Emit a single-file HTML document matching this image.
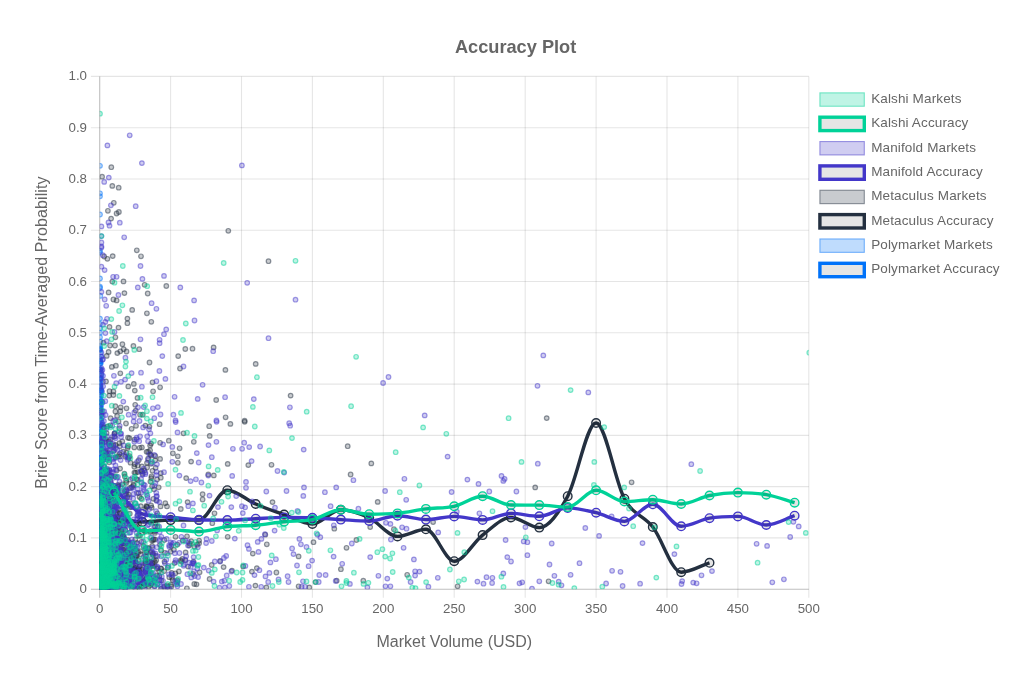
<!DOCTYPE html><html><head><meta charset="utf-8"><style>html,body{margin:0;padding:0;background:#fff}svg{display:block;will-change:transform}text{font-family:"Liberation Sans",sans-serif;fill:#666}</style></head><body>
<svg width="1029" height="678" viewBox="0 0 1029 678">
<rect width="1029" height="678" fill="#fff"/>
<g stroke="rgba(0,0,0,0.1)" stroke-width="1.1"><line x1="170.6" y1="76.4" x2="170.6" y2="597.8"/><line x1="90.9" y1="537.9" x2="808.8" y2="537.9"/><line x1="241.5" y1="76.4" x2="241.5" y2="597.8"/><line x1="90.9" y1="486.6" x2="808.8" y2="486.6"/><line x1="312.4" y1="76.4" x2="312.4" y2="597.8"/><line x1="90.9" y1="435.4" x2="808.8" y2="435.4"/><line x1="383.3" y1="76.4" x2="383.3" y2="597.8"/><line x1="90.9" y1="384.1" x2="808.8" y2="384.1"/><line x1="454.2" y1="76.4" x2="454.2" y2="597.8"/><line x1="90.9" y1="332.8" x2="808.8" y2="332.8"/><line x1="525.2" y1="76.4" x2="525.2" y2="597.8"/><line x1="90.9" y1="281.5" x2="808.8" y2="281.5"/><line x1="596.1" y1="76.4" x2="596.1" y2="597.8"/><line x1="90.9" y1="230.2" x2="808.8" y2="230.2"/><line x1="667.0" y1="76.4" x2="667.0" y2="597.8"/><line x1="90.9" y1="179.0" x2="808.8" y2="179.0"/><line x1="737.9" y1="76.4" x2="737.9" y2="597.8"/><line x1="90.9" y1="127.7" x2="808.8" y2="127.7"/><line x1="808.8" y1="76.4" x2="808.8" y2="597.8"/><line x1="90.9" y1="76.4" x2="808.8" y2="76.4"/></g><g stroke="rgba(0,0,0,0.25)" stroke-width="1.1"><line x1="99.7" y1="76.4" x2="99.7" y2="597.8"/><line x1="90.9" y1="589.2" x2="808.8" y2="589.2"/></g>
<g font-size="13.3"><text x="87.0" y="593.2" text-anchor="end">0</text><text x="99.7" y="613.0" text-anchor="middle">0</text><text x="87.0" y="541.9" text-anchor="end">0.1</text><text x="170.6" y="613.0" text-anchor="middle">50</text><text x="87.0" y="490.6" text-anchor="end">0.2</text><text x="241.5" y="613.0" text-anchor="middle">100</text><text x="87.0" y="439.4" text-anchor="end">0.3</text><text x="312.4" y="613.0" text-anchor="middle">150</text><text x="87.0" y="388.1" text-anchor="end">0.4</text><text x="383.3" y="613.0" text-anchor="middle">200</text><text x="87.0" y="336.8" text-anchor="end">0.5</text><text x="454.2" y="613.0" text-anchor="middle">250</text><text x="87.0" y="285.5" text-anchor="end">0.6</text><text x="525.2" y="613.0" text-anchor="middle">300</text><text x="87.0" y="234.2" text-anchor="end">0.7</text><text x="596.1" y="613.0" text-anchor="middle">350</text><text x="87.0" y="183.0" text-anchor="end">0.8</text><text x="667.0" y="613.0" text-anchor="middle">400</text><text x="87.0" y="131.7" text-anchor="end">0.9</text><text x="737.9" y="613.0" text-anchor="middle">450</text><text x="87.0" y="80.4" text-anchor="end">1.0</text><text x="808.8" y="613.0" text-anchor="middle">500</text></g>
<text x="515.6" y="53" text-anchor="middle" font-size="18.2" font-weight="bold">Accuracy Plot</text>
<text x="454.3" y="646.8" text-anchor="middle" font-size="16">Market Volume (USD)</text>
<text transform="translate(47.3,332.6) rotate(-90)" text-anchor="middle" font-size="16" letter-spacing="0.1">Brier Score from Time-Averaged Probability</text>
<defs><clipPath id="ca"><rect x="99.7" y="76.4" width="709.1" height="512.8"/></clipPath></defs>
<g clip-path="url(#ca)">
<g fill="rgba(0,114,249,0.25)" stroke="rgba(0,114,249,0.5)" stroke-width="1.2"><circle cx="100.1" cy="574.9" r="2.3"/><circle cx="100.8" cy="582.6" r="2.3"/><circle cx="100.5" cy="549.5" r="2.3"/><circle cx="99.8" cy="527.5" r="2.3"/><circle cx="99.7" cy="539.6" r="2.3"/><circle cx="99.8" cy="580.9" r="2.3"/><circle cx="100.3" cy="436.3" r="2.3"/><circle cx="99.8" cy="567.2" r="2.3"/><circle cx="100.6" cy="545.1" r="2.3"/><circle cx="103.4" cy="585.0" r="2.3"/><circle cx="101.7" cy="559.4" r="2.3"/><circle cx="99.9" cy="578.3" r="2.3"/><circle cx="100.1" cy="441.6" r="2.3"/><circle cx="99.9" cy="513.2" r="2.3"/><circle cx="100.7" cy="548.6" r="2.3"/><circle cx="100.5" cy="583.5" r="2.3"/><circle cx="99.8" cy="569.1" r="2.3"/><circle cx="100.8" cy="540.6" r="2.3"/><circle cx="100.1" cy="512.4" r="2.3"/><circle cx="100.3" cy="558.1" r="2.3"/><circle cx="101.3" cy="484.5" r="2.3"/><circle cx="100.0" cy="514.7" r="2.3"/><circle cx="100.4" cy="407.8" r="2.3"/><circle cx="101.0" cy="559.6" r="2.3"/><circle cx="103.6" cy="578.2" r="2.3"/><circle cx="100.2" cy="465.8" r="2.3"/><circle cx="99.9" cy="530.7" r="2.3"/><circle cx="99.7" cy="493.0" r="2.3"/><circle cx="101.1" cy="515.0" r="2.3"/><circle cx="101.8" cy="556.4" r="2.3"/><circle cx="100.9" cy="510.5" r="2.3"/><circle cx="100.6" cy="536.1" r="2.3"/><circle cx="100.3" cy="494.1" r="2.3"/><circle cx="99.8" cy="483.8" r="2.3"/><circle cx="101.4" cy="560.0" r="2.3"/><circle cx="100.2" cy="492.9" r="2.3"/><circle cx="99.7" cy="535.2" r="2.3"/><circle cx="99.9" cy="578.3" r="2.3"/><circle cx="99.8" cy="461.7" r="2.3"/><circle cx="99.8" cy="564.4" r="2.3"/><circle cx="100.2" cy="410.4" r="2.3"/><circle cx="99.8" cy="537.2" r="2.3"/><circle cx="100.5" cy="401.9" r="2.3"/><circle cx="101.4" cy="415.3" r="2.3"/><circle cx="100.0" cy="542.4" r="2.3"/><circle cx="100.1" cy="401.3" r="2.3"/><circle cx="102.9" cy="574.9" r="2.3"/><circle cx="99.9" cy="566.2" r="2.3"/><circle cx="100.0" cy="531.4" r="2.3"/><circle cx="100.6" cy="562.6" r="2.3"/><circle cx="99.7" cy="541.9" r="2.3"/><circle cx="100.2" cy="516.4" r="2.3"/><circle cx="102.8" cy="487.0" r="2.3"/><circle cx="100.4" cy="505.4" r="2.3"/><circle cx="100.8" cy="584.4" r="2.3"/><circle cx="102.0" cy="457.2" r="2.3"/><circle cx="101.8" cy="449.8" r="2.3"/><circle cx="100.2" cy="544.8" r="2.3"/><circle cx="99.8" cy="501.5" r="2.3"/><circle cx="99.8" cy="583.1" r="2.3"/><circle cx="99.9" cy="573.8" r="2.3"/><circle cx="100.1" cy="584.5" r="2.3"/><circle cx="99.7" cy="574.9" r="2.3"/><circle cx="99.8" cy="549.8" r="2.3"/><circle cx="99.7" cy="408.4" r="2.3"/><circle cx="100.7" cy="575.2" r="2.3"/><circle cx="100.0" cy="552.0" r="2.3"/><circle cx="100.2" cy="577.8" r="2.3"/><circle cx="100.3" cy="531.5" r="2.3"/><circle cx="99.8" cy="579.8" r="2.3"/><circle cx="100.1" cy="562.4" r="2.3"/><circle cx="101.5" cy="573.9" r="2.3"/><circle cx="100.5" cy="575.4" r="2.3"/><circle cx="100.5" cy="586.8" r="2.3"/><circle cx="101.7" cy="485.3" r="2.3"/><circle cx="100.0" cy="549.4" r="2.3"/><circle cx="99.9" cy="460.3" r="2.3"/><circle cx="100.5" cy="457.6" r="2.3"/><circle cx="100.1" cy="567.2" r="2.3"/><circle cx="101.6" cy="446.2" r="2.3"/><circle cx="101.4" cy="471.8" r="2.3"/><circle cx="100.0" cy="525.6" r="2.3"/><circle cx="100.1" cy="586.6" r="2.3"/><circle cx="99.7" cy="560.6" r="2.3"/><circle cx="100.0" cy="486.4" r="2.3"/><circle cx="102.8" cy="537.5" r="2.3"/><circle cx="102.8" cy="549.7" r="2.3"/><circle cx="99.9" cy="566.8" r="2.3"/><circle cx="99.9" cy="569.3" r="2.3"/><circle cx="100.7" cy="388.2" r="2.3"/><circle cx="101.5" cy="532.3" r="2.3"/><circle cx="100.8" cy="449.1" r="2.3"/><circle cx="99.8" cy="495.0" r="2.3"/><circle cx="102.1" cy="456.3" r="2.3"/><circle cx="101.1" cy="532.5" r="2.3"/><circle cx="99.9" cy="453.5" r="2.3"/><circle cx="100.1" cy="448.5" r="2.3"/><circle cx="103.3" cy="545.3" r="2.3"/><circle cx="101.0" cy="573.0" r="2.3"/><circle cx="99.8" cy="574.9" r="2.3"/><circle cx="102.1" cy="446.0" r="2.3"/><circle cx="99.9" cy="436.5" r="2.3"/><circle cx="103.6" cy="495.9" r="2.3"/><circle cx="100.1" cy="519.8" r="2.3"/><circle cx="99.8" cy="587.9" r="2.3"/><circle cx="103.2" cy="497.8" r="2.3"/><circle cx="100.4" cy="352.7" r="2.3"/><circle cx="100.3" cy="410.2" r="2.3"/><circle cx="101.4" cy="568.5" r="2.3"/><circle cx="100.0" cy="559.0" r="2.3"/><circle cx="100.0" cy="512.2" r="2.3"/><circle cx="100.0" cy="541.9" r="2.3"/><circle cx="99.8" cy="379.3" r="2.3"/><circle cx="100.1" cy="535.8" r="2.3"/><circle cx="100.6" cy="384.6" r="2.3"/><circle cx="100.2" cy="371.5" r="2.3"/><circle cx="100.4" cy="523.0" r="2.3"/><circle cx="100.4" cy="587.6" r="2.3"/><circle cx="100.3" cy="571.6" r="2.3"/><circle cx="99.7" cy="449.3" r="2.3"/><circle cx="99.9" cy="533.3" r="2.3"/><circle cx="101.0" cy="518.3" r="2.3"/><circle cx="100.1" cy="525.5" r="2.3"/><circle cx="100.5" cy="455.5" r="2.3"/><circle cx="99.8" cy="517.6" r="2.3"/><circle cx="100.0" cy="560.9" r="2.3"/><circle cx="101.2" cy="527.4" r="2.3"/><circle cx="100.5" cy="464.8" r="2.3"/><circle cx="102.1" cy="538.1" r="2.3"/><circle cx="100.6" cy="527.8" r="2.3"/><circle cx="100.4" cy="486.3" r="2.3"/><circle cx="100.3" cy="522.8" r="2.3"/><circle cx="100.4" cy="341.7" r="2.3"/><circle cx="100.9" cy="406.8" r="2.3"/><circle cx="102.6" cy="563.0" r="2.3"/><circle cx="101.5" cy="576.3" r="2.3"/><circle cx="99.8" cy="538.3" r="2.3"/><circle cx="99.8" cy="565.2" r="2.3"/><circle cx="99.8" cy="492.7" r="2.3"/><circle cx="101.2" cy="391.0" r="2.3"/><circle cx="99.9" cy="479.4" r="2.3"/><circle cx="100.8" cy="575.7" r="2.3"/><circle cx="100.2" cy="531.0" r="2.3"/><circle cx="104.3" cy="433.5" r="2.3"/><circle cx="99.9" cy="540.0" r="2.3"/><circle cx="100.4" cy="553.1" r="2.3"/><circle cx="99.9" cy="555.8" r="2.3"/><circle cx="101.0" cy="587.5" r="2.3"/><circle cx="100.5" cy="538.6" r="2.3"/><circle cx="99.7" cy="554.1" r="2.3"/><circle cx="100.7" cy="526.6" r="2.3"/><circle cx="99.8" cy="562.3" r="2.3"/><circle cx="99.7" cy="457.6" r="2.3"/><circle cx="100.0" cy="577.1" r="2.3"/><circle cx="100.2" cy="377.9" r="2.3"/><circle cx="101.4" cy="563.1" r="2.3"/><circle cx="99.9" cy="369.9" r="2.3"/><circle cx="100.5" cy="484.1" r="2.3"/><circle cx="99.8" cy="584.0" r="2.3"/><circle cx="100.9" cy="540.9" r="2.3"/><circle cx="99.8" cy="346.3" r="2.3"/><circle cx="100.7" cy="448.2" r="2.3"/><circle cx="99.8" cy="420.1" r="2.3"/><circle cx="99.8" cy="416.1" r="2.3"/><circle cx="100.3" cy="553.1" r="2.3"/><circle cx="100.5" cy="361.4" r="2.3"/><circle cx="100.0" cy="577.1" r="2.3"/><circle cx="100.4" cy="565.5" r="2.3"/><circle cx="99.8" cy="573.9" r="2.3"/><circle cx="99.8" cy="569.6" r="2.3"/><circle cx="100.1" cy="557.5" r="2.3"/><circle cx="101.1" cy="559.3" r="2.3"/><circle cx="100.4" cy="572.1" r="2.3"/><circle cx="100.1" cy="587.6" r="2.3"/><circle cx="100.0" cy="587.9" r="2.3"/><circle cx="101.0" cy="519.4" r="2.3"/><circle cx="99.9" cy="533.1" r="2.3"/><circle cx="102.4" cy="579.4" r="2.3"/><circle cx="101.4" cy="539.9" r="2.3"/><circle cx="100.4" cy="432.3" r="2.3"/><circle cx="100.2" cy="527.6" r="2.3"/><circle cx="100.1" cy="433.5" r="2.3"/><circle cx="100.9" cy="501.1" r="2.3"/><circle cx="100.2" cy="552.0" r="2.3"/><circle cx="99.8" cy="577.1" r="2.3"/><circle cx="99.8" cy="471.5" r="2.3"/><circle cx="100.0" cy="573.7" r="2.3"/><circle cx="99.8" cy="428.7" r="2.3"/><circle cx="101.7" cy="492.4" r="2.3"/><circle cx="100.0" cy="565.0" r="2.3"/><circle cx="100.0" cy="535.6" r="2.3"/><circle cx="99.9" cy="537.7" r="2.3"/><circle cx="103.3" cy="520.2" r="2.3"/><circle cx="100.1" cy="550.8" r="2.3"/><circle cx="99.7" cy="547.3" r="2.3"/><circle cx="100.3" cy="528.3" r="2.3"/><circle cx="99.9" cy="527.9" r="2.3"/><circle cx="99.7" cy="562.5" r="2.3"/><circle cx="99.8" cy="544.7" r="2.3"/><circle cx="99.7" cy="587.2" r="2.3"/><circle cx="100.1" cy="566.1" r="2.3"/><circle cx="100.6" cy="523.5" r="2.3"/><circle cx="101.1" cy="495.8" r="2.3"/><circle cx="101.0" cy="405.0" r="2.3"/><circle cx="100.2" cy="554.8" r="2.3"/><circle cx="103.9" cy="575.1" r="2.3"/><circle cx="101.0" cy="499.4" r="2.3"/><circle cx="99.7" cy="432.0" r="2.3"/><circle cx="101.9" cy="503.2" r="2.3"/><circle cx="101.0" cy="443.4" r="2.3"/><circle cx="99.9" cy="524.5" r="2.3"/><circle cx="100.4" cy="432.2" r="2.3"/><circle cx="101.3" cy="436.6" r="2.3"/><circle cx="100.6" cy="394.5" r="2.3"/><circle cx="100.8" cy="486.2" r="2.3"/><circle cx="100.0" cy="586.4" r="2.3"/><circle cx="99.8" cy="550.2" r="2.3"/><circle cx="99.8" cy="431.7" r="2.3"/><circle cx="100.5" cy="503.0" r="2.3"/><circle cx="100.7" cy="489.7" r="2.3"/><circle cx="100.4" cy="588.9" r="2.3"/><circle cx="101.3" cy="469.0" r="2.3"/><circle cx="100.4" cy="522.4" r="2.3"/><circle cx="100.8" cy="583.2" r="2.3"/><circle cx="101.0" cy="563.9" r="2.3"/><circle cx="99.8" cy="562.3" r="2.3"/><circle cx="101.0" cy="569.2" r="2.3"/><circle cx="100.4" cy="547.2" r="2.3"/><circle cx="100.4" cy="488.9" r="2.3"/><circle cx="101.2" cy="505.5" r="2.3"/><circle cx="100.7" cy="582.2" r="2.3"/><circle cx="99.9" cy="563.7" r="2.3"/><circle cx="101.1" cy="557.6" r="2.3"/><circle cx="100.5" cy="588.1" r="2.3"/><circle cx="99.8" cy="561.9" r="2.3"/><circle cx="100.8" cy="486.5" r="2.3"/><circle cx="100.8" cy="559.2" r="2.3"/><circle cx="100.4" cy="534.7" r="2.3"/><circle cx="100.3" cy="578.2" r="2.3"/><circle cx="101.9" cy="569.8" r="2.3"/><circle cx="99.7" cy="535.6" r="2.3"/><circle cx="100.3" cy="561.9" r="2.3"/><circle cx="99.9" cy="513.3" r="2.3"/><circle cx="99.9" cy="524.5" r="2.3"/><circle cx="102.8" cy="576.8" r="2.3"/><circle cx="101.4" cy="527.2" r="2.3"/><circle cx="101.9" cy="483.3" r="2.3"/><circle cx="100.0" cy="390.4" r="2.3"/><circle cx="100.4" cy="587.0" r="2.3"/><circle cx="99.7" cy="530.2" r="2.3"/><circle cx="100.3" cy="557.9" r="2.3"/><circle cx="99.9" cy="552.5" r="2.3"/><circle cx="100.1" cy="429.3" r="2.3"/><circle cx="99.7" cy="468.1" r="2.3"/><circle cx="101.5" cy="578.1" r="2.3"/><circle cx="102.3" cy="480.4" r="2.3"/><circle cx="102.0" cy="559.4" r="2.3"/><circle cx="100.2" cy="545.7" r="2.3"/><circle cx="106.4" cy="511.6" r="2.3"/><circle cx="100.1" cy="540.5" r="2.3"/><circle cx="100.0" cy="584.9" r="2.3"/><circle cx="99.8" cy="432.3" r="2.3"/><circle cx="100.0" cy="350.1" r="2.3"/><circle cx="100.0" cy="562.3" r="2.3"/><circle cx="100.4" cy="570.8" r="2.3"/><circle cx="101.9" cy="443.5" r="2.3"/><circle cx="100.7" cy="375.9" r="2.3"/><circle cx="102.5" cy="519.7" r="2.3"/><circle cx="101.0" cy="584.8" r="2.3"/><circle cx="101.0" cy="536.9" r="2.3"/><circle cx="101.1" cy="499.0" r="2.3"/><circle cx="100.0" cy="584.8" r="2.3"/><circle cx="102.3" cy="577.3" r="2.3"/><circle cx="100.3" cy="552.5" r="2.3"/><circle cx="100.1" cy="472.1" r="2.3"/><circle cx="103.4" cy="562.9" r="2.3"/><circle cx="100.8" cy="558.0" r="2.3"/><circle cx="100.5" cy="545.5" r="2.3"/><circle cx="99.9" cy="573.8" r="2.3"/><circle cx="99.9" cy="383.1" r="2.3"/><circle cx="100.4" cy="567.5" r="2.3"/><circle cx="100.3" cy="576.1" r="2.3"/><circle cx="99.9" cy="580.9" r="2.3"/><circle cx="100.1" cy="580.9" r="2.3"/><circle cx="100.0" cy="563.1" r="2.3"/><circle cx="100.5" cy="398.9" r="2.3"/><circle cx="101.1" cy="542.8" r="2.3"/><circle cx="100.2" cy="524.5" r="2.3"/><circle cx="100.2" cy="553.2" r="2.3"/><circle cx="99.8" cy="560.9" r="2.3"/><circle cx="103.1" cy="577.5" r="2.3"/><circle cx="100.4" cy="502.6" r="2.3"/><circle cx="101.7" cy="568.0" r="2.3"/><circle cx="100.0" cy="564.3" r="2.3"/><circle cx="100.2" cy="537.7" r="2.3"/><circle cx="102.8" cy="424.6" r="2.3"/><circle cx="101.8" cy="587.3" r="2.3"/><circle cx="99.7" cy="481.4" r="2.3"/><circle cx="102.0" cy="533.3" r="2.3"/><circle cx="100.6" cy="589.2" r="2.3"/><circle cx="100.2" cy="361.2" r="2.3"/><circle cx="101.4" cy="420.6" r="2.3"/><circle cx="103.3" cy="564.3" r="2.3"/><circle cx="99.8" cy="574.6" r="2.3"/><circle cx="100.4" cy="489.3" r="2.3"/><circle cx="102.5" cy="477.7" r="2.3"/><circle cx="100.7" cy="463.0" r="2.3"/><circle cx="100.3" cy="519.3" r="2.3"/><circle cx="99.7" cy="456.3" r="2.3"/><circle cx="100.0" cy="369.1" r="2.3"/><circle cx="100.7" cy="557.6" r="2.3"/><circle cx="99.8" cy="563.9" r="2.3"/><circle cx="100.7" cy="484.7" r="2.3"/><circle cx="99.8" cy="582.8" r="2.3"/><circle cx="100.4" cy="513.0" r="2.3"/><circle cx="100.2" cy="567.1" r="2.3"/><circle cx="100.6" cy="588.3" r="2.3"/><circle cx="100.1" cy="535.4" r="2.3"/><circle cx="102.9" cy="499.0" r="2.3"/><circle cx="101.9" cy="533.0" r="2.3"/><circle cx="100.0" cy="564.5" r="2.3"/><circle cx="102.9" cy="482.9" r="2.3"/><circle cx="100.1" cy="587.3" r="2.3"/><circle cx="100.4" cy="491.4" r="2.3"/><circle cx="100.2" cy="563.3" r="2.3"/><circle cx="100.8" cy="363.2" r="2.3"/><circle cx="100.0" cy="586.2" r="2.3"/><circle cx="100.1" cy="541.6" r="2.3"/><circle cx="100.8" cy="570.0" r="2.3"/><circle cx="101.3" cy="472.1" r="2.3"/><circle cx="100.4" cy="569.2" r="2.3"/><circle cx="103.2" cy="556.6" r="2.3"/><circle cx="101.4" cy="566.3" r="2.3"/><circle cx="100.0" cy="464.6" r="2.3"/><circle cx="100.4" cy="571.1" r="2.3"/><circle cx="100.0" cy="542.2" r="2.3"/><circle cx="99.9" cy="545.6" r="2.3"/><circle cx="99.9" cy="584.6" r="2.3"/><circle cx="99.8" cy="545.6" r="2.3"/><circle cx="102.0" cy="401.7" r="2.3"/><circle cx="102.4" cy="554.4" r="2.3"/><circle cx="99.9" cy="349.7" r="2.3"/><circle cx="101.1" cy="586.4" r="2.3"/><circle cx="100.8" cy="547.7" r="2.3"/><circle cx="100.2" cy="554.1" r="2.3"/><circle cx="99.9" cy="588.9" r="2.3"/><circle cx="100.0" cy="551.4" r="2.3"/><circle cx="102.8" cy="577.7" r="2.3"/><circle cx="103.0" cy="568.9" r="2.3"/><circle cx="100.1" cy="438.9" r="2.3"/><circle cx="101.4" cy="539.8" r="2.3"/><circle cx="99.8" cy="533.3" r="2.3"/><circle cx="100.2" cy="369.6" r="2.3"/><circle cx="99.9" cy="549.7" r="2.3"/><circle cx="102.0" cy="586.5" r="2.3"/><circle cx="100.2" cy="443.6" r="2.3"/><circle cx="101.2" cy="585.6" r="2.3"/><circle cx="99.7" cy="583.6" r="2.3"/><circle cx="102.2" cy="563.3" r="2.3"/><circle cx="101.1" cy="389.7" r="2.3"/><circle cx="100.1" cy="561.5" r="2.3"/><circle cx="102.9" cy="505.5" r="2.3"/><circle cx="100.0" cy="479.3" r="2.3"/><circle cx="100.1" cy="561.1" r="2.3"/><circle cx="99.7" cy="466.4" r="2.3"/><circle cx="102.2" cy="501.6" r="2.3"/><circle cx="102.6" cy="587.1" r="2.3"/><circle cx="100.0" cy="533.0" r="2.3"/><circle cx="100.2" cy="564.0" r="2.3"/><circle cx="100.3" cy="529.9" r="2.3"/><circle cx="102.3" cy="571.6" r="2.3"/><circle cx="101.3" cy="472.3" r="2.3"/><circle cx="101.4" cy="460.0" r="2.3"/><circle cx="100.6" cy="554.6" r="2.3"/><circle cx="100.1" cy="550.0" r="2.3"/><circle cx="101.2" cy="582.0" r="2.3"/><circle cx="99.9" cy="467.3" r="2.3"/><circle cx="100.0" cy="583.4" r="2.3"/><circle cx="99.7" cy="519.1" r="2.3"/><circle cx="100.0" cy="581.5" r="2.3"/><circle cx="99.8" cy="529.0" r="2.3"/><circle cx="100.9" cy="537.6" r="2.3"/><circle cx="100.0" cy="542.2" r="2.3"/><circle cx="100.7" cy="491.5" r="2.3"/><circle cx="101.1" cy="425.6" r="2.3"/><circle cx="100.8" cy="577.9" r="2.3"/><circle cx="101.5" cy="558.9" r="2.3"/><circle cx="100.5" cy="548.5" r="2.3"/><circle cx="101.0" cy="569.8" r="2.3"/><circle cx="100.0" cy="564.7" r="2.3"/><circle cx="99.9" cy="401.3" r="2.3"/><circle cx="100.6" cy="554.8" r="2.3"/><circle cx="100.4" cy="566.3" r="2.3"/><circle cx="101.4" cy="496.8" r="2.3"/><circle cx="104.4" cy="579.8" r="2.3"/><circle cx="100.3" cy="440.1" r="2.3"/><circle cx="101.5" cy="374.9" r="2.3"/><circle cx="99.7" cy="558.9" r="2.3"/><circle cx="99.8" cy="570.9" r="2.3"/><circle cx="103.3" cy="512.9" r="2.3"/><circle cx="102.4" cy="548.6" r="2.3"/><circle cx="101.7" cy="537.2" r="2.3"/><circle cx="100.0" cy="458.1" r="2.3"/><circle cx="102.6" cy="579.5" r="2.3"/><circle cx="100.6" cy="504.9" r="2.3"/><circle cx="99.9" cy="549.1" r="2.3"/><circle cx="99.9" cy="569.3" r="2.3"/><circle cx="100.0" cy="509.4" r="2.3"/><circle cx="100.8" cy="569.4" r="2.3"/><circle cx="99.7" cy="554.6" r="2.3"/><circle cx="100.8" cy="571.4" r="2.3"/><circle cx="100.1" cy="569.4" r="2.3"/><circle cx="101.3" cy="520.0" r="2.3"/><circle cx="99.8" cy="579.9" r="2.3"/><circle cx="100.2" cy="519.6" r="2.3"/><circle cx="100.7" cy="580.9" r="2.3"/><circle cx="99.9" cy="485.6" r="2.3"/><circle cx="100.2" cy="560.2" r="2.3"/><circle cx="100.1" cy="516.3" r="2.3"/><circle cx="100.1" cy="542.2" r="2.3"/><circle cx="100.2" cy="570.1" r="2.3"/><circle cx="101.0" cy="569.3" r="2.3"/><circle cx="99.7" cy="387.0" r="2.3"/><circle cx="100.3" cy="439.5" r="2.3"/><circle cx="100.2" cy="402.3" r="2.3"/><circle cx="100.3" cy="573.7" r="2.3"/><circle cx="99.7" cy="519.3" r="2.3"/><circle cx="100.7" cy="379.5" r="2.3"/><circle cx="99.8" cy="504.3" r="2.3"/><circle cx="100.2" cy="528.0" r="2.3"/><circle cx="99.9" cy="560.2" r="2.3"/><circle cx="100.4" cy="362.8" r="2.3"/><circle cx="99.8" cy="530.4" r="2.3"/><circle cx="99.9" cy="577.4" r="2.3"/><circle cx="100.4" cy="584.4" r="2.3"/><circle cx="102.3" cy="546.4" r="2.3"/><circle cx="102.0" cy="504.8" r="2.3"/><circle cx="101.4" cy="574.0" r="2.3"/><circle cx="101.2" cy="567.3" r="2.3"/><circle cx="100.2" cy="425.9" r="2.3"/><circle cx="101.5" cy="571.6" r="2.3"/><circle cx="99.9" cy="544.7" r="2.3"/><circle cx="100.4" cy="547.0" r="2.3"/><circle cx="99.8" cy="564.5" r="2.3"/><circle cx="101.0" cy="390.8" r="2.3"/><circle cx="99.7" cy="517.2" r="2.3"/><circle cx="101.1" cy="585.8" r="2.3"/><circle cx="101.5" cy="578.3" r="2.3"/><circle cx="100.6" cy="519.6" r="2.3"/><circle cx="100.7" cy="557.3" r="2.3"/><circle cx="100.2" cy="513.0" r="2.3"/><circle cx="100.3" cy="495.4" r="2.3"/><circle cx="100.3" cy="538.9" r="2.3"/><circle cx="99.7" cy="505.1" r="2.3"/><circle cx="100.4" cy="565.8" r="2.3"/><circle cx="101.1" cy="457.2" r="2.3"/><circle cx="100.3" cy="571.9" r="2.3"/><circle cx="100.3" cy="579.3" r="2.3"/><circle cx="99.8" cy="540.1" r="2.3"/><circle cx="99.8" cy="538.3" r="2.3"/><circle cx="100.4" cy="585.6" r="2.3"/><circle cx="100.7" cy="581.7" r="2.3"/><circle cx="101.0" cy="458.1" r="2.3"/><circle cx="100.4" cy="584.3" r="2.3"/><circle cx="100.4" cy="547.8" r="2.3"/><circle cx="102.7" cy="576.4" r="2.3"/><circle cx="101.0" cy="442.1" r="2.3"/><circle cx="102.2" cy="573.5" r="2.3"/><circle cx="101.3" cy="356.6" r="2.3"/><circle cx="99.8" cy="551.5" r="2.3"/><circle cx="101.1" cy="574.1" r="2.3"/><circle cx="102.0" cy="561.2" r="2.3"/><circle cx="101.4" cy="575.7" r="2.3"/><circle cx="100.4" cy="369.1" r="2.3"/><circle cx="99.9" cy="562.6" r="2.3"/><circle cx="100.4" cy="555.7" r="2.3"/><circle cx="99.7" cy="571.7" r="2.3"/><circle cx="99.9" cy="349.0" r="2.3"/><circle cx="100.8" cy="392.4" r="2.3"/><circle cx="99.9" cy="455.3" r="2.3"/><circle cx="99.8" cy="523.2" r="2.3"/><circle cx="100.7" cy="550.3" r="2.3"/><circle cx="101.8" cy="518.6" r="2.3"/><circle cx="100.6" cy="402.5" r="2.3"/><circle cx="100.7" cy="545.5" r="2.3"/><circle cx="101.3" cy="562.4" r="2.3"/><circle cx="104.4" cy="514.1" r="2.3"/><circle cx="100.1" cy="463.1" r="2.3"/><circle cx="100.3" cy="572.2" r="2.3"/><circle cx="101.1" cy="584.9" r="2.3"/><circle cx="101.4" cy="563.7" r="2.3"/><circle cx="100.6" cy="494.2" r="2.3"/><circle cx="100.1" cy="589.0" r="2.3"/><circle cx="99.7" cy="575.1" r="2.3"/><circle cx="100.7" cy="539.9" r="2.3"/><circle cx="100.4" cy="392.3" r="2.3"/><circle cx="99.8" cy="566.7" r="2.3"/><circle cx="100.8" cy="587.2" r="2.3"/><circle cx="99.7" cy="551.0" r="2.3"/><circle cx="99.8" cy="550.7" r="2.3"/><circle cx="100.0" cy="512.8" r="2.3"/><circle cx="100.6" cy="569.3" r="2.3"/><circle cx="100.7" cy="533.0" r="2.3"/><circle cx="99.8" cy="348.8" r="2.3"/><circle cx="100.0" cy="575.1" r="2.3"/><circle cx="99.8" cy="500.6" r="2.3"/><circle cx="101.8" cy="456.3" r="2.3"/><circle cx="100.2" cy="562.4" r="2.3"/><circle cx="99.7" cy="498.9" r="2.3"/><circle cx="100.5" cy="551.6" r="2.3"/><circle cx="100.7" cy="538.1" r="2.3"/><circle cx="102.5" cy="473.9" r="2.3"/><circle cx="100.0" cy="385.4" r="2.3"/><circle cx="99.7" cy="523.1" r="2.3"/><circle cx="100.2" cy="565.5" r="2.3"/><circle cx="99.8" cy="457.7" r="2.3"/><circle cx="99.7" cy="519.4" r="2.3"/><circle cx="102.5" cy="575.8" r="2.3"/><circle cx="99.9" cy="507.5" r="2.3"/><circle cx="100.4" cy="499.8" r="2.3"/><circle cx="101.4" cy="572.5" r="2.3"/><circle cx="100.1" cy="558.1" r="2.3"/><circle cx="99.7" cy="397.3" r="2.3"/><circle cx="101.2" cy="479.6" r="2.3"/><circle cx="99.7" cy="427.0" r="2.3"/><circle cx="101.1" cy="534.6" r="2.3"/><circle cx="101.1" cy="536.7" r="2.3"/><circle cx="100.0" cy="579.5" r="2.3"/><circle cx="100.0" cy="585.7" r="2.3"/><circle cx="100.1" cy="468.5" r="2.3"/><circle cx="100.9" cy="426.5" r="2.3"/><circle cx="100.9" cy="562.2" r="2.3"/><circle cx="100.5" cy="539.3" r="2.3"/><circle cx="101.3" cy="524.6" r="2.3"/><circle cx="100.0" cy="499.7" r="2.3"/><circle cx="103.1" cy="567.9" r="2.3"/><circle cx="101.8" cy="587.9" r="2.3"/><circle cx="100.0" cy="565.7" r="2.3"/><circle cx="101.1" cy="554.7" r="2.3"/><circle cx="101.8" cy="554.5" r="2.3"/><circle cx="100.0" cy="381.6" r="2.3"/><circle cx="100.7" cy="486.3" r="2.3"/><circle cx="100.3" cy="429.6" r="2.3"/><circle cx="100.9" cy="419.3" r="2.3"/><circle cx="100.3" cy="476.8" r="2.3"/><circle cx="100.5" cy="557.1" r="2.3"/><circle cx="99.9" cy="504.2" r="2.3"/><circle cx="99.8" cy="378.5" r="2.3"/><circle cx="99.9" cy="586.8" r="2.3"/><circle cx="99.8" cy="358.7" r="2.3"/><circle cx="100.1" cy="575.9" r="2.3"/><circle cx="99.7" cy="585.5" r="2.3"/><circle cx="100.9" cy="501.6" r="2.3"/><circle cx="100.9" cy="472.8" r="2.3"/><circle cx="99.8" cy="511.4" r="2.3"/><circle cx="100.2" cy="440.9" r="2.3"/><circle cx="101.4" cy="395.8" r="2.3"/><circle cx="99.8" cy="412.8" r="2.3"/><circle cx="99.8" cy="569.1" r="2.3"/><circle cx="99.8" cy="586.1" r="2.3"/><circle cx="101.6" cy="443.5" r="2.3"/><circle cx="100.7" cy="437.2" r="2.3"/><circle cx="100.7" cy="559.7" r="2.3"/><circle cx="99.8" cy="580.2" r="2.3"/><circle cx="101.1" cy="569.2" r="2.3"/><circle cx="100.1" cy="541.1" r="2.3"/><circle cx="99.7" cy="563.3" r="2.3"/><circle cx="100.0" cy="479.5" r="2.3"/><circle cx="100.2" cy="555.5" r="2.3"/><circle cx="103.0" cy="528.1" r="2.3"/><circle cx="101.6" cy="505.2" r="2.3"/><circle cx="99.7" cy="542.8" r="2.3"/><circle cx="100.3" cy="459.9" r="2.3"/><circle cx="100.1" cy="482.9" r="2.3"/><circle cx="100.5" cy="567.9" r="2.3"/><circle cx="101.7" cy="580.9" r="2.3"/><circle cx="101.4" cy="572.9" r="2.3"/><circle cx="99.7" cy="569.5" r="2.3"/><circle cx="99.7" cy="530.4" r="2.3"/><circle cx="100.4" cy="450.3" r="2.3"/><circle cx="99.9" cy="529.7" r="2.3"/><circle cx="100.1" cy="433.8" r="2.3"/><circle cx="100.0" cy="568.1" r="2.3"/><circle cx="100.9" cy="529.1" r="2.3"/><circle cx="99.8" cy="501.0" r="2.3"/><circle cx="99.8" cy="454.0" r="2.3"/><circle cx="100.9" cy="454.4" r="2.3"/><circle cx="100.7" cy="550.9" r="2.3"/><circle cx="100.2" cy="545.4" r="2.3"/><circle cx="101.9" cy="581.3" r="2.3"/><circle cx="101.9" cy="587.0" r="2.3"/><circle cx="99.9" cy="562.6" r="2.3"/><circle cx="102.0" cy="528.6" r="2.3"/><circle cx="100.2" cy="401.4" r="2.3"/><circle cx="100.0" cy="535.3" r="2.3"/><circle cx="100.5" cy="466.8" r="2.3"/><circle cx="101.1" cy="498.6" r="2.3"/><circle cx="100.1" cy="554.7" r="2.3"/><circle cx="99.9" cy="427.7" r="2.3"/><circle cx="100.8" cy="471.1" r="2.3"/><circle cx="100.0" cy="165.8" r="2.3"/><circle cx="100.0" cy="193.3" r="2.3"/><circle cx="100.0" cy="196.3" r="2.3"/><circle cx="100.0" cy="214.5" r="2.3"/><circle cx="100.0" cy="250.8" r="2.3"/><circle cx="100.0" cy="252.6" r="2.3"/><circle cx="100.0" cy="278.4" r="2.3"/><circle cx="100.0" cy="286.7" r="2.3"/><circle cx="100.0" cy="288.0" r="2.3"/><circle cx="100.3" cy="295.9" r="2.3"/><circle cx="100.0" cy="318.6" r="2.3"/><circle cx="100.0" cy="323.9" r="2.3"/><circle cx="100.0" cy="328.3" r="2.3"/><circle cx="100.0" cy="332.7" r="2.3"/><circle cx="100.0" cy="337.2" r="2.3"/><circle cx="100.0" cy="347.8" r="2.3"/><circle cx="100.0" cy="361.1" r="2.3"/><circle cx="100.0" cy="363.7" r="2.3"/><circle cx="100.0" cy="386.7" r="2.3"/><circle cx="100.0" cy="399.1" r="2.3"/><circle cx="100.3" cy="402.7" r="2.3"/><circle cx="100.3" cy="406.2" r="2.3"/></g>
<path d="M113.9 520.0C123.3 520.6 132.8 521.9 142.2 521.9C151.7 521.9 161.2 520.1 170.6 520.1C180.1 520.1 189.5 520.1 199.0 520.1C208.4 520.1 217.9 490.2 227.3 490.2C236.8 490.2 246.2 499.9 255.7 504.0C265.2 508.1 274.6 511.3 284.1 514.6C293.5 517.9 303.0 524.0 312.4 524.0C321.9 524.0 331.3 509.8 340.8 509.8C350.2 509.8 359.7 513.4 369.2 517.8C378.6 522.2 388.1 536.4 397.5 536.4C407.0 536.4 416.4 529.3 425.9 529.3C435.3 529.3 444.8 561.2 454.2 561.2C463.7 561.2 473.2 542.4 482.6 535.1C492.1 527.8 501.5 517.5 511.0 517.5C520.4 517.5 529.9 527.6 539.3 527.6C548.8 527.6 558.3 513.6 567.7 496.2C577.2 478.8 586.6 423.0 596.1 423.0C605.5 423.0 615.0 481.4 624.4 498.7C633.9 516.0 643.3 514.8 652.8 527.0C662.3 539.2 671.7 572.2 681.2 572.2C690.6 572.2 700.1 565.9 709.5 562.8" fill="none" stroke="rgb(36,48,64)" stroke-width="3.4" stroke-linejoin="round"/><g fill="rgba(0,0,0,0.1)" stroke="rgb(36,48,64)" stroke-width="1.4"><circle cx="113.9" cy="520.0" r="4.3"/><circle cx="142.2" cy="521.9" r="4.3"/><circle cx="170.6" cy="520.1" r="4.3"/><circle cx="199.0" cy="520.1" r="4.3"/><circle cx="227.3" cy="490.2" r="4.3"/><circle cx="255.7" cy="504.0" r="4.3"/><circle cx="284.1" cy="514.6" r="4.3"/><circle cx="312.4" cy="524.0" r="4.3"/><circle cx="340.8" cy="509.8" r="4.3"/><circle cx="369.2" cy="517.8" r="4.3"/><circle cx="397.5" cy="536.4" r="4.3"/><circle cx="425.9" cy="529.3" r="4.3"/><circle cx="454.2" cy="561.2" r="4.3"/><circle cx="482.6" cy="535.1" r="4.3"/><circle cx="511.0" cy="517.5" r="4.3"/><circle cx="539.3" cy="527.6" r="4.3"/><circle cx="567.7" cy="496.2" r="4.3"/><circle cx="596.1" cy="423.0" r="4.3"/><circle cx="624.4" cy="498.7" r="4.3"/><circle cx="652.8" cy="527.0" r="4.3"/><circle cx="681.2" cy="572.2" r="4.3"/><circle cx="709.5" cy="562.8" r="4.3"/></g>
<g fill="rgba(36,48,64,0.25)" stroke="rgba(36,48,64,0.5)" stroke-width="1.2"><circle cx="108.9" cy="550.7" r="2.3"/><circle cx="145.3" cy="531.5" r="2.3"/><circle cx="107.5" cy="547.9" r="2.3"/><circle cx="164.3" cy="571.1" r="2.3"/><circle cx="109.7" cy="565.3" r="2.3"/><circle cx="137.7" cy="465.5" r="2.3"/><circle cx="108.4" cy="577.9" r="2.3"/><circle cx="111.7" cy="562.8" r="2.3"/><circle cx="124.4" cy="577.5" r="2.3"/><circle cx="114.8" cy="575.2" r="2.3"/><circle cx="106.7" cy="556.9" r="2.3"/><circle cx="140.7" cy="551.1" r="2.3"/><circle cx="109.8" cy="521.5" r="2.3"/><circle cx="106.9" cy="573.8" r="2.3"/><circle cx="117.5" cy="586.9" r="2.3"/><circle cx="118.0" cy="484.8" r="2.3"/><circle cx="136.8" cy="542.9" r="2.3"/><circle cx="131.7" cy="547.7" r="2.3"/><circle cx="108.0" cy="527.5" r="2.3"/><circle cx="118.2" cy="499.2" r="2.3"/><circle cx="170.5" cy="551.7" r="2.3"/><circle cx="127.6" cy="497.0" r="2.3"/><circle cx="119.0" cy="571.9" r="2.3"/><circle cx="139.6" cy="447.8" r="2.3"/><circle cx="145.3" cy="508.9" r="2.3"/><circle cx="157.3" cy="513.3" r="2.3"/><circle cx="132.4" cy="548.9" r="2.3"/><circle cx="114.2" cy="523.2" r="2.3"/><circle cx="106.6" cy="552.9" r="2.3"/><circle cx="146.4" cy="506.0" r="2.3"/><circle cx="131.5" cy="570.0" r="2.3"/><circle cx="119.1" cy="548.7" r="2.3"/><circle cx="130.9" cy="554.1" r="2.3"/><circle cx="109.4" cy="518.4" r="2.3"/><circle cx="145.9" cy="556.4" r="2.3"/><circle cx="104.8" cy="536.9" r="2.3"/><circle cx="108.6" cy="487.7" r="2.3"/><circle cx="182.8" cy="540.4" r="2.3"/><circle cx="106.7" cy="532.2" r="2.3"/><circle cx="125.5" cy="505.0" r="2.3"/><circle cx="123.8" cy="521.2" r="2.3"/><circle cx="153.1" cy="540.0" r="2.3"/><circle cx="110.3" cy="512.3" r="2.3"/><circle cx="117.7" cy="493.3" r="2.3"/><circle cx="116.0" cy="585.3" r="2.3"/><circle cx="112.7" cy="555.2" r="2.3"/><circle cx="104.1" cy="553.0" r="2.3"/><circle cx="119.0" cy="509.3" r="2.3"/><circle cx="115.9" cy="568.7" r="2.3"/><circle cx="110.8" cy="499.0" r="2.3"/><circle cx="110.6" cy="481.4" r="2.3"/><circle cx="117.6" cy="573.3" r="2.3"/><circle cx="107.6" cy="489.3" r="2.3"/><circle cx="150.1" cy="522.1" r="2.3"/><circle cx="121.4" cy="534.2" r="2.3"/><circle cx="115.9" cy="521.3" r="2.3"/><circle cx="151.5" cy="476.3" r="2.3"/><circle cx="121.4" cy="566.0" r="2.3"/><circle cx="126.0" cy="580.3" r="2.3"/><circle cx="153.9" cy="560.0" r="2.3"/><circle cx="156.9" cy="568.5" r="2.3"/><circle cx="116.9" cy="569.7" r="2.3"/><circle cx="119.2" cy="575.5" r="2.3"/><circle cx="103.8" cy="503.9" r="2.3"/><circle cx="112.9" cy="570.5" r="2.3"/><circle cx="113.8" cy="545.7" r="2.3"/><circle cx="119.4" cy="521.6" r="2.3"/><circle cx="133.8" cy="559.2" r="2.3"/><circle cx="105.3" cy="471.9" r="2.3"/><circle cx="107.9" cy="470.6" r="2.3"/><circle cx="131.8" cy="588.2" r="2.3"/><circle cx="133.6" cy="570.0" r="2.3"/><circle cx="106.7" cy="578.9" r="2.3"/><circle cx="111.2" cy="489.4" r="2.3"/><circle cx="115.6" cy="578.2" r="2.3"/><circle cx="108.8" cy="441.4" r="2.3"/><circle cx="129.9" cy="487.9" r="2.3"/><circle cx="134.6" cy="439.6" r="2.3"/><circle cx="147.1" cy="467.5" r="2.3"/><circle cx="109.9" cy="510.5" r="2.3"/><circle cx="124.9" cy="498.9" r="2.3"/><circle cx="119.9" cy="446.3" r="2.3"/><circle cx="126.4" cy="568.7" r="2.3"/><circle cx="111.2" cy="579.2" r="2.3"/><circle cx="122.7" cy="585.2" r="2.3"/><circle cx="121.3" cy="578.8" r="2.3"/><circle cx="122.6" cy="543.2" r="2.3"/><circle cx="125.4" cy="456.7" r="2.3"/><circle cx="103.9" cy="466.7" r="2.3"/><circle cx="121.4" cy="534.1" r="2.3"/><circle cx="134.3" cy="466.8" r="2.3"/><circle cx="116.9" cy="553.0" r="2.3"/><circle cx="194.3" cy="584.0" r="2.3"/><circle cx="132.1" cy="521.8" r="2.3"/><circle cx="104.5" cy="526.5" r="2.3"/><circle cx="123.7" cy="545.0" r="2.3"/><circle cx="167.5" cy="586.9" r="2.3"/><circle cx="139.2" cy="523.8" r="2.3"/><circle cx="115.3" cy="457.3" r="2.3"/><circle cx="116.5" cy="546.3" r="2.3"/><circle cx="124.6" cy="491.1" r="2.3"/><circle cx="110.3" cy="551.1" r="2.3"/><circle cx="119.1" cy="535.4" r="2.3"/><circle cx="152.8" cy="566.1" r="2.3"/><circle cx="152.9" cy="554.7" r="2.3"/><circle cx="123.3" cy="568.1" r="2.3"/><circle cx="133.5" cy="484.5" r="2.3"/><circle cx="115.0" cy="563.8" r="2.3"/><circle cx="113.7" cy="530.3" r="2.3"/><circle cx="131.9" cy="487.0" r="2.3"/><circle cx="104.8" cy="503.7" r="2.3"/><circle cx="105.1" cy="565.4" r="2.3"/><circle cx="103.9" cy="575.2" r="2.3"/><circle cx="133.7" cy="485.5" r="2.3"/><circle cx="130.6" cy="523.5" r="2.3"/><circle cx="137.1" cy="528.7" r="2.3"/><circle cx="135.7" cy="573.3" r="2.3"/><circle cx="134.5" cy="548.4" r="2.3"/><circle cx="144.0" cy="582.1" r="2.3"/><circle cx="109.3" cy="586.7" r="2.3"/><circle cx="145.4" cy="425.6" r="2.3"/><circle cx="133.6" cy="558.5" r="2.3"/><circle cx="152.1" cy="486.3" r="2.3"/><circle cx="126.8" cy="569.3" r="2.3"/><circle cx="113.8" cy="552.7" r="2.3"/><circle cx="114.4" cy="551.6" r="2.3"/><circle cx="105.3" cy="533.3" r="2.3"/><circle cx="104.8" cy="580.8" r="2.3"/><circle cx="150.2" cy="532.1" r="2.3"/><circle cx="173.9" cy="549.8" r="2.3"/><circle cx="104.1" cy="556.6" r="2.3"/><circle cx="118.6" cy="582.0" r="2.3"/><circle cx="132.7" cy="573.3" r="2.3"/><circle cx="108.3" cy="588.2" r="2.3"/><circle cx="103.8" cy="512.5" r="2.3"/><circle cx="106.3" cy="453.4" r="2.3"/><circle cx="107.6" cy="588.0" r="2.3"/><circle cx="139.3" cy="570.7" r="2.3"/><circle cx="140.7" cy="575.4" r="2.3"/><circle cx="105.1" cy="490.0" r="2.3"/><circle cx="138.7" cy="460.2" r="2.3"/><circle cx="140.3" cy="583.3" r="2.3"/><circle cx="131.4" cy="506.9" r="2.3"/><circle cx="139.1" cy="588.4" r="2.3"/><circle cx="104.1" cy="519.1" r="2.3"/><circle cx="151.3" cy="583.7" r="2.3"/><circle cx="114.1" cy="502.1" r="2.3"/><circle cx="108.8" cy="457.7" r="2.3"/><circle cx="122.4" cy="585.1" r="2.3"/><circle cx="116.5" cy="532.2" r="2.3"/><circle cx="119.9" cy="513.9" r="2.3"/><circle cx="108.1" cy="482.8" r="2.3"/><circle cx="116.3" cy="520.2" r="2.3"/><circle cx="131.5" cy="553.1" r="2.3"/><circle cx="117.3" cy="486.3" r="2.3"/><circle cx="127.1" cy="566.1" r="2.3"/><circle cx="137.7" cy="472.1" r="2.3"/><circle cx="115.0" cy="527.1" r="2.3"/><circle cx="129.4" cy="564.6" r="2.3"/><circle cx="119.4" cy="443.2" r="2.3"/><circle cx="116.9" cy="512.2" r="2.3"/><circle cx="129.5" cy="438.2" r="2.3"/><circle cx="149.8" cy="567.0" r="2.3"/><circle cx="103.7" cy="568.9" r="2.3"/><circle cx="119.1" cy="530.3" r="2.3"/><circle cx="151.1" cy="443.6" r="2.3"/><circle cx="104.9" cy="469.8" r="2.3"/><circle cx="150.5" cy="454.6" r="2.3"/><circle cx="127.5" cy="567.9" r="2.3"/><circle cx="157.0" cy="479.5" r="2.3"/><circle cx="136.0" cy="425.8" r="2.3"/><circle cx="115.6" cy="583.3" r="2.3"/><circle cx="126.3" cy="482.8" r="2.3"/><circle cx="110.0" cy="496.7" r="2.3"/><circle cx="178.9" cy="571.4" r="2.3"/><circle cx="129.8" cy="513.7" r="2.3"/><circle cx="121.2" cy="573.8" r="2.3"/><circle cx="111.9" cy="496.5" r="2.3"/><circle cx="147.6" cy="548.2" r="2.3"/><circle cx="106.3" cy="479.7" r="2.3"/><circle cx="145.1" cy="571.5" r="2.3"/><circle cx="128.0" cy="437.7" r="2.3"/><circle cx="164.3" cy="540.0" r="2.3"/><circle cx="121.8" cy="529.9" r="2.3"/><circle cx="109.6" cy="575.0" r="2.3"/><circle cx="109.3" cy="508.7" r="2.3"/><circle cx="116.3" cy="533.8" r="2.3"/><circle cx="118.1" cy="540.7" r="2.3"/><circle cx="108.2" cy="586.2" r="2.3"/><circle cx="106.8" cy="522.4" r="2.3"/><circle cx="147.0" cy="577.9" r="2.3"/><circle cx="129.2" cy="561.0" r="2.3"/><circle cx="124.2" cy="587.8" r="2.3"/><circle cx="160.0" cy="544.8" r="2.3"/><circle cx="127.1" cy="569.0" r="2.3"/><circle cx="146.0" cy="552.2" r="2.3"/><circle cx="111.9" cy="586.6" r="2.3"/><circle cx="110.0" cy="575.9" r="2.3"/><circle cx="106.1" cy="585.7" r="2.3"/><circle cx="126.5" cy="452.8" r="2.3"/><circle cx="171.1" cy="584.8" r="2.3"/><circle cx="129.2" cy="555.4" r="2.3"/><circle cx="112.0" cy="533.8" r="2.3"/><circle cx="134.7" cy="555.9" r="2.3"/><circle cx="120.4" cy="577.6" r="2.3"/><circle cx="110.7" cy="586.6" r="2.3"/><circle cx="112.0" cy="560.3" r="2.3"/><circle cx="154.5" cy="586.0" r="2.3"/><circle cx="146.9" cy="506.8" r="2.3"/><circle cx="105.3" cy="578.8" r="2.3"/><circle cx="135.3" cy="565.5" r="2.3"/><circle cx="128.8" cy="494.6" r="2.3"/><circle cx="106.8" cy="563.1" r="2.3"/><circle cx="112.0" cy="580.4" r="2.3"/><circle cx="122.1" cy="576.9" r="2.3"/><circle cx="111.3" cy="578.9" r="2.3"/><circle cx="135.4" cy="588.4" r="2.3"/><circle cx="139.1" cy="574.7" r="2.3"/><circle cx="160.1" cy="442.8" r="2.3"/><circle cx="107.9" cy="549.7" r="2.3"/><circle cx="155.4" cy="523.2" r="2.3"/><circle cx="120.6" cy="561.5" r="2.3"/><circle cx="152.2" cy="545.9" r="2.3"/><circle cx="131.4" cy="578.9" r="2.3"/><circle cx="110.7" cy="585.3" r="2.3"/><circle cx="138.7" cy="535.5" r="2.3"/><circle cx="108.1" cy="452.8" r="2.3"/><circle cx="112.4" cy="553.8" r="2.3"/><circle cx="108.4" cy="568.1" r="2.3"/><circle cx="154.9" cy="562.1" r="2.3"/><circle cx="108.8" cy="544.2" r="2.3"/><circle cx="114.4" cy="433.6" r="2.3"/><circle cx="105.3" cy="438.9" r="2.3"/><circle cx="134.6" cy="573.4" r="2.3"/><circle cx="121.9" cy="566.7" r="2.3"/><circle cx="112.0" cy="574.2" r="2.3"/><circle cx="106.6" cy="566.4" r="2.3"/><circle cx="167.1" cy="585.3" r="2.3"/><circle cx="140.0" cy="566.0" r="2.3"/><circle cx="149.8" cy="561.4" r="2.3"/><circle cx="107.9" cy="589.1" r="2.3"/><circle cx="153.7" cy="539.3" r="2.3"/><circle cx="109.5" cy="551.1" r="2.3"/><circle cx="171.7" cy="572.8" r="2.3"/><circle cx="127.4" cy="579.3" r="2.3"/><circle cx="109.3" cy="491.1" r="2.3"/><circle cx="138.5" cy="574.6" r="2.3"/><circle cx="106.0" cy="583.1" r="2.3"/><circle cx="130.0" cy="543.6" r="2.3"/><circle cx="112.7" cy="573.8" r="2.3"/><circle cx="130.2" cy="507.2" r="2.3"/><circle cx="150.4" cy="530.9" r="2.3"/><circle cx="110.0" cy="584.7" r="2.3"/><circle cx="140.6" cy="554.2" r="2.3"/><circle cx="139.5" cy="585.4" r="2.3"/><circle cx="150.3" cy="562.0" r="2.3"/><circle cx="155.3" cy="456.0" r="2.3"/><circle cx="122.7" cy="588.2" r="2.3"/><circle cx="171.2" cy="546.0" r="2.3"/><circle cx="161.3" cy="568.6" r="2.3"/><circle cx="109.5" cy="470.4" r="2.3"/><circle cx="116.5" cy="577.3" r="2.3"/><circle cx="116.7" cy="529.0" r="2.3"/><circle cx="103.8" cy="540.3" r="2.3"/><circle cx="120.2" cy="540.9" r="2.3"/><circle cx="107.3" cy="505.6" r="2.3"/><circle cx="151.2" cy="455.5" r="2.3"/><circle cx="114.5" cy="506.4" r="2.3"/><circle cx="117.1" cy="496.4" r="2.3"/><circle cx="105.5" cy="451.7" r="2.3"/><circle cx="189.9" cy="543.7" r="2.3"/><circle cx="123.9" cy="538.8" r="2.3"/><circle cx="125.3" cy="587.8" r="2.3"/><circle cx="199.6" cy="572.3" r="2.3"/><circle cx="109.3" cy="582.0" r="2.3"/><circle cx="111.8" cy="475.9" r="2.3"/><circle cx="104.6" cy="582.4" r="2.3"/><circle cx="137.3" cy="574.7" r="2.3"/><circle cx="104.2" cy="528.2" r="2.3"/><circle cx="127.8" cy="539.9" r="2.3"/><circle cx="137.7" cy="582.0" r="2.3"/><circle cx="105.0" cy="580.4" r="2.3"/><circle cx="122.8" cy="542.9" r="2.3"/><circle cx="112.9" cy="580.5" r="2.3"/><circle cx="118.3" cy="579.4" r="2.3"/><circle cx="128.8" cy="457.6" r="2.3"/><circle cx="108.2" cy="532.5" r="2.3"/><circle cx="142.1" cy="577.2" r="2.3"/><circle cx="117.5" cy="552.8" r="2.3"/><circle cx="155.0" cy="539.5" r="2.3"/><circle cx="145.7" cy="561.6" r="2.3"/><circle cx="111.4" cy="562.0" r="2.3"/><circle cx="149.4" cy="426.6" r="2.3"/><circle cx="151.0" cy="463.8" r="2.3"/><circle cx="105.2" cy="540.6" r="2.3"/><circle cx="111.7" cy="552.6" r="2.3"/><circle cx="131.7" cy="559.0" r="2.3"/><circle cx="124.9" cy="584.4" r="2.3"/><circle cx="119.6" cy="542.4" r="2.3"/><circle cx="104.3" cy="579.2" r="2.3"/><circle cx="150.1" cy="445.4" r="2.3"/><circle cx="164.2" cy="586.9" r="2.3"/><circle cx="132.4" cy="568.6" r="2.3"/><circle cx="135.5" cy="567.9" r="2.3"/><circle cx="130.9" cy="570.0" r="2.3"/><circle cx="124.3" cy="551.3" r="2.3"/><circle cx="188.1" cy="566.6" r="2.3"/><circle cx="113.9" cy="519.7" r="2.3"/><circle cx="107.3" cy="529.1" r="2.3"/><circle cx="191.2" cy="541.1" r="2.3"/><circle cx="112.5" cy="547.3" r="2.3"/><circle cx="125.1" cy="578.5" r="2.3"/><circle cx="107.4" cy="579.8" r="2.3"/><circle cx="113.4" cy="554.4" r="2.3"/><circle cx="113.2" cy="570.6" r="2.3"/><circle cx="106.3" cy="536.5" r="2.3"/><circle cx="155.0" cy="526.4" r="2.3"/><circle cx="127.3" cy="519.1" r="2.3"/><circle cx="110.0" cy="506.6" r="2.3"/><circle cx="121.0" cy="536.3" r="2.3"/><circle cx="130.3" cy="547.0" r="2.3"/><circle cx="114.1" cy="570.7" r="2.3"/><circle cx="110.7" cy="541.3" r="2.3"/><circle cx="117.2" cy="530.5" r="2.3"/><circle cx="104.0" cy="560.2" r="2.3"/><circle cx="159.1" cy="571.0" r="2.3"/><circle cx="126.5" cy="544.1" r="2.3"/><circle cx="113.5" cy="490.6" r="2.3"/><circle cx="108.5" cy="584.6" r="2.3"/><circle cx="161.1" cy="550.5" r="2.3"/><circle cx="105.5" cy="556.5" r="2.3"/><circle cx="119.9" cy="500.6" r="2.3"/><circle cx="106.9" cy="572.2" r="2.3"/><circle cx="108.4" cy="561.8" r="2.3"/><circle cx="115.9" cy="514.2" r="2.3"/><circle cx="130.5" cy="462.7" r="2.3"/><circle cx="151.9" cy="540.6" r="2.3"/><circle cx="141.3" cy="498.6" r="2.3"/><circle cx="143.6" cy="546.2" r="2.3"/><circle cx="146.7" cy="507.0" r="2.3"/><circle cx="172.6" cy="580.1" r="2.3"/><circle cx="161.0" cy="588.9" r="2.3"/><circle cx="144.3" cy="530.4" r="2.3"/><circle cx="127.5" cy="553.1" r="2.3"/><circle cx="146.6" cy="451.8" r="2.3"/><circle cx="129.9" cy="557.4" r="2.3"/><circle cx="120.6" cy="548.4" r="2.3"/><circle cx="139.7" cy="566.1" r="2.3"/><circle cx="117.6" cy="535.2" r="2.3"/><circle cx="117.3" cy="563.3" r="2.3"/><circle cx="147.0" cy="462.9" r="2.3"/><circle cx="123.1" cy="550.1" r="2.3"/><circle cx="109.4" cy="565.0" r="2.3"/><circle cx="108.1" cy="532.1" r="2.3"/><circle cx="128.1" cy="583.1" r="2.3"/><circle cx="174.5" cy="563.1" r="2.3"/><circle cx="155.6" cy="467.8" r="2.3"/><circle cx="193.0" cy="574.0" r="2.3"/><circle cx="119.3" cy="428.3" r="2.3"/><circle cx="104.0" cy="586.0" r="2.3"/><circle cx="127.0" cy="543.3" r="2.3"/><circle cx="124.1" cy="540.6" r="2.3"/><circle cx="136.1" cy="556.3" r="2.3"/><circle cx="116.1" cy="529.0" r="2.3"/><circle cx="135.3" cy="539.5" r="2.3"/><circle cx="106.6" cy="557.9" r="2.3"/><circle cx="118.0" cy="534.3" r="2.3"/><circle cx="127.6" cy="447.9" r="2.3"/><circle cx="197.1" cy="544.7" r="2.3"/><circle cx="119.9" cy="523.9" r="2.3"/><circle cx="124.8" cy="476.4" r="2.3"/><circle cx="108.9" cy="563.7" r="2.3"/><circle cx="123.8" cy="581.4" r="2.3"/><circle cx="165.0" cy="552.8" r="2.3"/><circle cx="108.5" cy="566.4" r="2.3"/><circle cx="123.8" cy="542.3" r="2.3"/><circle cx="109.5" cy="575.8" r="2.3"/><circle cx="131.5" cy="527.6" r="2.3"/><circle cx="132.0" cy="586.3" r="2.3"/><circle cx="118.5" cy="485.9" r="2.3"/><circle cx="114.0" cy="511.0" r="2.3"/><circle cx="103.8" cy="565.0" r="2.3"/><circle cx="155.4" cy="530.4" r="2.3"/><circle cx="134.6" cy="574.6" r="2.3"/><circle cx="123.0" cy="535.5" r="2.3"/><circle cx="112.4" cy="519.8" r="2.3"/><circle cx="127.6" cy="553.9" r="2.3"/><circle cx="107.3" cy="577.8" r="2.3"/><circle cx="143.6" cy="581.7" r="2.3"/><circle cx="106.7" cy="576.7" r="2.3"/><circle cx="124.4" cy="473.7" r="2.3"/><circle cx="130.3" cy="479.7" r="2.3"/><circle cx="105.5" cy="588.4" r="2.3"/><circle cx="144.9" cy="563.2" r="2.3"/><circle cx="138.9" cy="560.1" r="2.3"/><circle cx="108.9" cy="568.5" r="2.3"/><circle cx="106.6" cy="433.1" r="2.3"/><circle cx="128.1" cy="560.6" r="2.3"/><circle cx="120.4" cy="556.7" r="2.3"/><circle cx="105.3" cy="441.7" r="2.3"/><circle cx="119.9" cy="524.7" r="2.3"/><circle cx="111.7" cy="586.2" r="2.3"/><circle cx="114.3" cy="436.5" r="2.3"/><circle cx="151.1" cy="565.1" r="2.3"/><circle cx="111.5" cy="556.3" r="2.3"/><circle cx="139.2" cy="572.5" r="2.3"/><circle cx="114.1" cy="450.4" r="2.3"/><circle cx="122.2" cy="484.3" r="2.3"/><circle cx="111.5" cy="576.5" r="2.3"/><circle cx="116.1" cy="575.4" r="2.3"/><circle cx="126.8" cy="581.1" r="2.3"/><circle cx="125.1" cy="556.7" r="2.3"/><circle cx="118.2" cy="584.7" r="2.3"/><circle cx="107.4" cy="472.7" r="2.3"/><circle cx="115.8" cy="570.5" r="2.3"/><circle cx="109.6" cy="567.0" r="2.3"/><circle cx="111.3" cy="586.8" r="2.3"/><circle cx="134.3" cy="561.4" r="2.3"/><circle cx="108.4" cy="507.6" r="2.3"/><circle cx="106.4" cy="568.3" r="2.3"/><circle cx="154.2" cy="580.1" r="2.3"/><circle cx="120.1" cy="468.6" r="2.3"/><circle cx="149.5" cy="577.6" r="2.3"/><circle cx="115.9" cy="503.7" r="2.3"/><circle cx="123.4" cy="572.0" r="2.3"/><circle cx="120.6" cy="579.8" r="2.3"/><circle cx="138.0" cy="569.1" r="2.3"/><circle cx="116.5" cy="570.4" r="2.3"/><circle cx="129.9" cy="573.3" r="2.3"/><circle cx="161.3" cy="580.5" r="2.3"/><circle cx="123.8" cy="537.1" r="2.3"/><circle cx="112.5" cy="490.7" r="2.3"/><circle cx="117.3" cy="517.8" r="2.3"/><circle cx="127.2" cy="564.4" r="2.3"/><circle cx="117.5" cy="583.2" r="2.3"/><circle cx="109.2" cy="462.3" r="2.3"/><circle cx="114.5" cy="516.7" r="2.3"/><circle cx="106.9" cy="534.2" r="2.3"/><circle cx="116.3" cy="542.9" r="2.3"/><circle cx="113.6" cy="584.7" r="2.3"/><circle cx="114.1" cy="572.1" r="2.3"/><circle cx="107.5" cy="505.1" r="2.3"/><circle cx="113.0" cy="554.8" r="2.3"/><circle cx="107.7" cy="567.6" r="2.3"/><circle cx="104.5" cy="513.3" r="2.3"/><circle cx="134.2" cy="560.3" r="2.3"/><circle cx="118.6" cy="517.5" r="2.3"/><circle cx="137.3" cy="570.2" r="2.3"/><circle cx="156.2" cy="560.3" r="2.3"/><circle cx="131.5" cy="575.8" r="2.3"/><circle cx="107.1" cy="426.7" r="2.3"/><circle cx="140.8" cy="506.1" r="2.3"/><circle cx="104.9" cy="586.5" r="2.3"/><circle cx="108.6" cy="574.5" r="2.3"/><circle cx="113.8" cy="557.3" r="2.3"/><circle cx="104.8" cy="564.4" r="2.3"/><circle cx="132.2" cy="576.0" r="2.3"/><circle cx="154.9" cy="532.9" r="2.3"/><circle cx="139.0" cy="569.6" r="2.3"/><circle cx="119.7" cy="512.3" r="2.3"/><circle cx="115.7" cy="589.1" r="2.3"/><circle cx="154.0" cy="489.3" r="2.3"/><circle cx="113.1" cy="586.3" r="2.3"/><circle cx="157.6" cy="526.9" r="2.3"/><circle cx="105.1" cy="570.5" r="2.3"/><circle cx="107.0" cy="484.7" r="2.3"/><circle cx="110.3" cy="425.3" r="2.3"/><circle cx="142.5" cy="583.2" r="2.3"/><circle cx="136.9" cy="555.8" r="2.3"/><circle cx="142.2" cy="471.6" r="2.3"/><circle cx="112.9" cy="582.9" r="2.3"/><circle cx="185.6" cy="552.4" r="2.3"/><circle cx="141.3" cy="471.1" r="2.3"/><circle cx="131.4" cy="549.0" r="2.3"/><circle cx="105.3" cy="509.3" r="2.3"/><circle cx="119.4" cy="541.4" r="2.3"/><circle cx="177.4" cy="580.1" r="2.3"/><circle cx="143.9" cy="586.2" r="2.3"/><circle cx="137.7" cy="480.0" r="2.3"/><circle cx="112.2" cy="536.5" r="2.3"/><circle cx="125.7" cy="570.0" r="2.3"/><circle cx="105.4" cy="559.7" r="2.3"/><circle cx="118.6" cy="574.2" r="2.3"/><circle cx="114.1" cy="579.4" r="2.3"/><circle cx="138.1" cy="515.2" r="2.3"/><circle cx="111.3" cy="570.8" r="2.3"/><circle cx="124.0" cy="549.9" r="2.3"/><circle cx="180.6" cy="560.3" r="2.3"/><circle cx="113.7" cy="445.2" r="2.3"/><circle cx="108.0" cy="534.0" r="2.3"/><circle cx="115.1" cy="476.6" r="2.3"/><circle cx="126.0" cy="493.9" r="2.3"/><circle cx="108.9" cy="516.0" r="2.3"/><circle cx="129.3" cy="548.0" r="2.3"/><circle cx="144.4" cy="470.6" r="2.3"/><circle cx="107.1" cy="566.4" r="2.3"/><circle cx="116.2" cy="573.8" r="2.3"/><circle cx="105.4" cy="567.2" r="2.3"/><circle cx="109.8" cy="508.6" r="2.3"/><circle cx="120.3" cy="581.2" r="2.3"/><circle cx="114.7" cy="547.0" r="2.3"/><circle cx="116.3" cy="576.9" r="2.3"/><circle cx="105.8" cy="588.5" r="2.3"/><circle cx="106.2" cy="505.0" r="2.3"/><circle cx="106.9" cy="544.5" r="2.3"/><circle cx="119.6" cy="575.2" r="2.3"/><circle cx="125.6" cy="588.6" r="2.3"/><circle cx="133.3" cy="569.9" r="2.3"/><circle cx="111.6" cy="579.2" r="2.3"/><circle cx="104.5" cy="489.9" r="2.3"/><circle cx="154.9" cy="565.8" r="2.3"/><circle cx="109.5" cy="521.4" r="2.3"/><circle cx="108.9" cy="486.8" r="2.3"/><circle cx="153.4" cy="498.8" r="2.3"/><circle cx="114.8" cy="575.6" r="2.3"/><circle cx="152.6" cy="563.5" r="2.3"/><circle cx="116.6" cy="535.8" r="2.3"/><circle cx="116.6" cy="470.5" r="2.3"/><circle cx="111.4" cy="586.4" r="2.3"/><circle cx="127.1" cy="523.2" r="2.3"/><circle cx="151.7" cy="507.7" r="2.3"/><circle cx="122.8" cy="543.1" r="2.3"/><circle cx="108.5" cy="565.5" r="2.3"/><circle cx="128.1" cy="583.6" r="2.3"/><circle cx="136.3" cy="577.3" r="2.3"/><circle cx="106.3" cy="586.5" r="2.3"/><circle cx="119.9" cy="575.1" r="2.3"/><circle cx="139.6" cy="589.0" r="2.3"/><circle cx="155.2" cy="460.3" r="2.3"/><circle cx="147.0" cy="552.3" r="2.3"/><circle cx="113.0" cy="517.0" r="2.3"/><circle cx="123.9" cy="552.7" r="2.3"/><circle cx="115.3" cy="550.7" r="2.3"/><circle cx="134.4" cy="472.6" r="2.3"/><circle cx="169.3" cy="577.2" r="2.3"/><circle cx="113.5" cy="550.2" r="2.3"/><circle cx="126.9" cy="560.7" r="2.3"/><circle cx="109.8" cy="583.3" r="2.3"/><circle cx="114.7" cy="548.1" r="2.3"/><circle cx="150.4" cy="585.1" r="2.3"/><circle cx="135.3" cy="526.6" r="2.3"/><circle cx="113.6" cy="532.8" r="2.3"/><circle cx="189.2" cy="545.5" r="2.3"/><circle cx="132.9" cy="565.5" r="2.3"/><circle cx="115.5" cy="445.0" r="2.3"/><circle cx="104.5" cy="575.2" r="2.3"/><circle cx="135.5" cy="549.7" r="2.3"/><circle cx="106.2" cy="517.2" r="2.3"/><circle cx="116.7" cy="531.2" r="2.3"/><circle cx="118.8" cy="538.9" r="2.3"/><circle cx="127.0" cy="555.6" r="2.3"/><circle cx="107.1" cy="575.9" r="2.3"/><circle cx="107.0" cy="457.1" r="2.3"/><circle cx="111.9" cy="582.5" r="2.3"/><circle cx="124.9" cy="569.9" r="2.3"/><circle cx="122.5" cy="535.4" r="2.3"/><circle cx="110.9" cy="532.5" r="2.3"/><circle cx="107.1" cy="541.2" r="2.3"/><circle cx="128.6" cy="583.6" r="2.3"/><circle cx="118.4" cy="584.1" r="2.3"/><circle cx="119.9" cy="456.5" r="2.3"/><circle cx="126.1" cy="505.6" r="2.3"/><circle cx="143.3" cy="581.1" r="2.3"/><circle cx="106.7" cy="471.0" r="2.3"/><circle cx="117.6" cy="576.7" r="2.3"/><circle cx="145.5" cy="579.4" r="2.3"/><circle cx="145.6" cy="585.2" r="2.3"/><circle cx="111.3" cy="558.2" r="2.3"/><circle cx="104.1" cy="529.1" r="2.3"/><circle cx="110.4" cy="565.4" r="2.3"/><circle cx="138.1" cy="552.2" r="2.3"/><circle cx="108.9" cy="498.0" r="2.3"/><circle cx="115.4" cy="493.1" r="2.3"/><circle cx="135.6" cy="472.8" r="2.3"/><circle cx="107.4" cy="558.1" r="2.3"/><circle cx="139.5" cy="586.2" r="2.3"/><circle cx="129.6" cy="582.2" r="2.3"/><circle cx="126.0" cy="480.9" r="2.3"/><circle cx="135.2" cy="569.6" r="2.3"/><circle cx="109.7" cy="549.7" r="2.3"/><circle cx="154.7" cy="531.2" r="2.3"/><circle cx="107.1" cy="587.8" r="2.3"/><circle cx="107.0" cy="481.7" r="2.3"/><circle cx="109.4" cy="535.3" r="2.3"/><circle cx="113.3" cy="511.7" r="2.3"/><circle cx="117.1" cy="578.8" r="2.3"/><circle cx="136.4" cy="479.1" r="2.3"/><circle cx="186.9" cy="588.3" r="2.3"/><circle cx="115.4" cy="578.3" r="2.3"/><circle cx="123.2" cy="451.6" r="2.3"/><circle cx="148.8" cy="586.8" r="2.3"/><circle cx="109.3" cy="475.5" r="2.3"/><circle cx="135.6" cy="556.0" r="2.3"/><circle cx="121.8" cy="577.7" r="2.3"/><circle cx="155.9" cy="555.9" r="2.3"/><circle cx="105.9" cy="562.6" r="2.3"/><circle cx="110.5" cy="439.6" r="2.3"/><circle cx="128.6" cy="586.2" r="2.3"/><circle cx="108.9" cy="559.3" r="2.3"/><circle cx="121.4" cy="531.8" r="2.3"/><circle cx="117.4" cy="560.1" r="2.3"/><circle cx="103.9" cy="531.5" r="2.3"/><circle cx="115.1" cy="587.8" r="2.3"/><circle cx="105.0" cy="578.7" r="2.3"/><circle cx="134.8" cy="568.0" r="2.3"/><circle cx="112.6" cy="543.0" r="2.3"/><circle cx="112.2" cy="533.1" r="2.3"/><circle cx="126.7" cy="491.0" r="2.3"/><circle cx="131.8" cy="522.1" r="2.3"/><circle cx="116.3" cy="567.2" r="2.3"/><circle cx="148.1" cy="451.7" r="2.3"/><circle cx="113.8" cy="493.1" r="2.3"/><circle cx="141.4" cy="541.8" r="2.3"/><circle cx="131.9" cy="560.4" r="2.3"/><circle cx="126.1" cy="554.5" r="2.3"/><circle cx="105.4" cy="561.8" r="2.3"/><circle cx="122.1" cy="558.7" r="2.3"/><circle cx="111.5" cy="571.4" r="2.3"/><circle cx="115.7" cy="579.5" r="2.3"/><circle cx="103.9" cy="452.7" r="2.3"/><circle cx="120.6" cy="549.9" r="2.3"/><circle cx="127.2" cy="565.2" r="2.3"/><circle cx="108.9" cy="584.6" r="2.3"/><circle cx="113.7" cy="564.6" r="2.3"/><circle cx="140.0" cy="535.8" r="2.3"/><circle cx="181.3" cy="561.5" r="2.3"/><circle cx="106.0" cy="576.1" r="2.3"/><circle cx="116.1" cy="489.9" r="2.3"/><circle cx="119.4" cy="454.1" r="2.3"/><circle cx="105.7" cy="545.0" r="2.3"/><circle cx="167.9" cy="567.7" r="2.3"/><circle cx="112.0" cy="587.6" r="2.3"/><circle cx="108.7" cy="568.4" r="2.3"/><circle cx="137.8" cy="572.8" r="2.3"/><circle cx="118.0" cy="574.3" r="2.3"/><circle cx="129.6" cy="456.2" r="2.3"/><circle cx="132.9" cy="574.6" r="2.3"/><circle cx="129.4" cy="583.7" r="2.3"/><circle cx="150.1" cy="450.3" r="2.3"/><circle cx="115.4" cy="579.4" r="2.3"/><circle cx="109.5" cy="537.9" r="2.3"/><circle cx="175.4" cy="573.3" r="2.3"/><circle cx="114.8" cy="497.0" r="2.3"/><circle cx="133.0" cy="554.6" r="2.3"/><circle cx="135.5" cy="561.7" r="2.3"/><circle cx="105.4" cy="553.5" r="2.3"/><circle cx="105.0" cy="523.6" r="2.3"/><circle cx="115.1" cy="543.7" r="2.3"/><circle cx="129.2" cy="569.4" r="2.3"/><circle cx="121.1" cy="588.3" r="2.3"/><circle cx="130.4" cy="503.3" r="2.3"/><circle cx="114.9" cy="582.7" r="2.3"/><circle cx="108.5" cy="578.9" r="2.3"/><circle cx="144.5" cy="582.9" r="2.3"/><circle cx="150.8" cy="552.5" r="2.3"/><circle cx="125.4" cy="530.0" r="2.3"/><circle cx="126.4" cy="517.8" r="2.3"/><circle cx="129.5" cy="562.4" r="2.3"/><circle cx="141.5" cy="569.3" r="2.3"/><circle cx="138.5" cy="493.1" r="2.3"/><circle cx="145.6" cy="564.5" r="2.3"/><circle cx="120.6" cy="567.5" r="2.3"/><circle cx="107.7" cy="588.6" r="2.3"/><circle cx="121.8" cy="518.2" r="2.3"/><circle cx="145.4" cy="559.2" r="2.3"/><circle cx="143.3" cy="582.9" r="2.3"/><circle cx="104.5" cy="579.6" r="2.3"/><circle cx="105.4" cy="542.7" r="2.3"/><circle cx="126.4" cy="575.8" r="2.3"/><circle cx="182.4" cy="558.9" r="2.3"/><circle cx="108.2" cy="576.2" r="2.3"/><circle cx="108.7" cy="587.2" r="2.3"/><circle cx="145.9" cy="570.7" r="2.3"/><circle cx="132.0" cy="561.1" r="2.3"/><circle cx="148.8" cy="548.1" r="2.3"/><circle cx="114.7" cy="433.3" r="2.3"/><circle cx="106.9" cy="501.1" r="2.3"/><circle cx="105.6" cy="520.1" r="2.3"/><circle cx="118.1" cy="456.2" r="2.3"/><circle cx="105.4" cy="533.8" r="2.3"/><circle cx="118.5" cy="421.5" r="2.3"/><circle cx="110.8" cy="569.9" r="2.3"/><circle cx="112.2" cy="551.3" r="2.3"/><circle cx="111.1" cy="574.1" r="2.3"/><circle cx="143.6" cy="520.6" r="2.3"/><circle cx="110.5" cy="533.0" r="2.3"/><circle cx="108.5" cy="456.7" r="2.3"/><circle cx="160.7" cy="568.5" r="2.3"/><circle cx="142.7" cy="473.8" r="2.3"/><circle cx="113.0" cy="562.4" r="2.3"/><circle cx="122.3" cy="441.5" r="2.3"/><circle cx="108.6" cy="512.7" r="2.3"/><circle cx="129.2" cy="549.0" r="2.3"/><circle cx="127.9" cy="446.2" r="2.3"/><circle cx="110.3" cy="445.8" r="2.3"/><circle cx="116.2" cy="488.3" r="2.3"/><circle cx="159.4" cy="575.8" r="2.3"/><circle cx="113.6" cy="587.6" r="2.3"/><circle cx="104.0" cy="427.5" r="2.3"/><circle cx="108.3" cy="500.4" r="2.3"/><circle cx="196.5" cy="584.3" r="2.3"/><circle cx="199.1" cy="543.3" r="2.3"/><circle cx="164.5" cy="561.6" r="2.3"/><circle cx="156.9" cy="575.7" r="2.3"/><circle cx="194.5" cy="546.7" r="2.3"/><circle cx="171.4" cy="586.4" r="2.3"/><circle cx="193.5" cy="561.6" r="2.3"/><circle cx="148.1" cy="561.9" r="2.3"/><circle cx="172.0" cy="577.7" r="2.3"/><circle cx="152.8" cy="553.4" r="2.3"/><circle cx="199.1" cy="540.6" r="2.3"/><circle cx="177.4" cy="544.6" r="2.3"/><circle cx="185.5" cy="560.3" r="2.3"/><circle cx="111.3" cy="167.2" r="2.3"/><circle cx="102.1" cy="176.7" r="2.3"/><circle cx="112.3" cy="185.9" r="2.3"/><circle cx="118.7" cy="187.7" r="2.3"/><circle cx="113.8" cy="202.8" r="2.3"/><circle cx="107.9" cy="210.8" r="2.3"/><circle cx="118.9" cy="212.0" r="2.3"/><circle cx="116.6" cy="213.5" r="2.3"/><circle cx="111.1" cy="218.6" r="2.3"/><circle cx="228.3" cy="230.8" r="2.3"/><circle cx="136.8" cy="250.3" r="2.3"/><circle cx="141.0" cy="256.3" r="2.3"/><circle cx="112.7" cy="256.1" r="2.3"/><circle cx="104.2" cy="256.5" r="2.3"/><circle cx="107.4" cy="258.8" r="2.3"/><circle cx="268.5" cy="261.2" r="2.3"/><circle cx="112.3" cy="281.6" r="2.3"/><circle cx="123.5" cy="281.4" r="2.3"/><circle cx="144.6" cy="284.8" r="2.3"/><circle cx="166.3" cy="286.0" r="2.3"/><circle cx="147.7" cy="293.5" r="2.3"/><circle cx="108.6" cy="292.4" r="2.3"/><circle cx="124.4" cy="293.1" r="2.3"/><circle cx="113.4" cy="299.5" r="2.3"/><circle cx="116.6" cy="300.4" r="2.3"/><circle cx="132.2" cy="309.9" r="2.3"/><circle cx="146.9" cy="313.3" r="2.3"/><circle cx="127.4" cy="318.6" r="2.3"/><circle cx="127.4" cy="323.2" r="2.3"/><circle cx="151.3" cy="321.8" r="2.3"/><circle cx="109.5" cy="326.9" r="2.3"/><circle cx="118.5" cy="327.6" r="2.3"/><circle cx="115.4" cy="337.3" r="2.3"/><circle cx="103.5" cy="342.7" r="2.3"/><circle cx="110.0" cy="345.5" r="2.3"/><circle cx="115.0" cy="345.5" r="2.3"/><circle cx="122.4" cy="344.2" r="2.3"/><circle cx="133.4" cy="346.0" r="2.3"/><circle cx="139.2" cy="349.2" r="2.3"/><circle cx="123.7" cy="349.2" r="2.3"/><circle cx="126.5" cy="351.5" r="2.3"/><circle cx="120.3" cy="351.3" r="2.3"/><circle cx="117.3" cy="353.1" r="2.3"/><circle cx="108.6" cy="351.9" r="2.3"/><circle cx="106.7" cy="355.9" r="2.3"/><circle cx="185.3" cy="349.0" r="2.3"/><circle cx="192.5" cy="348.7" r="2.3"/><circle cx="213.6" cy="347.4" r="2.3"/><circle cx="178.2" cy="356.1" r="2.3"/><circle cx="149.5" cy="362.5" r="2.3"/><circle cx="115.9" cy="365.7" r="2.3"/><circle cx="111.8" cy="366.9" r="2.3"/><circle cx="180.0" cy="368.5" r="2.3"/><circle cx="225.4" cy="369.9" r="2.3"/><circle cx="255.7" cy="363.9" r="2.3"/><circle cx="120.3" cy="373.3" r="2.3"/><circle cx="106.0" cy="381.4" r="2.3"/><circle cx="133.8" cy="383.9" r="2.3"/><circle cx="128.3" cy="386.4" r="2.3"/><circle cx="152.5" cy="382.3" r="2.3"/><circle cx="160.1" cy="387.3" r="2.3"/><circle cx="153.1" cy="391.3" r="2.3"/><circle cx="134.8" cy="390.6" r="2.3"/><circle cx="109.5" cy="391.2" r="2.3"/><circle cx="113.4" cy="391.5" r="2.3"/><circle cx="109.2" cy="395.6" r="2.3"/><circle cx="113.4" cy="395.0" r="2.3"/><circle cx="137.5" cy="397.9" r="2.3"/><circle cx="216.2" cy="400.0" r="2.3"/><circle cx="135.2" cy="404.8" r="2.3"/><circle cx="126.5" cy="408.3" r="2.3"/><circle cx="120.7" cy="407.3" r="2.3"/><circle cx="115.4" cy="406.2" r="2.3"/><circle cx="135.7" cy="410.6" r="2.3"/><circle cx="120.3" cy="411.2" r="2.3"/><circle cx="115.4" cy="411.5" r="2.3"/><circle cx="140.1" cy="414.7" r="2.3"/><circle cx="142.8" cy="414.7" r="2.3"/><circle cx="110.6" cy="418.2" r="2.3"/><circle cx="117.1" cy="415.9" r="2.3"/><circle cx="225.6" cy="417.3" r="2.3"/><circle cx="244.6" cy="420.7" r="2.3"/><circle cx="230.4" cy="423.9" r="2.3"/><circle cx="244.7" cy="421.8" r="2.3"/><circle cx="209.2" cy="426.2" r="2.3"/><circle cx="209.7" cy="435.9" r="2.3"/><circle cx="193.8" cy="441.8" r="2.3"/><circle cx="168.8" cy="440.7" r="2.3"/><circle cx="183.5" cy="433.3" r="2.3"/><circle cx="179.6" cy="448.3" r="2.3"/><circle cx="172.9" cy="453.3" r="2.3"/><circle cx="177.8" cy="456.3" r="2.3"/><circle cx="191.1" cy="461.6" r="2.3"/><circle cx="177.8" cy="462.8" r="2.3"/><circle cx="227.7" cy="463.9" r="2.3"/><circle cx="248.3" cy="465.1" r="2.3"/><circle cx="271.5" cy="464.8" r="2.3"/><circle cx="186.2" cy="478.1" r="2.3"/><circle cx="208.3" cy="474.5" r="2.3"/><circle cx="213.8" cy="475.4" r="2.3"/><circle cx="202.6" cy="494.2" r="2.3"/><circle cx="202.6" cy="499.5" r="2.3"/><circle cx="187.6" cy="502.1" r="2.3"/><circle cx="180.8" cy="509.0" r="2.3"/><circle cx="165.3" cy="503.2" r="2.3"/><circle cx="167.0" cy="506.4" r="2.3"/><circle cx="214.5" cy="513.3" r="2.3"/><circle cx="272.5" cy="502.1" r="2.3"/><circle cx="212.3" cy="523.2" r="2.3"/><circle cx="227.7" cy="536.8" r="2.3"/><circle cx="187.0" cy="536.3" r="2.3"/><circle cx="175.5" cy="536.8" r="2.3"/><circle cx="265.3" cy="534.7" r="2.3"/><circle cx="159.6" cy="424.2" r="2.3"/><circle cx="131.6" cy="428.8" r="2.3"/><circle cx="126.0" cy="423.5" r="2.3"/><circle cx="141.9" cy="447.4" r="2.3"/><circle cx="134.3" cy="447.4" r="2.3"/><circle cx="160.1" cy="458.9" r="2.3"/><circle cx="148.1" cy="458.6" r="2.3"/><circle cx="134.8" cy="464.2" r="2.3"/><circle cx="141.9" cy="466.4" r="2.3"/><circle cx="152.5" cy="470.8" r="2.3"/><circle cx="160.8" cy="473.1" r="2.3"/><circle cx="160.8" cy="477.7" r="2.3"/><circle cx="151.3" cy="478.1" r="2.3"/><circle cx="150.4" cy="481.6" r="2.3"/><circle cx="158.7" cy="487.3" r="2.3"/><circle cx="139.6" cy="497.0" r="2.3"/><circle cx="156.4" cy="500.2" r="2.3"/><circle cx="151.1" cy="505.5" r="2.3"/><circle cx="160.5" cy="506.4" r="2.3"/><circle cx="266.8" cy="544.3" r="2.3"/><circle cx="252.8" cy="553.6" r="2.3"/><circle cx="220.1" cy="561.0" r="2.3"/><circle cx="223.6" cy="567.1" r="2.3"/><circle cx="211.7" cy="565.0" r="2.3"/><circle cx="232.0" cy="570.6" r="2.3"/><circle cx="243.2" cy="566.4" r="2.3"/><circle cx="256.8" cy="568.1" r="2.3"/><circle cx="251.9" cy="571.6" r="2.3"/><circle cx="255.4" cy="585.6" r="2.3"/><circle cx="266.4" cy="587.4" r="2.3"/><circle cx="209.6" cy="579.0" r="2.3"/><circle cx="290.6" cy="395.6" r="2.3"/><circle cx="347.7" cy="446.2" r="2.3"/><circle cx="371.3" cy="463.4" r="2.3"/><circle cx="350.6" cy="474.5" r="2.3"/><circle cx="377.7" cy="501.9" r="2.3"/><circle cx="370.2" cy="527.1" r="2.3"/><circle cx="334.3" cy="528.7" r="2.3"/><circle cx="433.1" cy="522.1" r="2.3"/><circle cx="393.9" cy="529.2" r="2.3"/><circle cx="356.4" cy="540.0" r="2.3"/><circle cx="313.5" cy="542.2" r="2.3"/><circle cx="346.5" cy="547.8" r="2.3"/><circle cx="298.6" cy="556.4" r="2.3"/><circle cx="340.9" cy="569.2" r="2.3"/><circle cx="276.4" cy="572.5" r="2.3"/><circle cx="407.2" cy="574.8" r="2.3"/><circle cx="336.7" cy="580.7" r="2.3"/><circle cx="363.3" cy="580.7" r="2.3"/><circle cx="298.6" cy="586.3" r="2.3"/><circle cx="309.3" cy="587.4" r="2.3"/><circle cx="315.6" cy="582.1" r="2.3"/><circle cx="546.7" cy="418.1" r="2.3"/><circle cx="535.2" cy="487.4" r="2.3"/><circle cx="631.6" cy="482.3" r="2.3"/><circle cx="457.6" cy="586.3" r="2.3"/><circle cx="548.6" cy="581.3" r="2.3"/></g>
<path d="M113.9 488.0C123.3 496.6 132.8 510.7 142.2 513.9C151.7 517.1 161.2 516.5 170.6 517.2C180.1 517.9 189.5 519.5 199.0 519.8C208.4 520.1 217.9 520.1 227.3 520.1C236.8 520.1 246.2 519.2 255.7 518.7C265.2 518.2 274.6 517.4 284.1 517.4C293.5 517.4 303.0 517.4 312.4 517.8C321.9 518.2 331.3 519.1 340.8 519.6C350.2 520.1 359.7 521.0 369.2 521.0C378.6 521.0 388.1 515.7 397.5 515.7C407.0 515.7 416.4 519.6 425.9 519.6C435.3 519.6 444.8 516.4 454.2 516.4C463.7 516.4 473.2 519.9 482.6 519.9C492.1 519.9 501.5 513.4 511.0 513.4C520.4 513.4 529.9 516.3 539.3 516.3C548.8 516.3 558.3 507.9 567.7 507.9C577.2 507.9 586.6 510.5 596.1 512.7C605.5 515.0 615.0 521.4 624.4 521.4C633.9 521.4 643.3 504.3 652.8 504.3C662.3 504.3 671.7 526.3 681.2 526.3C690.6 526.3 700.1 519.9 709.5 518.2C719.0 516.6 728.4 516.4 737.9 516.4C747.3 516.4 756.8 525.0 766.3 525.0C775.7 525.0 785.2 518.8 794.6 515.7" fill="none" stroke="rgb(67,55,201)" stroke-width="3.4" stroke-linejoin="round"/><g fill="rgba(0,0,0,0.1)" stroke="rgb(67,55,201)" stroke-width="1.4"><circle cx="113.9" cy="488.0" r="4.3"/><circle cx="142.2" cy="513.9" r="4.3"/><circle cx="170.6" cy="517.2" r="4.3"/><circle cx="199.0" cy="519.8" r="4.3"/><circle cx="227.3" cy="520.1" r="4.3"/><circle cx="255.7" cy="518.7" r="4.3"/><circle cx="284.1" cy="517.4" r="4.3"/><circle cx="312.4" cy="517.8" r="4.3"/><circle cx="340.8" cy="519.6" r="4.3"/><circle cx="369.2" cy="521.0" r="4.3"/><circle cx="397.5" cy="515.7" r="4.3"/><circle cx="425.9" cy="519.6" r="4.3"/><circle cx="454.2" cy="516.4" r="4.3"/><circle cx="482.6" cy="519.9" r="4.3"/><circle cx="511.0" cy="513.4" r="4.3"/><circle cx="539.3" cy="516.3" r="4.3"/><circle cx="567.7" cy="507.9" r="4.3"/><circle cx="596.1" cy="512.7" r="4.3"/><circle cx="624.4" cy="521.4" r="4.3"/><circle cx="652.8" cy="504.3" r="4.3"/><circle cx="681.2" cy="526.3" r="4.3"/><circle cx="709.5" cy="518.2" r="4.3"/><circle cx="737.9" cy="516.4" r="4.3"/><circle cx="766.3" cy="525.0" r="4.3"/><circle cx="794.6" cy="515.7" r="4.3"/></g>
<g fill="rgba(67,55,201,0.25)" stroke="rgba(67,55,201,0.5)" stroke-width="1.2"><circle cx="100.4" cy="577.8" r="2.3"/><circle cx="107.7" cy="583.4" r="2.3"/><circle cx="102.6" cy="434.9" r="2.3"/><circle cx="108.5" cy="457.7" r="2.3"/><circle cx="127.0" cy="587.1" r="2.3"/><circle cx="101.6" cy="492.5" r="2.3"/><circle cx="107.9" cy="586.8" r="2.3"/><circle cx="104.6" cy="573.0" r="2.3"/><circle cx="103.6" cy="582.4" r="2.3"/><circle cx="102.4" cy="459.5" r="2.3"/><circle cx="100.6" cy="548.1" r="2.3"/><circle cx="100.7" cy="554.8" r="2.3"/><circle cx="101.1" cy="518.0" r="2.3"/><circle cx="100.8" cy="506.7" r="2.3"/><circle cx="104.6" cy="581.9" r="2.3"/><circle cx="102.8" cy="547.0" r="2.3"/><circle cx="117.3" cy="562.7" r="2.3"/><circle cx="101.4" cy="378.3" r="2.3"/><circle cx="114.7" cy="508.3" r="2.3"/><circle cx="101.9" cy="577.2" r="2.3"/><circle cx="101.9" cy="584.8" r="2.3"/><circle cx="100.0" cy="545.5" r="2.3"/><circle cx="103.4" cy="539.2" r="2.3"/><circle cx="102.9" cy="588.5" r="2.3"/><circle cx="107.9" cy="524.0" r="2.3"/><circle cx="105.2" cy="540.2" r="2.3"/><circle cx="114.2" cy="511.4" r="2.3"/><circle cx="103.3" cy="565.6" r="2.3"/><circle cx="103.1" cy="559.2" r="2.3"/><circle cx="103.4" cy="579.7" r="2.3"/><circle cx="144.6" cy="588.9" r="2.3"/><circle cx="106.3" cy="428.7" r="2.3"/><circle cx="101.8" cy="531.1" r="2.3"/><circle cx="103.0" cy="572.3" r="2.3"/><circle cx="101.2" cy="581.6" r="2.3"/><circle cx="112.7" cy="494.9" r="2.3"/><circle cx="116.4" cy="586.1" r="2.3"/><circle cx="108.0" cy="565.1" r="2.3"/><circle cx="107.0" cy="540.2" r="2.3"/><circle cx="102.4" cy="370.0" r="2.3"/><circle cx="99.7" cy="504.8" r="2.3"/><circle cx="113.1" cy="545.3" r="2.3"/><circle cx="101.6" cy="528.1" r="2.3"/><circle cx="109.2" cy="559.9" r="2.3"/><circle cx="108.4" cy="558.4" r="2.3"/><circle cx="104.9" cy="530.8" r="2.3"/><circle cx="107.6" cy="565.3" r="2.3"/><circle cx="106.6" cy="541.0" r="2.3"/><circle cx="101.5" cy="530.9" r="2.3"/><circle cx="101.9" cy="441.9" r="2.3"/><circle cx="104.2" cy="510.5" r="2.3"/><circle cx="104.9" cy="549.4" r="2.3"/><circle cx="101.5" cy="579.8" r="2.3"/><circle cx="118.1" cy="542.9" r="2.3"/><circle cx="104.9" cy="543.1" r="2.3"/><circle cx="111.4" cy="572.4" r="2.3"/><circle cx="101.0" cy="483.0" r="2.3"/><circle cx="104.0" cy="526.2" r="2.3"/><circle cx="112.0" cy="451.1" r="2.3"/><circle cx="113.9" cy="586.5" r="2.3"/><circle cx="103.1" cy="479.4" r="2.3"/><circle cx="111.6" cy="581.1" r="2.3"/><circle cx="100.9" cy="571.4" r="2.3"/><circle cx="100.5" cy="562.1" r="2.3"/><circle cx="111.1" cy="543.9" r="2.3"/><circle cx="103.9" cy="583.5" r="2.3"/><circle cx="108.0" cy="552.5" r="2.3"/><circle cx="104.3" cy="490.7" r="2.3"/><circle cx="109.7" cy="579.2" r="2.3"/><circle cx="107.7" cy="561.1" r="2.3"/><circle cx="104.8" cy="572.5" r="2.3"/><circle cx="102.9" cy="563.6" r="2.3"/><circle cx="103.1" cy="588.1" r="2.3"/><circle cx="101.3" cy="537.2" r="2.3"/><circle cx="100.1" cy="577.1" r="2.3"/><circle cx="108.6" cy="569.4" r="2.3"/><circle cx="102.4" cy="572.2" r="2.3"/><circle cx="112.3" cy="583.3" r="2.3"/><circle cx="106.8" cy="468.7" r="2.3"/><circle cx="101.3" cy="555.3" r="2.3"/><circle cx="110.7" cy="530.0" r="2.3"/><circle cx="103.0" cy="586.4" r="2.3"/><circle cx="103.8" cy="561.0" r="2.3"/><circle cx="108.4" cy="567.7" r="2.3"/><circle cx="103.4" cy="524.9" r="2.3"/><circle cx="111.4" cy="562.5" r="2.3"/><circle cx="103.1" cy="536.0" r="2.3"/><circle cx="117.8" cy="576.1" r="2.3"/><circle cx="124.6" cy="512.6" r="2.3"/><circle cx="103.0" cy="521.8" r="2.3"/><circle cx="102.5" cy="584.7" r="2.3"/><circle cx="109.6" cy="559.8" r="2.3"/><circle cx="104.9" cy="547.0" r="2.3"/><circle cx="115.9" cy="502.1" r="2.3"/><circle cx="99.9" cy="533.9" r="2.3"/><circle cx="104.0" cy="551.0" r="2.3"/><circle cx="112.5" cy="556.2" r="2.3"/><circle cx="104.2" cy="453.2" r="2.3"/><circle cx="103.8" cy="547.6" r="2.3"/><circle cx="104.7" cy="482.1" r="2.3"/><circle cx="107.5" cy="506.2" r="2.3"/><circle cx="103.3" cy="586.7" r="2.3"/><circle cx="107.7" cy="539.5" r="2.3"/><circle cx="110.0" cy="498.8" r="2.3"/><circle cx="100.6" cy="573.9" r="2.3"/><circle cx="100.3" cy="484.5" r="2.3"/><circle cx="100.5" cy="583.5" r="2.3"/><circle cx="109.5" cy="538.1" r="2.3"/><circle cx="100.1" cy="518.9" r="2.3"/><circle cx="108.4" cy="548.6" r="2.3"/><circle cx="100.1" cy="516.9" r="2.3"/><circle cx="103.5" cy="535.2" r="2.3"/><circle cx="143.5" cy="484.7" r="2.3"/><circle cx="114.1" cy="579.5" r="2.3"/><circle cx="102.5" cy="544.3" r="2.3"/><circle cx="101.9" cy="570.5" r="2.3"/><circle cx="102.3" cy="571.1" r="2.3"/><circle cx="113.4" cy="539.3" r="2.3"/><circle cx="104.7" cy="555.7" r="2.3"/><circle cx="100.1" cy="566.9" r="2.3"/><circle cx="113.8" cy="489.6" r="2.3"/><circle cx="113.3" cy="570.9" r="2.3"/><circle cx="101.3" cy="585.9" r="2.3"/><circle cx="105.1" cy="560.4" r="2.3"/><circle cx="104.1" cy="547.9" r="2.3"/><circle cx="105.8" cy="561.2" r="2.3"/><circle cx="111.0" cy="575.4" r="2.3"/><circle cx="117.3" cy="539.2" r="2.3"/><circle cx="100.1" cy="566.0" r="2.3"/><circle cx="105.0" cy="556.8" r="2.3"/><circle cx="105.5" cy="565.1" r="2.3"/><circle cx="101.9" cy="491.4" r="2.3"/><circle cx="102.1" cy="512.9" r="2.3"/><circle cx="111.1" cy="534.0" r="2.3"/><circle cx="103.9" cy="421.1" r="2.3"/><circle cx="103.8" cy="459.7" r="2.3"/><circle cx="100.1" cy="554.2" r="2.3"/><circle cx="106.8" cy="586.1" r="2.3"/><circle cx="113.6" cy="584.6" r="2.3"/><circle cx="106.0" cy="577.0" r="2.3"/><circle cx="117.6" cy="538.5" r="2.3"/><circle cx="111.0" cy="546.8" r="2.3"/><circle cx="107.5" cy="520.0" r="2.3"/><circle cx="102.1" cy="574.6" r="2.3"/><circle cx="112.5" cy="579.5" r="2.3"/><circle cx="117.2" cy="574.9" r="2.3"/><circle cx="100.4" cy="583.0" r="2.3"/><circle cx="103.4" cy="523.0" r="2.3"/><circle cx="101.8" cy="443.8" r="2.3"/><circle cx="107.8" cy="578.8" r="2.3"/><circle cx="100.1" cy="516.0" r="2.3"/><circle cx="100.0" cy="477.9" r="2.3"/><circle cx="102.1" cy="572.9" r="2.3"/><circle cx="105.8" cy="565.6" r="2.3"/><circle cx="105.5" cy="578.9" r="2.3"/><circle cx="116.7" cy="565.1" r="2.3"/><circle cx="112.6" cy="579.1" r="2.3"/><circle cx="103.2" cy="587.1" r="2.3"/><circle cx="103.0" cy="526.2" r="2.3"/><circle cx="101.5" cy="540.6" r="2.3"/><circle cx="100.4" cy="550.8" r="2.3"/><circle cx="108.8" cy="554.6" r="2.3"/><circle cx="107.7" cy="581.7" r="2.3"/><circle cx="112.0" cy="581.2" r="2.3"/><circle cx="119.3" cy="543.2" r="2.3"/><circle cx="102.1" cy="562.9" r="2.3"/><circle cx="109.4" cy="547.0" r="2.3"/><circle cx="118.3" cy="583.2" r="2.3"/><circle cx="104.3" cy="466.4" r="2.3"/><circle cx="106.1" cy="541.3" r="2.3"/><circle cx="100.3" cy="579.9" r="2.3"/><circle cx="101.9" cy="451.6" r="2.3"/><circle cx="112.8" cy="573.3" r="2.3"/><circle cx="117.8" cy="587.2" r="2.3"/><circle cx="102.7" cy="411.4" r="2.3"/><circle cx="107.2" cy="586.0" r="2.3"/><circle cx="102.5" cy="552.5" r="2.3"/><circle cx="101.7" cy="505.7" r="2.3"/><circle cx="101.1" cy="493.8" r="2.3"/><circle cx="102.2" cy="584.8" r="2.3"/><circle cx="105.4" cy="583.0" r="2.3"/><circle cx="105.3" cy="493.8" r="2.3"/><circle cx="106.0" cy="551.1" r="2.3"/><circle cx="99.9" cy="544.9" r="2.3"/><circle cx="100.4" cy="525.2" r="2.3"/><circle cx="100.7" cy="536.1" r="2.3"/><circle cx="102.7" cy="560.3" r="2.3"/><circle cx="107.3" cy="578.2" r="2.3"/><circle cx="101.0" cy="414.5" r="2.3"/><circle cx="102.5" cy="475.5" r="2.3"/><circle cx="114.2" cy="548.9" r="2.3"/><circle cx="100.8" cy="583.1" r="2.3"/><circle cx="114.5" cy="581.5" r="2.3"/><circle cx="104.5" cy="542.0" r="2.3"/><circle cx="100.6" cy="550.4" r="2.3"/><circle cx="101.0" cy="542.0" r="2.3"/><circle cx="104.6" cy="561.1" r="2.3"/><circle cx="101.2" cy="557.4" r="2.3"/><circle cx="101.3" cy="580.8" r="2.3"/><circle cx="101.6" cy="462.9" r="2.3"/><circle cx="104.6" cy="453.0" r="2.3"/><circle cx="99.8" cy="412.6" r="2.3"/><circle cx="104.4" cy="492.9" r="2.3"/><circle cx="105.6" cy="517.3" r="2.3"/><circle cx="101.5" cy="503.9" r="2.3"/><circle cx="100.9" cy="570.3" r="2.3"/><circle cx="99.9" cy="558.5" r="2.3"/><circle cx="104.8" cy="568.0" r="2.3"/><circle cx="115.2" cy="583.8" r="2.3"/><circle cx="105.7" cy="572.8" r="2.3"/><circle cx="106.0" cy="494.9" r="2.3"/><circle cx="108.4" cy="585.3" r="2.3"/><circle cx="101.7" cy="532.9" r="2.3"/><circle cx="128.2" cy="586.6" r="2.3"/><circle cx="106.4" cy="516.8" r="2.3"/><circle cx="111.5" cy="563.4" r="2.3"/><circle cx="111.3" cy="551.1" r="2.3"/><circle cx="117.5" cy="588.5" r="2.3"/><circle cx="119.4" cy="556.5" r="2.3"/><circle cx="103.4" cy="583.5" r="2.3"/><circle cx="101.7" cy="507.8" r="2.3"/><circle cx="107.6" cy="579.1" r="2.3"/><circle cx="102.7" cy="579.9" r="2.3"/><circle cx="101.2" cy="573.9" r="2.3"/><circle cx="102.5" cy="359.7" r="2.3"/><circle cx="141.1" cy="492.7" r="2.3"/><circle cx="104.3" cy="546.9" r="2.3"/><circle cx="110.3" cy="442.3" r="2.3"/><circle cx="109.4" cy="526.9" r="2.3"/><circle cx="101.3" cy="528.8" r="2.3"/><circle cx="112.8" cy="494.1" r="2.3"/><circle cx="100.4" cy="511.4" r="2.3"/><circle cx="102.7" cy="578.3" r="2.3"/><circle cx="123.3" cy="520.5" r="2.3"/><circle cx="109.3" cy="580.3" r="2.3"/><circle cx="116.2" cy="505.1" r="2.3"/><circle cx="112.2" cy="489.5" r="2.3"/><circle cx="105.9" cy="554.0" r="2.3"/><circle cx="111.9" cy="494.8" r="2.3"/><circle cx="114.0" cy="567.3" r="2.3"/><circle cx="122.4" cy="542.5" r="2.3"/><circle cx="120.1" cy="581.6" r="2.3"/><circle cx="123.9" cy="493.9" r="2.3"/><circle cx="101.7" cy="477.1" r="2.3"/><circle cx="101.5" cy="575.6" r="2.3"/><circle cx="104.0" cy="572.6" r="2.3"/><circle cx="104.4" cy="442.3" r="2.3"/><circle cx="107.8" cy="512.9" r="2.3"/><circle cx="103.2" cy="494.9" r="2.3"/><circle cx="110.7" cy="518.5" r="2.3"/><circle cx="119.6" cy="481.7" r="2.3"/><circle cx="103.3" cy="583.6" r="2.3"/><circle cx="107.1" cy="477.9" r="2.3"/><circle cx="102.6" cy="533.6" r="2.3"/><circle cx="112.4" cy="492.3" r="2.3"/><circle cx="99.7" cy="547.9" r="2.3"/><circle cx="99.8" cy="582.0" r="2.3"/><circle cx="111.4" cy="555.8" r="2.3"/><circle cx="106.2" cy="551.6" r="2.3"/><circle cx="102.6" cy="574.4" r="2.3"/><circle cx="102.8" cy="474.7" r="2.3"/><circle cx="106.5" cy="567.9" r="2.3"/><circle cx="100.3" cy="569.7" r="2.3"/><circle cx="108.2" cy="553.3" r="2.3"/><circle cx="107.3" cy="487.9" r="2.3"/><circle cx="100.6" cy="518.5" r="2.3"/><circle cx="100.0" cy="482.7" r="2.3"/><circle cx="101.1" cy="569.7" r="2.3"/><circle cx="121.8" cy="561.5" r="2.3"/><circle cx="101.5" cy="453.5" r="2.3"/><circle cx="106.3" cy="451.2" r="2.3"/><circle cx="103.2" cy="546.6" r="2.3"/><circle cx="121.5" cy="545.7" r="2.3"/><circle cx="131.0" cy="576.3" r="2.3"/><circle cx="112.1" cy="578.3" r="2.3"/><circle cx="104.9" cy="589.2" r="2.3"/><circle cx="101.0" cy="410.7" r="2.3"/><circle cx="103.9" cy="487.2" r="2.3"/><circle cx="101.7" cy="562.5" r="2.3"/><circle cx="100.4" cy="539.7" r="2.3"/><circle cx="113.6" cy="544.8" r="2.3"/><circle cx="103.0" cy="426.8" r="2.3"/><circle cx="115.4" cy="521.7" r="2.3"/><circle cx="100.3" cy="529.0" r="2.3"/><circle cx="102.8" cy="522.6" r="2.3"/><circle cx="106.7" cy="560.2" r="2.3"/><circle cx="104.9" cy="519.7" r="2.3"/><circle cx="116.3" cy="546.8" r="2.3"/><circle cx="102.9" cy="359.2" r="2.3"/><circle cx="100.1" cy="478.4" r="2.3"/><circle cx="107.8" cy="539.0" r="2.3"/><circle cx="103.9" cy="503.6" r="2.3"/><circle cx="115.2" cy="508.9" r="2.3"/><circle cx="109.4" cy="587.0" r="2.3"/><circle cx="102.5" cy="580.1" r="2.3"/><circle cx="121.1" cy="452.6" r="2.3"/><circle cx="100.8" cy="534.7" r="2.3"/><circle cx="105.7" cy="586.3" r="2.3"/><circle cx="103.2" cy="504.5" r="2.3"/><circle cx="106.9" cy="568.9" r="2.3"/><circle cx="109.8" cy="568.0" r="2.3"/><circle cx="105.2" cy="555.6" r="2.3"/><circle cx="126.5" cy="524.8" r="2.3"/><circle cx="111.1" cy="519.8" r="2.3"/><circle cx="103.1" cy="386.3" r="2.3"/><circle cx="108.4" cy="517.0" r="2.3"/><circle cx="102.0" cy="578.3" r="2.3"/><circle cx="105.7" cy="481.6" r="2.3"/><circle cx="110.7" cy="563.0" r="2.3"/><circle cx="100.8" cy="544.5" r="2.3"/><circle cx="114.4" cy="578.3" r="2.3"/><circle cx="109.1" cy="577.7" r="2.3"/><circle cx="102.3" cy="585.8" r="2.3"/><circle cx="102.2" cy="559.5" r="2.3"/><circle cx="101.2" cy="566.4" r="2.3"/><circle cx="119.8" cy="575.7" r="2.3"/><circle cx="102.4" cy="553.7" r="2.3"/><circle cx="100.5" cy="570.7" r="2.3"/><circle cx="103.2" cy="559.2" r="2.3"/><circle cx="122.9" cy="570.1" r="2.3"/><circle cx="101.3" cy="441.9" r="2.3"/><circle cx="103.9" cy="477.5" r="2.3"/><circle cx="106.8" cy="496.4" r="2.3"/><circle cx="102.3" cy="579.0" r="2.3"/><circle cx="109.6" cy="550.1" r="2.3"/><circle cx="105.4" cy="520.9" r="2.3"/><circle cx="109.5" cy="569.4" r="2.3"/><circle cx="102.9" cy="435.7" r="2.3"/><circle cx="105.0" cy="568.3" r="2.3"/><circle cx="106.7" cy="570.7" r="2.3"/><circle cx="110.0" cy="586.6" r="2.3"/><circle cx="112.0" cy="537.8" r="2.3"/><circle cx="102.8" cy="416.2" r="2.3"/><circle cx="101.9" cy="572.0" r="2.3"/><circle cx="100.2" cy="540.3" r="2.3"/><circle cx="109.5" cy="519.5" r="2.3"/><circle cx="103.4" cy="487.7" r="2.3"/><circle cx="100.5" cy="566.6" r="2.3"/><circle cx="106.7" cy="516.7" r="2.3"/><circle cx="110.1" cy="558.3" r="2.3"/><circle cx="119.4" cy="505.7" r="2.3"/><circle cx="102.6" cy="558.5" r="2.3"/><circle cx="111.2" cy="562.7" r="2.3"/><circle cx="101.1" cy="462.9" r="2.3"/><circle cx="105.0" cy="543.9" r="2.3"/><circle cx="107.4" cy="446.6" r="2.3"/><circle cx="100.7" cy="563.7" r="2.3"/><circle cx="100.2" cy="556.4" r="2.3"/><circle cx="104.6" cy="471.7" r="2.3"/><circle cx="107.4" cy="536.1" r="2.3"/><circle cx="103.3" cy="536.7" r="2.3"/><circle cx="101.9" cy="474.6" r="2.3"/><circle cx="110.6" cy="477.0" r="2.3"/><circle cx="100.8" cy="520.7" r="2.3"/><circle cx="109.5" cy="546.5" r="2.3"/><circle cx="115.7" cy="448.2" r="2.3"/><circle cx="109.2" cy="483.3" r="2.3"/><circle cx="107.0" cy="459.4" r="2.3"/><circle cx="100.7" cy="514.3" r="2.3"/><circle cx="108.2" cy="530.9" r="2.3"/><circle cx="102.0" cy="584.9" r="2.3"/><circle cx="106.2" cy="482.2" r="2.3"/><circle cx="101.9" cy="574.5" r="2.3"/><circle cx="101.5" cy="583.1" r="2.3"/><circle cx="111.0" cy="561.8" r="2.3"/><circle cx="108.1" cy="584.6" r="2.3"/><circle cx="112.5" cy="565.0" r="2.3"/><circle cx="99.7" cy="528.1" r="2.3"/><circle cx="100.7" cy="569.4" r="2.3"/><circle cx="100.1" cy="552.9" r="2.3"/><circle cx="105.4" cy="487.8" r="2.3"/><circle cx="100.0" cy="481.1" r="2.3"/><circle cx="100.5" cy="573.6" r="2.3"/><circle cx="106.6" cy="563.6" r="2.3"/><circle cx="102.5" cy="537.5" r="2.3"/><circle cx="101.4" cy="492.1" r="2.3"/><circle cx="101.3" cy="476.7" r="2.3"/><circle cx="111.3" cy="541.8" r="2.3"/><circle cx="99.9" cy="496.6" r="2.3"/><circle cx="99.9" cy="546.0" r="2.3"/><circle cx="103.6" cy="585.2" r="2.3"/><circle cx="106.7" cy="509.9" r="2.3"/><circle cx="105.9" cy="557.8" r="2.3"/><circle cx="104.7" cy="534.5" r="2.3"/><circle cx="101.5" cy="464.8" r="2.3"/><circle cx="137.8" cy="488.9" r="2.3"/><circle cx="122.5" cy="564.6" r="2.3"/><circle cx="129.7" cy="584.6" r="2.3"/><circle cx="104.2" cy="580.4" r="2.3"/><circle cx="103.9" cy="518.6" r="2.3"/><circle cx="108.3" cy="551.9" r="2.3"/><circle cx="102.6" cy="576.2" r="2.3"/><circle cx="103.3" cy="568.8" r="2.3"/><circle cx="101.2" cy="507.2" r="2.3"/><circle cx="104.8" cy="553.7" r="2.3"/><circle cx="101.2" cy="514.3" r="2.3"/><circle cx="101.2" cy="570.2" r="2.3"/><circle cx="105.5" cy="514.9" r="2.3"/><circle cx="125.0" cy="504.5" r="2.3"/><circle cx="120.4" cy="433.8" r="2.3"/><circle cx="108.7" cy="511.0" r="2.3"/><circle cx="100.2" cy="575.0" r="2.3"/><circle cx="99.8" cy="466.6" r="2.3"/><circle cx="108.7" cy="528.0" r="2.3"/><circle cx="101.8" cy="562.2" r="2.3"/><circle cx="101.0" cy="527.6" r="2.3"/><circle cx="133.0" cy="566.7" r="2.3"/><circle cx="100.0" cy="577.3" r="2.3"/><circle cx="102.8" cy="448.1" r="2.3"/><circle cx="111.1" cy="551.8" r="2.3"/><circle cx="100.5" cy="582.3" r="2.3"/><circle cx="100.9" cy="496.7" r="2.3"/><circle cx="116.7" cy="491.8" r="2.3"/><circle cx="104.2" cy="483.0" r="2.3"/><circle cx="100.7" cy="582.1" r="2.3"/><circle cx="105.5" cy="545.6" r="2.3"/><circle cx="101.3" cy="571.3" r="2.3"/><circle cx="99.9" cy="441.8" r="2.3"/><circle cx="127.3" cy="553.9" r="2.3"/><circle cx="108.9" cy="559.4" r="2.3"/><circle cx="111.4" cy="475.9" r="2.3"/><circle cx="100.7" cy="588.4" r="2.3"/><circle cx="101.4" cy="535.0" r="2.3"/><circle cx="103.0" cy="588.6" r="2.3"/><circle cx="112.1" cy="494.3" r="2.3"/><circle cx="104.1" cy="586.5" r="2.3"/><circle cx="115.1" cy="542.2" r="2.3"/><circle cx="100.2" cy="565.2" r="2.3"/><circle cx="106.6" cy="455.9" r="2.3"/><circle cx="104.3" cy="526.4" r="2.3"/><circle cx="101.3" cy="572.0" r="2.3"/><circle cx="116.2" cy="559.5" r="2.3"/><circle cx="100.5" cy="534.2" r="2.3"/><circle cx="100.6" cy="575.5" r="2.3"/><circle cx="104.0" cy="535.0" r="2.3"/><circle cx="106.8" cy="513.7" r="2.3"/><circle cx="103.8" cy="584.9" r="2.3"/><circle cx="108.7" cy="585.8" r="2.3"/><circle cx="104.2" cy="557.7" r="2.3"/><circle cx="107.5" cy="512.2" r="2.3"/><circle cx="101.6" cy="524.7" r="2.3"/><circle cx="107.9" cy="549.9" r="2.3"/><circle cx="100.8" cy="441.7" r="2.3"/><circle cx="106.1" cy="585.2" r="2.3"/><circle cx="101.5" cy="558.6" r="2.3"/><circle cx="110.6" cy="482.4" r="2.3"/><circle cx="106.7" cy="505.9" r="2.3"/><circle cx="100.0" cy="583.1" r="2.3"/><circle cx="125.9" cy="489.3" r="2.3"/><circle cx="100.0" cy="586.1" r="2.3"/><circle cx="101.6" cy="425.0" r="2.3"/><circle cx="101.4" cy="520.6" r="2.3"/><circle cx="118.4" cy="526.6" r="2.3"/><circle cx="117.3" cy="570.4" r="2.3"/><circle cx="100.9" cy="588.1" r="2.3"/><circle cx="109.6" cy="582.5" r="2.3"/><circle cx="125.0" cy="513.0" r="2.3"/><circle cx="101.1" cy="487.9" r="2.3"/><circle cx="100.9" cy="545.0" r="2.3"/><circle cx="100.5" cy="494.1" r="2.3"/><circle cx="115.1" cy="436.5" r="2.3"/><circle cx="99.7" cy="471.9" r="2.3"/><circle cx="105.4" cy="483.2" r="2.3"/><circle cx="104.6" cy="529.7" r="2.3"/><circle cx="106.0" cy="490.3" r="2.3"/><circle cx="100.3" cy="585.8" r="2.3"/><circle cx="105.2" cy="568.0" r="2.3"/><circle cx="103.2" cy="588.7" r="2.3"/><circle cx="109.3" cy="587.7" r="2.3"/><circle cx="112.1" cy="486.5" r="2.3"/><circle cx="104.0" cy="581.2" r="2.3"/><circle cx="107.0" cy="574.9" r="2.3"/><circle cx="103.6" cy="582.0" r="2.3"/><circle cx="125.9" cy="540.6" r="2.3"/><circle cx="102.7" cy="583.1" r="2.3"/><circle cx="108.9" cy="472.6" r="2.3"/><circle cx="112.9" cy="582.6" r="2.3"/><circle cx="102.9" cy="567.0" r="2.3"/><circle cx="109.8" cy="579.4" r="2.3"/><circle cx="110.0" cy="588.8" r="2.3"/><circle cx="100.2" cy="581.8" r="2.3"/><circle cx="108.0" cy="533.0" r="2.3"/><circle cx="104.8" cy="551.8" r="2.3"/><circle cx="103.4" cy="531.1" r="2.3"/><circle cx="107.0" cy="436.5" r="2.3"/><circle cx="108.9" cy="491.2" r="2.3"/><circle cx="116.8" cy="477.5" r="2.3"/><circle cx="108.5" cy="587.3" r="2.3"/><circle cx="107.7" cy="472.5" r="2.3"/><circle cx="103.6" cy="459.7" r="2.3"/><circle cx="101.1" cy="413.2" r="2.3"/><circle cx="103.8" cy="513.8" r="2.3"/><circle cx="101.7" cy="567.2" r="2.3"/><circle cx="102.7" cy="565.1" r="2.3"/><circle cx="100.4" cy="553.2" r="2.3"/><circle cx="127.4" cy="523.9" r="2.3"/><circle cx="118.5" cy="500.8" r="2.3"/><circle cx="109.5" cy="569.5" r="2.3"/><circle cx="101.7" cy="556.5" r="2.3"/><circle cx="99.8" cy="573.1" r="2.3"/><circle cx="114.9" cy="433.1" r="2.3"/><circle cx="102.5" cy="498.7" r="2.3"/><circle cx="110.1" cy="453.5" r="2.3"/><circle cx="110.8" cy="542.5" r="2.3"/><circle cx="100.5" cy="481.8" r="2.3"/><circle cx="102.3" cy="528.5" r="2.3"/><circle cx="102.9" cy="541.8" r="2.3"/><circle cx="123.3" cy="578.4" r="2.3"/><circle cx="105.0" cy="524.6" r="2.3"/><circle cx="103.4" cy="438.4" r="2.3"/><circle cx="100.4" cy="574.5" r="2.3"/><circle cx="102.1" cy="443.3" r="2.3"/><circle cx="99.8" cy="570.7" r="2.3"/><circle cx="101.1" cy="553.7" r="2.3"/><circle cx="107.8" cy="517.0" r="2.3"/><circle cx="109.3" cy="503.1" r="2.3"/><circle cx="101.7" cy="570.9" r="2.3"/><circle cx="99.9" cy="516.9" r="2.3"/><circle cx="101.3" cy="570.7" r="2.3"/><circle cx="123.0" cy="525.8" r="2.3"/><circle cx="106.0" cy="523.5" r="2.3"/><circle cx="106.1" cy="516.1" r="2.3"/><circle cx="102.2" cy="585.1" r="2.3"/><circle cx="100.2" cy="588.3" r="2.3"/><circle cx="102.8" cy="579.8" r="2.3"/><circle cx="100.5" cy="547.3" r="2.3"/><circle cx="124.1" cy="517.6" r="2.3"/><circle cx="101.9" cy="498.9" r="2.3"/><circle cx="101.1" cy="582.7" r="2.3"/><circle cx="102.2" cy="556.8" r="2.3"/><circle cx="107.9" cy="553.0" r="2.3"/><circle cx="108.8" cy="583.1" r="2.3"/><circle cx="118.5" cy="563.4" r="2.3"/><circle cx="112.2" cy="587.3" r="2.3"/><circle cx="112.1" cy="573.4" r="2.3"/><circle cx="113.2" cy="489.3" r="2.3"/><circle cx="107.5" cy="569.2" r="2.3"/><circle cx="99.8" cy="576.2" r="2.3"/><circle cx="116.2" cy="578.6" r="2.3"/><circle cx="107.2" cy="534.8" r="2.3"/><circle cx="107.3" cy="576.9" r="2.3"/><circle cx="100.8" cy="582.9" r="2.3"/><circle cx="128.1" cy="559.5" r="2.3"/><circle cx="107.1" cy="537.3" r="2.3"/><circle cx="101.5" cy="585.1" r="2.3"/><circle cx="99.8" cy="471.4" r="2.3"/><circle cx="100.7" cy="386.2" r="2.3"/><circle cx="102.9" cy="510.3" r="2.3"/><circle cx="100.7" cy="493.8" r="2.3"/><circle cx="101.7" cy="561.1" r="2.3"/><circle cx="104.9" cy="581.9" r="2.3"/><circle cx="101.7" cy="491.4" r="2.3"/><circle cx="102.1" cy="559.7" r="2.3"/><circle cx="109.8" cy="573.6" r="2.3"/><circle cx="101.2" cy="574.0" r="2.3"/><circle cx="103.1" cy="561.2" r="2.3"/><circle cx="106.9" cy="549.9" r="2.3"/><circle cx="114.0" cy="586.0" r="2.3"/><circle cx="107.3" cy="477.8" r="2.3"/><circle cx="101.6" cy="587.4" r="2.3"/><circle cx="103.7" cy="581.6" r="2.3"/><circle cx="104.0" cy="512.7" r="2.3"/><circle cx="100.4" cy="581.5" r="2.3"/><circle cx="104.3" cy="577.5" r="2.3"/><circle cx="101.5" cy="553.5" r="2.3"/><circle cx="100.6" cy="584.9" r="2.3"/><circle cx="102.8" cy="550.2" r="2.3"/><circle cx="119.0" cy="539.4" r="2.3"/><circle cx="100.2" cy="573.7" r="2.3"/><circle cx="109.2" cy="538.3" r="2.3"/><circle cx="113.4" cy="582.0" r="2.3"/><circle cx="119.8" cy="543.4" r="2.3"/><circle cx="101.6" cy="577.7" r="2.3"/><circle cx="113.7" cy="574.5" r="2.3"/><circle cx="100.3" cy="570.2" r="2.3"/><circle cx="117.7" cy="551.2" r="2.3"/><circle cx="108.9" cy="584.4" r="2.3"/><circle cx="103.9" cy="565.7" r="2.3"/><circle cx="101.3" cy="522.3" r="2.3"/><circle cx="102.8" cy="581.4" r="2.3"/><circle cx="128.7" cy="548.8" r="2.3"/><circle cx="101.1" cy="588.5" r="2.3"/><circle cx="107.1" cy="544.7" r="2.3"/><circle cx="99.9" cy="550.1" r="2.3"/><circle cx="109.1" cy="541.8" r="2.3"/><circle cx="101.6" cy="546.7" r="2.3"/><circle cx="106.2" cy="524.4" r="2.3"/><circle cx="100.8" cy="489.0" r="2.3"/><circle cx="120.1" cy="506.2" r="2.3"/><circle cx="113.3" cy="561.0" r="2.3"/><circle cx="116.0" cy="576.9" r="2.3"/><circle cx="101.5" cy="533.1" r="2.3"/><circle cx="115.9" cy="583.9" r="2.3"/><circle cx="101.4" cy="586.9" r="2.3"/><circle cx="103.7" cy="579.9" r="2.3"/><circle cx="101.2" cy="504.2" r="2.3"/><circle cx="103.3" cy="519.3" r="2.3"/><circle cx="99.8" cy="406.8" r="2.3"/><circle cx="101.6" cy="549.3" r="2.3"/><circle cx="106.5" cy="574.2" r="2.3"/><circle cx="153.6" cy="576.5" r="2.3"/><circle cx="111.3" cy="559.7" r="2.3"/><circle cx="112.3" cy="526.9" r="2.3"/><circle cx="100.4" cy="562.8" r="2.3"/><circle cx="105.0" cy="489.9" r="2.3"/><circle cx="99.7" cy="536.4" r="2.3"/><circle cx="108.6" cy="555.0" r="2.3"/><circle cx="124.5" cy="519.0" r="2.3"/><circle cx="104.1" cy="573.7" r="2.3"/><circle cx="104.5" cy="580.9" r="2.3"/><circle cx="121.9" cy="540.1" r="2.3"/><circle cx="165.0" cy="585.9" r="2.3"/><circle cx="107.7" cy="578.9" r="2.3"/><circle cx="126.1" cy="555.2" r="2.3"/><circle cx="115.5" cy="465.5" r="2.3"/><circle cx="132.2" cy="478.2" r="2.3"/><circle cx="194.0" cy="571.5" r="2.3"/><circle cx="185.1" cy="559.7" r="2.3"/><circle cx="101.3" cy="450.3" r="2.3"/><circle cx="103.0" cy="588.2" r="2.3"/><circle cx="110.0" cy="570.0" r="2.3"/><circle cx="116.0" cy="546.7" r="2.3"/><circle cx="156.4" cy="496.4" r="2.3"/><circle cx="131.5" cy="548.6" r="2.3"/><circle cx="103.4" cy="573.4" r="2.3"/><circle cx="131.9" cy="539.4" r="2.3"/><circle cx="148.1" cy="460.0" r="2.3"/><circle cx="198.1" cy="577.1" r="2.3"/><circle cx="102.1" cy="460.7" r="2.3"/><circle cx="125.0" cy="577.9" r="2.3"/><circle cx="135.0" cy="572.5" r="2.3"/><circle cx="107.8" cy="563.5" r="2.3"/><circle cx="122.0" cy="525.4" r="2.3"/><circle cx="102.0" cy="512.9" r="2.3"/><circle cx="129.1" cy="553.2" r="2.3"/><circle cx="133.2" cy="498.5" r="2.3"/><circle cx="100.0" cy="552.8" r="2.3"/><circle cx="133.7" cy="519.5" r="2.3"/><circle cx="131.0" cy="578.0" r="2.3"/><circle cx="107.7" cy="557.4" r="2.3"/><circle cx="194.7" cy="576.1" r="2.3"/><circle cx="168.8" cy="574.3" r="2.3"/><circle cx="139.6" cy="564.1" r="2.3"/><circle cx="132.4" cy="507.1" r="2.3"/><circle cx="103.8" cy="575.0" r="2.3"/><circle cx="107.0" cy="571.8" r="2.3"/><circle cx="100.8" cy="581.0" r="2.3"/><circle cx="115.3" cy="558.4" r="2.3"/><circle cx="102.1" cy="539.9" r="2.3"/><circle cx="185.3" cy="540.7" r="2.3"/><circle cx="112.9" cy="520.4" r="2.3"/><circle cx="116.9" cy="578.3" r="2.3"/><circle cx="119.4" cy="588.2" r="2.3"/><circle cx="133.5" cy="579.3" r="2.3"/><circle cx="143.4" cy="487.4" r="2.3"/><circle cx="130.5" cy="532.4" r="2.3"/><circle cx="106.3" cy="507.2" r="2.3"/><circle cx="110.4" cy="572.5" r="2.3"/><circle cx="151.4" cy="537.4" r="2.3"/><circle cx="156.5" cy="471.8" r="2.3"/><circle cx="126.4" cy="576.7" r="2.3"/><circle cx="100.2" cy="546.0" r="2.3"/><circle cx="138.5" cy="571.3" r="2.3"/><circle cx="101.9" cy="588.9" r="2.3"/><circle cx="105.4" cy="522.1" r="2.3"/><circle cx="99.8" cy="574.5" r="2.3"/><circle cx="108.9" cy="519.2" r="2.3"/><circle cx="103.3" cy="435.4" r="2.3"/><circle cx="112.0" cy="547.5" r="2.3"/><circle cx="111.3" cy="558.7" r="2.3"/><circle cx="119.3" cy="572.3" r="2.3"/><circle cx="101.4" cy="584.3" r="2.3"/><circle cx="105.0" cy="583.8" r="2.3"/><circle cx="129.0" cy="521.9" r="2.3"/><circle cx="108.9" cy="500.7" r="2.3"/><circle cx="138.8" cy="565.6" r="2.3"/><circle cx="120.0" cy="577.4" r="2.3"/><circle cx="179.0" cy="542.8" r="2.3"/><circle cx="101.3" cy="579.8" r="2.3"/><circle cx="135.1" cy="561.8" r="2.3"/><circle cx="137.6" cy="574.5" r="2.3"/><circle cx="147.6" cy="497.8" r="2.3"/><circle cx="102.7" cy="539.4" r="2.3"/><circle cx="106.1" cy="519.8" r="2.3"/><circle cx="148.6" cy="500.8" r="2.3"/><circle cx="107.6" cy="583.7" r="2.3"/><circle cx="132.4" cy="542.2" r="2.3"/><circle cx="104.2" cy="577.1" r="2.3"/><circle cx="125.9" cy="582.8" r="2.3"/><circle cx="129.9" cy="573.7" r="2.3"/><circle cx="108.7" cy="558.1" r="2.3"/><circle cx="122.6" cy="516.5" r="2.3"/><circle cx="100.6" cy="516.5" r="2.3"/><circle cx="107.2" cy="569.8" r="2.3"/><circle cx="130.3" cy="522.9" r="2.3"/><circle cx="128.3" cy="458.3" r="2.3"/><circle cx="106.6" cy="568.2" r="2.3"/><circle cx="132.3" cy="572.2" r="2.3"/><circle cx="104.8" cy="574.7" r="2.3"/><circle cx="144.0" cy="490.2" r="2.3"/><circle cx="147.1" cy="568.3" r="2.3"/><circle cx="111.1" cy="517.2" r="2.3"/><circle cx="101.4" cy="536.2" r="2.3"/><circle cx="102.5" cy="586.4" r="2.3"/><circle cx="121.3" cy="579.9" r="2.3"/><circle cx="118.3" cy="576.8" r="2.3"/><circle cx="103.5" cy="549.3" r="2.3"/><circle cx="121.8" cy="563.8" r="2.3"/><circle cx="137.5" cy="546.7" r="2.3"/><circle cx="144.5" cy="582.9" r="2.3"/><circle cx="101.9" cy="561.6" r="2.3"/><circle cx="119.5" cy="572.8" r="2.3"/><circle cx="132.8" cy="575.0" r="2.3"/><circle cx="111.2" cy="552.6" r="2.3"/><circle cx="137.1" cy="506.2" r="2.3"/><circle cx="113.6" cy="555.8" r="2.3"/><circle cx="128.6" cy="582.9" r="2.3"/><circle cx="117.9" cy="532.1" r="2.3"/><circle cx="109.5" cy="587.1" r="2.3"/><circle cx="103.8" cy="553.8" r="2.3"/><circle cx="128.7" cy="569.1" r="2.3"/><circle cx="101.8" cy="510.8" r="2.3"/><circle cx="143.9" cy="556.8" r="2.3"/><circle cx="102.4" cy="561.0" r="2.3"/><circle cx="102.7" cy="402.4" r="2.3"/><circle cx="101.3" cy="570.0" r="2.3"/><circle cx="143.5" cy="581.0" r="2.3"/><circle cx="103.1" cy="585.1" r="2.3"/><circle cx="105.1" cy="546.4" r="2.3"/><circle cx="153.4" cy="578.7" r="2.3"/><circle cx="105.4" cy="507.5" r="2.3"/><circle cx="116.3" cy="565.9" r="2.3"/><circle cx="103.6" cy="573.5" r="2.3"/><circle cx="108.7" cy="513.1" r="2.3"/><circle cx="127.5" cy="570.0" r="2.3"/><circle cx="118.5" cy="518.2" r="2.3"/><circle cx="139.4" cy="581.4" r="2.3"/><circle cx="103.1" cy="494.5" r="2.3"/><circle cx="112.1" cy="573.1" r="2.3"/><circle cx="108.5" cy="553.5" r="2.3"/><circle cx="157.5" cy="567.3" r="2.3"/><circle cx="105.4" cy="512.2" r="2.3"/><circle cx="112.2" cy="577.5" r="2.3"/><circle cx="116.0" cy="491.9" r="2.3"/><circle cx="159.3" cy="540.9" r="2.3"/><circle cx="100.0" cy="507.9" r="2.3"/><circle cx="127.7" cy="459.7" r="2.3"/><circle cx="190.8" cy="566.9" r="2.3"/><circle cx="156.3" cy="492.8" r="2.3"/><circle cx="109.0" cy="563.5" r="2.3"/><circle cx="113.8" cy="564.6" r="2.3"/><circle cx="114.0" cy="582.6" r="2.3"/><circle cx="107.4" cy="453.7" r="2.3"/><circle cx="115.6" cy="532.2" r="2.3"/><circle cx="108.1" cy="447.0" r="2.3"/><circle cx="138.8" cy="509.9" r="2.3"/><circle cx="150.0" cy="572.7" r="2.3"/><circle cx="131.7" cy="562.2" r="2.3"/><circle cx="154.6" cy="581.1" r="2.3"/><circle cx="122.9" cy="566.1" r="2.3"/><circle cx="151.2" cy="565.3" r="2.3"/><circle cx="155.4" cy="483.0" r="2.3"/><circle cx="163.0" cy="580.8" r="2.3"/><circle cx="133.6" cy="529.6" r="2.3"/><circle cx="101.2" cy="474.0" r="2.3"/><circle cx="123.5" cy="554.9" r="2.3"/><circle cx="112.1" cy="503.0" r="2.3"/><circle cx="145.4" cy="474.2" r="2.3"/><circle cx="106.9" cy="565.7" r="2.3"/><circle cx="108.3" cy="583.2" r="2.3"/><circle cx="111.6" cy="587.7" r="2.3"/><circle cx="147.5" cy="574.7" r="2.3"/><circle cx="101.9" cy="585.2" r="2.3"/><circle cx="140.2" cy="576.7" r="2.3"/><circle cx="118.3" cy="560.2" r="2.3"/><circle cx="110.8" cy="532.8" r="2.3"/><circle cx="167.2" cy="553.3" r="2.3"/><circle cx="110.9" cy="472.4" r="2.3"/><circle cx="125.2" cy="582.9" r="2.3"/><circle cx="126.3" cy="489.5" r="2.3"/><circle cx="121.6" cy="551.9" r="2.3"/><circle cx="115.9" cy="469.4" r="2.3"/><circle cx="132.6" cy="576.1" r="2.3"/><circle cx="113.2" cy="563.7" r="2.3"/><circle cx="103.7" cy="450.6" r="2.3"/><circle cx="100.8" cy="538.8" r="2.3"/><circle cx="116.7" cy="517.9" r="2.3"/><circle cx="116.5" cy="583.7" r="2.3"/><circle cx="121.9" cy="492.3" r="2.3"/><circle cx="146.4" cy="564.3" r="2.3"/><circle cx="107.2" cy="512.2" r="2.3"/><circle cx="148.2" cy="575.3" r="2.3"/><circle cx="116.7" cy="562.2" r="2.3"/><circle cx="136.8" cy="439.4" r="2.3"/><circle cx="106.5" cy="568.9" r="2.3"/><circle cx="111.7" cy="514.9" r="2.3"/><circle cx="105.9" cy="544.5" r="2.3"/><circle cx="120.5" cy="526.9" r="2.3"/><circle cx="147.3" cy="577.8" r="2.3"/><circle cx="172.0" cy="544.0" r="2.3"/><circle cx="142.5" cy="474.8" r="2.3"/><circle cx="113.2" cy="443.8" r="2.3"/><circle cx="106.7" cy="587.9" r="2.3"/><circle cx="120.6" cy="460.1" r="2.3"/><circle cx="121.1" cy="437.0" r="2.3"/><circle cx="124.3" cy="580.5" r="2.3"/><circle cx="129.6" cy="497.4" r="2.3"/><circle cx="116.2" cy="537.2" r="2.3"/><circle cx="108.7" cy="571.0" r="2.3"/><circle cx="116.1" cy="548.6" r="2.3"/><circle cx="118.6" cy="583.7" r="2.3"/><circle cx="99.9" cy="565.7" r="2.3"/><circle cx="137.6" cy="511.4" r="2.3"/><circle cx="107.8" cy="572.5" r="2.3"/><circle cx="121.5" cy="578.3" r="2.3"/><circle cx="127.4" cy="456.9" r="2.3"/><circle cx="106.5" cy="539.5" r="2.3"/><circle cx="138.0" cy="511.2" r="2.3"/><circle cx="137.1" cy="519.3" r="2.3"/><circle cx="109.2" cy="486.4" r="2.3"/><circle cx="177.4" cy="586.2" r="2.3"/><circle cx="186.2" cy="556.2" r="2.3"/><circle cx="102.4" cy="585.1" r="2.3"/><circle cx="147.5" cy="525.3" r="2.3"/><circle cx="104.3" cy="554.4" r="2.3"/><circle cx="112.0" cy="507.1" r="2.3"/><circle cx="108.1" cy="576.7" r="2.3"/><circle cx="105.0" cy="559.4" r="2.3"/><circle cx="128.6" cy="568.8" r="2.3"/><circle cx="105.0" cy="575.3" r="2.3"/><circle cx="102.4" cy="577.1" r="2.3"/><circle cx="111.1" cy="549.6" r="2.3"/><circle cx="105.8" cy="552.3" r="2.3"/><circle cx="119.7" cy="425.8" r="2.3"/><circle cx="118.8" cy="576.8" r="2.3"/><circle cx="126.6" cy="580.4" r="2.3"/><circle cx="105.3" cy="584.9" r="2.3"/><circle cx="115.2" cy="564.5" r="2.3"/><circle cx="116.3" cy="564.7" r="2.3"/><circle cx="134.9" cy="561.1" r="2.3"/><circle cx="104.7" cy="476.5" r="2.3"/><circle cx="125.2" cy="588.8" r="2.3"/><circle cx="156.5" cy="515.7" r="2.3"/><circle cx="112.8" cy="533.1" r="2.3"/><circle cx="175.6" cy="560.2" r="2.3"/><circle cx="116.7" cy="569.2" r="2.3"/><circle cx="123.9" cy="527.9" r="2.3"/><circle cx="139.5" cy="421.0" r="2.3"/><circle cx="104.4" cy="563.5" r="2.3"/><circle cx="156.9" cy="500.9" r="2.3"/><circle cx="126.4" cy="525.4" r="2.3"/><circle cx="112.2" cy="425.8" r="2.3"/><circle cx="123.6" cy="560.1" r="2.3"/><circle cx="105.7" cy="582.3" r="2.3"/><circle cx="100.5" cy="567.2" r="2.3"/><circle cx="119.3" cy="550.6" r="2.3"/><circle cx="113.3" cy="462.0" r="2.3"/><circle cx="112.6" cy="546.4" r="2.3"/><circle cx="119.1" cy="566.4" r="2.3"/><circle cx="114.4" cy="536.2" r="2.3"/><circle cx="145.9" cy="572.2" r="2.3"/><circle cx="113.6" cy="561.5" r="2.3"/><circle cx="113.2" cy="451.5" r="2.3"/><circle cx="122.9" cy="571.0" r="2.3"/><circle cx="111.8" cy="492.0" r="2.3"/><circle cx="104.9" cy="523.1" r="2.3"/><circle cx="100.4" cy="577.1" r="2.3"/><circle cx="101.5" cy="496.8" r="2.3"/><circle cx="104.5" cy="574.6" r="2.3"/><circle cx="101.5" cy="571.9" r="2.3"/><circle cx="139.4" cy="517.4" r="2.3"/><circle cx="123.7" cy="445.3" r="2.3"/><circle cx="102.5" cy="443.0" r="2.3"/><circle cx="116.8" cy="577.1" r="2.3"/><circle cx="141.1" cy="478.9" r="2.3"/><circle cx="114.3" cy="583.7" r="2.3"/><circle cx="100.9" cy="586.0" r="2.3"/><circle cx="103.7" cy="588.0" r="2.3"/><circle cx="136.7" cy="533.1" r="2.3"/><circle cx="103.3" cy="579.2" r="2.3"/><circle cx="105.7" cy="536.2" r="2.3"/><circle cx="116.8" cy="561.2" r="2.3"/><circle cx="108.5" cy="574.3" r="2.3"/><circle cx="136.4" cy="578.3" r="2.3"/><circle cx="105.6" cy="579.9" r="2.3"/><circle cx="112.7" cy="513.8" r="2.3"/><circle cx="101.5" cy="546.6" r="2.3"/><circle cx="133.9" cy="587.3" r="2.3"/><circle cx="117.1" cy="500.9" r="2.3"/><circle cx="125.4" cy="555.3" r="2.3"/><circle cx="112.0" cy="560.8" r="2.3"/><circle cx="173.6" cy="542.8" r="2.3"/><circle cx="104.3" cy="578.3" r="2.3"/><circle cx="114.2" cy="523.0" r="2.3"/><circle cx="99.8" cy="497.8" r="2.3"/><circle cx="145.9" cy="548.4" r="2.3"/><circle cx="99.9" cy="499.0" r="2.3"/><circle cx="115.7" cy="526.8" r="2.3"/><circle cx="125.0" cy="515.7" r="2.3"/><circle cx="128.4" cy="567.7" r="2.3"/><circle cx="113.9" cy="571.5" r="2.3"/><circle cx="146.3" cy="492.1" r="2.3"/><circle cx="111.2" cy="509.3" r="2.3"/><circle cx="108.8" cy="536.0" r="2.3"/><circle cx="104.9" cy="479.2" r="2.3"/><circle cx="119.8" cy="571.1" r="2.3"/><circle cx="176.6" cy="584.3" r="2.3"/><circle cx="104.5" cy="508.5" r="2.3"/><circle cx="125.3" cy="455.1" r="2.3"/><circle cx="126.2" cy="557.8" r="2.3"/><circle cx="181.0" cy="584.0" r="2.3"/><circle cx="144.7" cy="583.1" r="2.3"/><circle cx="109.4" cy="582.4" r="2.3"/><circle cx="161.2" cy="556.3" r="2.3"/><circle cx="138.6" cy="572.5" r="2.3"/><circle cx="139.0" cy="530.2" r="2.3"/><circle cx="102.8" cy="550.8" r="2.3"/><circle cx="138.1" cy="575.6" r="2.3"/><circle cx="131.6" cy="570.8" r="2.3"/><circle cx="113.6" cy="446.8" r="2.3"/><circle cx="116.4" cy="541.4" r="2.3"/><circle cx="149.3" cy="509.0" r="2.3"/><circle cx="118.0" cy="476.8" r="2.3"/><circle cx="115.1" cy="420.2" r="2.3"/><circle cx="118.9" cy="582.1" r="2.3"/><circle cx="141.2" cy="580.4" r="2.3"/><circle cx="133.8" cy="586.1" r="2.3"/><circle cx="140.2" cy="581.3" r="2.3"/><circle cx="130.1" cy="562.6" r="2.3"/><circle cx="108.3" cy="494.0" r="2.3"/><circle cx="100.7" cy="552.5" r="2.3"/><circle cx="102.4" cy="481.7" r="2.3"/><circle cx="166.8" cy="587.2" r="2.3"/><circle cx="118.4" cy="553.5" r="2.3"/><circle cx="137.7" cy="515.5" r="2.3"/><circle cx="112.3" cy="436.9" r="2.3"/><circle cx="105.8" cy="580.9" r="2.3"/><circle cx="150.3" cy="582.0" r="2.3"/><circle cx="105.9" cy="550.1" r="2.3"/><circle cx="112.0" cy="579.1" r="2.3"/><circle cx="179.4" cy="553.0" r="2.3"/><circle cx="145.9" cy="573.0" r="2.3"/><circle cx="172.8" cy="575.1" r="2.3"/><circle cx="129.6" cy="546.3" r="2.3"/><circle cx="157.6" cy="556.1" r="2.3"/><circle cx="102.8" cy="451.0" r="2.3"/><circle cx="148.8" cy="524.6" r="2.3"/><circle cx="140.7" cy="574.3" r="2.3"/><circle cx="118.4" cy="491.5" r="2.3"/><circle cx="104.9" cy="524.2" r="2.3"/><circle cx="123.9" cy="559.9" r="2.3"/><circle cx="105.2" cy="580.9" r="2.3"/><circle cx="118.8" cy="550.9" r="2.3"/><circle cx="109.1" cy="563.3" r="2.3"/><circle cx="123.9" cy="508.3" r="2.3"/><circle cx="126.4" cy="579.2" r="2.3"/><circle cx="164.9" cy="563.3" r="2.3"/><circle cx="104.2" cy="540.0" r="2.3"/><circle cx="123.5" cy="568.0" r="2.3"/><circle cx="100.6" cy="576.3" r="2.3"/><circle cx="103.7" cy="570.3" r="2.3"/><circle cx="129.5" cy="542.5" r="2.3"/><circle cx="113.2" cy="420.9" r="2.3"/><circle cx="129.9" cy="545.0" r="2.3"/><circle cx="159.2" cy="526.7" r="2.3"/><circle cx="113.1" cy="536.8" r="2.3"/><circle cx="101.7" cy="588.6" r="2.3"/><circle cx="123.9" cy="576.2" r="2.3"/><circle cx="120.9" cy="582.1" r="2.3"/><circle cx="154.1" cy="526.8" r="2.3"/><circle cx="134.3" cy="441.8" r="2.3"/><circle cx="137.2" cy="589.1" r="2.3"/><circle cx="101.2" cy="557.8" r="2.3"/><circle cx="124.9" cy="588.7" r="2.3"/><circle cx="115.8" cy="457.9" r="2.3"/><circle cx="126.4" cy="491.1" r="2.3"/><circle cx="100.1" cy="576.4" r="2.3"/><circle cx="105.6" cy="488.5" r="2.3"/><circle cx="102.9" cy="437.5" r="2.3"/><circle cx="109.0" cy="469.4" r="2.3"/><circle cx="121.4" cy="567.2" r="2.3"/><circle cx="135.6" cy="585.3" r="2.3"/><circle cx="103.2" cy="511.8" r="2.3"/><circle cx="109.2" cy="580.2" r="2.3"/><circle cx="113.3" cy="528.0" r="2.3"/><circle cx="131.5" cy="579.3" r="2.3"/><circle cx="138.5" cy="544.0" r="2.3"/><circle cx="113.0" cy="459.3" r="2.3"/><circle cx="108.5" cy="580.6" r="2.3"/><circle cx="104.9" cy="580.1" r="2.3"/><circle cx="126.3" cy="498.2" r="2.3"/><circle cx="104.9" cy="549.8" r="2.3"/><circle cx="125.3" cy="542.8" r="2.3"/><circle cx="115.7" cy="545.0" r="2.3"/><circle cx="100.2" cy="585.8" r="2.3"/><circle cx="116.2" cy="574.0" r="2.3"/><circle cx="142.1" cy="573.6" r="2.3"/><circle cx="151.8" cy="573.6" r="2.3"/><circle cx="102.6" cy="552.6" r="2.3"/><circle cx="114.4" cy="566.1" r="2.3"/><circle cx="143.2" cy="575.0" r="2.3"/><circle cx="133.0" cy="487.7" r="2.3"/><circle cx="117.8" cy="549.8" r="2.3"/><circle cx="105.7" cy="585.1" r="2.3"/><circle cx="102.3" cy="566.5" r="2.3"/><circle cx="102.5" cy="530.2" r="2.3"/><circle cx="116.2" cy="568.4" r="2.3"/><circle cx="121.2" cy="433.6" r="2.3"/><circle cx="108.1" cy="579.7" r="2.3"/><circle cx="110.6" cy="567.1" r="2.3"/><circle cx="116.5" cy="579.0" r="2.3"/><circle cx="101.1" cy="581.8" r="2.3"/><circle cx="156.1" cy="530.3" r="2.3"/><circle cx="104.8" cy="533.8" r="2.3"/><circle cx="101.5" cy="549.3" r="2.3"/><circle cx="112.0" cy="583.1" r="2.3"/><circle cx="140.4" cy="518.0" r="2.3"/><circle cx="121.1" cy="578.8" r="2.3"/><circle cx="132.9" cy="557.2" r="2.3"/><circle cx="132.2" cy="583.8" r="2.3"/><circle cx="169.6" cy="589.0" r="2.3"/><circle cx="107.3" cy="560.5" r="2.3"/><circle cx="106.3" cy="584.0" r="2.3"/><circle cx="111.9" cy="571.7" r="2.3"/><circle cx="133.0" cy="575.0" r="2.3"/><circle cx="115.1" cy="523.4" r="2.3"/><circle cx="116.6" cy="579.7" r="2.3"/><circle cx="101.9" cy="545.0" r="2.3"/><circle cx="102.9" cy="549.8" r="2.3"/><circle cx="119.8" cy="577.0" r="2.3"/><circle cx="132.9" cy="550.6" r="2.3"/><circle cx="149.3" cy="569.7" r="2.3"/><circle cx="118.9" cy="580.6" r="2.3"/><circle cx="119.5" cy="581.5" r="2.3"/><circle cx="134.4" cy="521.8" r="2.3"/><circle cx="101.1" cy="518.3" r="2.3"/><circle cx="148.1" cy="582.4" r="2.3"/><circle cx="111.4" cy="586.1" r="2.3"/><circle cx="125.9" cy="516.8" r="2.3"/><circle cx="112.5" cy="522.1" r="2.3"/><circle cx="113.4" cy="518.9" r="2.3"/><circle cx="117.0" cy="589.0" r="2.3"/><circle cx="102.6" cy="516.1" r="2.3"/><circle cx="159.7" cy="532.1" r="2.3"/><circle cx="104.8" cy="473.2" r="2.3"/><circle cx="137.6" cy="582.3" r="2.3"/><circle cx="114.1" cy="526.4" r="2.3"/><circle cx="99.8" cy="586.8" r="2.3"/><circle cx="112.8" cy="472.1" r="2.3"/><circle cx="159.8" cy="539.2" r="2.3"/><circle cx="188.3" cy="542.1" r="2.3"/><circle cx="106.3" cy="547.9" r="2.3"/><circle cx="119.5" cy="566.0" r="2.3"/><circle cx="113.7" cy="548.9" r="2.3"/><circle cx="126.3" cy="575.0" r="2.3"/><circle cx="109.4" cy="549.8" r="2.3"/><circle cx="120.7" cy="558.6" r="2.3"/><circle cx="132.4" cy="577.6" r="2.3"/><circle cx="122.5" cy="571.0" r="2.3"/><circle cx="143.8" cy="520.6" r="2.3"/><circle cx="145.3" cy="548.1" r="2.3"/><circle cx="108.3" cy="442.6" r="2.3"/><circle cx="121.2" cy="562.7" r="2.3"/><circle cx="110.0" cy="560.2" r="2.3"/><circle cx="136.7" cy="492.9" r="2.3"/><circle cx="119.5" cy="515.1" r="2.3"/><circle cx="106.9" cy="555.3" r="2.3"/><circle cx="113.0" cy="568.6" r="2.3"/><circle cx="113.1" cy="509.9" r="2.3"/><circle cx="139.4" cy="576.1" r="2.3"/><circle cx="107.7" cy="502.7" r="2.3"/><circle cx="131.6" cy="525.6" r="2.3"/><circle cx="130.0" cy="522.5" r="2.3"/><circle cx="109.3" cy="585.7" r="2.3"/><circle cx="113.1" cy="587.3" r="2.3"/><circle cx="197.8" cy="547.2" r="2.3"/><circle cx="148.7" cy="574.5" r="2.3"/><circle cx="112.0" cy="582.7" r="2.3"/><circle cx="147.3" cy="513.8" r="2.3"/><circle cx="119.8" cy="563.2" r="2.3"/><circle cx="109.1" cy="551.5" r="2.3"/><circle cx="137.1" cy="461.9" r="2.3"/><circle cx="156.4" cy="475.1" r="2.3"/><circle cx="117.1" cy="558.4" r="2.3"/><circle cx="105.8" cy="579.5" r="2.3"/><circle cx="109.6" cy="445.2" r="2.3"/><circle cx="157.2" cy="566.5" r="2.3"/><circle cx="156.9" cy="464.3" r="2.3"/><circle cx="116.4" cy="577.2" r="2.3"/><circle cx="144.1" cy="562.7" r="2.3"/><circle cx="103.5" cy="457.7" r="2.3"/><circle cx="117.1" cy="560.6" r="2.3"/><circle cx="126.8" cy="572.6" r="2.3"/><circle cx="100.3" cy="561.3" r="2.3"/><circle cx="114.0" cy="588.6" r="2.3"/><circle cx="113.6" cy="508.4" r="2.3"/><circle cx="111.8" cy="525.0" r="2.3"/><circle cx="129.1" cy="577.4" r="2.3"/><circle cx="100.3" cy="525.9" r="2.3"/><circle cx="128.0" cy="569.6" r="2.3"/><circle cx="106.4" cy="480.1" r="2.3"/><circle cx="171.7" cy="574.2" r="2.3"/><circle cx="126.2" cy="541.0" r="2.3"/><circle cx="111.4" cy="587.1" r="2.3"/><circle cx="111.5" cy="530.9" r="2.3"/><circle cx="127.3" cy="549.0" r="2.3"/><circle cx="103.6" cy="575.7" r="2.3"/><circle cx="110.9" cy="558.8" r="2.3"/><circle cx="113.2" cy="458.0" r="2.3"/><circle cx="107.9" cy="479.7" r="2.3"/><circle cx="108.1" cy="539.3" r="2.3"/><circle cx="113.9" cy="587.0" r="2.3"/><circle cx="147.4" cy="495.4" r="2.3"/><circle cx="109.1" cy="504.8" r="2.3"/><circle cx="101.4" cy="562.2" r="2.3"/><circle cx="107.5" cy="533.9" r="2.3"/><circle cx="144.8" cy="485.1" r="2.3"/><circle cx="123.5" cy="561.6" r="2.3"/><circle cx="147.9" cy="583.0" r="2.3"/><circle cx="108.7" cy="510.4" r="2.3"/><circle cx="102.6" cy="554.2" r="2.3"/><circle cx="106.9" cy="589.1" r="2.3"/><circle cx="102.6" cy="583.8" r="2.3"/><circle cx="113.5" cy="557.2" r="2.3"/><circle cx="121.0" cy="569.9" r="2.3"/><circle cx="136.0" cy="548.3" r="2.3"/><circle cx="121.1" cy="550.8" r="2.3"/><circle cx="113.6" cy="477.8" r="2.3"/><circle cx="106.8" cy="470.7" r="2.3"/><circle cx="113.0" cy="566.1" r="2.3"/><circle cx="128.3" cy="542.5" r="2.3"/><circle cx="109.7" cy="584.2" r="2.3"/><circle cx="192.9" cy="563.2" r="2.3"/><circle cx="103.3" cy="528.9" r="2.3"/><circle cx="122.5" cy="566.8" r="2.3"/><circle cx="111.6" cy="484.0" r="2.3"/><circle cx="112.1" cy="558.7" r="2.3"/><circle cx="194.0" cy="564.0" r="2.3"/><circle cx="115.1" cy="579.2" r="2.3"/><circle cx="132.3" cy="527.5" r="2.3"/><circle cx="117.4" cy="559.8" r="2.3"/><circle cx="107.6" cy="501.2" r="2.3"/><circle cx="118.0" cy="488.6" r="2.3"/><circle cx="113.8" cy="514.6" r="2.3"/><circle cx="100.6" cy="575.2" r="2.3"/><circle cx="133.5" cy="550.4" r="2.3"/><circle cx="118.9" cy="576.8" r="2.3"/><circle cx="105.4" cy="530.7" r="2.3"/><circle cx="135.2" cy="572.3" r="2.3"/><circle cx="130.7" cy="580.9" r="2.3"/><circle cx="128.2" cy="578.6" r="2.3"/><circle cx="121.1" cy="567.9" r="2.3"/><circle cx="123.7" cy="581.1" r="2.3"/><circle cx="119.5" cy="535.1" r="2.3"/><circle cx="104.0" cy="568.4" r="2.3"/><circle cx="133.8" cy="544.6" r="2.3"/><circle cx="128.5" cy="503.8" r="2.3"/><circle cx="125.1" cy="575.0" r="2.3"/><circle cx="117.2" cy="489.2" r="2.3"/><circle cx="124.8" cy="510.3" r="2.3"/><circle cx="113.3" cy="555.6" r="2.3"/><circle cx="131.4" cy="582.8" r="2.3"/><circle cx="128.1" cy="587.3" r="2.3"/><circle cx="138.8" cy="571.6" r="2.3"/><circle cx="155.8" cy="578.2" r="2.3"/><circle cx="152.5" cy="547.7" r="2.3"/><circle cx="100.2" cy="464.6" r="2.3"/><circle cx="117.1" cy="489.2" r="2.3"/><circle cx="134.7" cy="546.3" r="2.3"/><circle cx="159.2" cy="576.4" r="2.3"/><circle cx="168.3" cy="565.9" r="2.3"/><circle cx="100.5" cy="566.1" r="2.3"/><circle cx="101.8" cy="585.0" r="2.3"/><circle cx="129.1" cy="581.9" r="2.3"/><circle cx="104.9" cy="569.7" r="2.3"/><circle cx="109.5" cy="446.7" r="2.3"/><circle cx="147.4" cy="570.6" r="2.3"/><circle cx="139.2" cy="574.6" r="2.3"/><circle cx="102.6" cy="443.0" r="2.3"/><circle cx="123.8" cy="535.7" r="2.3"/><circle cx="159.1" cy="580.5" r="2.3"/><circle cx="135.8" cy="554.0" r="2.3"/><circle cx="146.0" cy="554.9" r="2.3"/><circle cx="109.6" cy="512.2" r="2.3"/><circle cx="153.1" cy="573.1" r="2.3"/><circle cx="135.3" cy="560.8" r="2.3"/><circle cx="107.3" cy="575.4" r="2.3"/><circle cx="192.1" cy="563.3" r="2.3"/><circle cx="121.1" cy="550.0" r="2.3"/><circle cx="100.5" cy="510.2" r="2.3"/><circle cx="140.7" cy="471.5" r="2.3"/><circle cx="112.9" cy="575.9" r="2.3"/><circle cx="112.5" cy="514.9" r="2.3"/><circle cx="131.9" cy="559.8" r="2.3"/><circle cx="122.0" cy="579.8" r="2.3"/><circle cx="174.9" cy="553.2" r="2.3"/><circle cx="120.9" cy="502.0" r="2.3"/><circle cx="106.3" cy="516.9" r="2.3"/><circle cx="112.8" cy="494.8" r="2.3"/><circle cx="102.7" cy="571.0" r="2.3"/><circle cx="130.0" cy="552.1" r="2.3"/><circle cx="113.9" cy="540.4" r="2.3"/><circle cx="107.1" cy="556.8" r="2.3"/><circle cx="99.8" cy="498.8" r="2.3"/><circle cx="108.5" cy="489.0" r="2.3"/><circle cx="123.8" cy="537.3" r="2.3"/><circle cx="129.2" cy="581.6" r="2.3"/><circle cx="144.7" cy="569.7" r="2.3"/><circle cx="159.3" cy="502.1" r="2.3"/><circle cx="133.7" cy="494.0" r="2.3"/><circle cx="116.9" cy="526.1" r="2.3"/><circle cx="191.3" cy="577.4" r="2.3"/><circle cx="102.9" cy="559.3" r="2.3"/><circle cx="121.1" cy="580.1" r="2.3"/><circle cx="107.2" cy="475.6" r="2.3"/><circle cx="114.4" cy="580.1" r="2.3"/><circle cx="105.8" cy="540.6" r="2.3"/><circle cx="106.0" cy="552.8" r="2.3"/><circle cx="122.8" cy="556.5" r="2.3"/><circle cx="120.7" cy="486.9" r="2.3"/><circle cx="100.2" cy="439.2" r="2.3"/><circle cx="106.4" cy="587.0" r="2.3"/><circle cx="143.5" cy="541.6" r="2.3"/><circle cx="122.9" cy="575.4" r="2.3"/><circle cx="145.3" cy="568.6" r="2.3"/><circle cx="138.6" cy="574.6" r="2.3"/><circle cx="125.2" cy="530.3" r="2.3"/><circle cx="113.6" cy="552.3" r="2.3"/><circle cx="101.7" cy="531.0" r="2.3"/><circle cx="135.0" cy="579.8" r="2.3"/><circle cx="123.7" cy="514.7" r="2.3"/><circle cx="102.9" cy="486.2" r="2.3"/><circle cx="161.0" cy="586.3" r="2.3"/><circle cx="108.3" cy="584.2" r="2.3"/><circle cx="108.4" cy="584.1" r="2.3"/><circle cx="119.9" cy="572.9" r="2.3"/><circle cx="110.4" cy="554.3" r="2.3"/><circle cx="113.6" cy="501.6" r="2.3"/><circle cx="138.2" cy="582.4" r="2.3"/><circle cx="107.3" cy="588.7" r="2.3"/><circle cx="111.7" cy="582.7" r="2.3"/><circle cx="135.5" cy="503.7" r="2.3"/><circle cx="100.8" cy="509.4" r="2.3"/><circle cx="115.6" cy="438.3" r="2.3"/><circle cx="114.7" cy="568.1" r="2.3"/><circle cx="102.0" cy="422.5" r="2.3"/><circle cx="121.2" cy="556.4" r="2.3"/><circle cx="116.9" cy="506.6" r="2.3"/><circle cx="153.0" cy="552.7" r="2.3"/><circle cx="105.6" cy="559.8" r="2.3"/><circle cx="166.3" cy="559.7" r="2.3"/><circle cx="132.1" cy="542.9" r="2.3"/><circle cx="118.3" cy="541.0" r="2.3"/><circle cx="108.1" cy="543.2" r="2.3"/><circle cx="159.7" cy="584.5" r="2.3"/><circle cx="113.5" cy="469.3" r="2.3"/><circle cx="129.3" cy="532.8" r="2.3"/><circle cx="155.3" cy="553.4" r="2.3"/><circle cx="103.9" cy="569.1" r="2.3"/><circle cx="137.1" cy="515.7" r="2.3"/><circle cx="106.6" cy="531.2" r="2.3"/><circle cx="131.8" cy="528.7" r="2.3"/><circle cx="100.4" cy="556.3" r="2.3"/><circle cx="111.5" cy="537.9" r="2.3"/><circle cx="112.0" cy="581.5" r="2.3"/><circle cx="133.0" cy="570.1" r="2.3"/><circle cx="146.6" cy="568.6" r="2.3"/><circle cx="123.4" cy="496.1" r="2.3"/><circle cx="103.4" cy="515.1" r="2.3"/><circle cx="101.8" cy="433.9" r="2.3"/><circle cx="100.5" cy="516.6" r="2.3"/><circle cx="113.5" cy="578.0" r="2.3"/><circle cx="114.8" cy="550.0" r="2.3"/><circle cx="115.8" cy="581.8" r="2.3"/><circle cx="121.9" cy="569.1" r="2.3"/><circle cx="116.8" cy="574.6" r="2.3"/><circle cx="130.9" cy="488.4" r="2.3"/><circle cx="114.7" cy="509.8" r="2.3"/><circle cx="109.5" cy="582.7" r="2.3"/><circle cx="101.0" cy="555.6" r="2.3"/><circle cx="161.8" cy="576.4" r="2.3"/><circle cx="117.1" cy="508.0" r="2.3"/><circle cx="109.4" cy="579.9" r="2.3"/><circle cx="121.7" cy="557.9" r="2.3"/><circle cx="107.9" cy="542.8" r="2.3"/><circle cx="115.8" cy="587.3" r="2.3"/><circle cx="117.3" cy="449.7" r="2.3"/><circle cx="110.5" cy="539.4" r="2.3"/><circle cx="136.9" cy="585.5" r="2.3"/><circle cx="177.1" cy="582.7" r="2.3"/><circle cx="110.5" cy="518.2" r="2.3"/><circle cx="100.3" cy="562.6" r="2.3"/><circle cx="103.8" cy="553.0" r="2.3"/><circle cx="100.2" cy="580.0" r="2.3"/><circle cx="107.2" cy="584.4" r="2.3"/><circle cx="102.5" cy="577.0" r="2.3"/><circle cx="121.6" cy="580.9" r="2.3"/><circle cx="151.3" cy="558.8" r="2.3"/><circle cx="108.4" cy="573.6" r="2.3"/><circle cx="154.6" cy="586.5" r="2.3"/><circle cx="187.4" cy="574.2" r="2.3"/><circle cx="188.0" cy="545.6" r="2.3"/><circle cx="193.6" cy="557.1" r="2.3"/><circle cx="189.2" cy="562.6" r="2.3"/><circle cx="193.7" cy="562.9" r="2.3"/><circle cx="157.0" cy="547.2" r="2.3"/><circle cx="170.8" cy="542.4" r="2.3"/><circle cx="151.5" cy="582.0" r="2.3"/><circle cx="175.3" cy="581.4" r="2.3"/><circle cx="150.7" cy="563.1" r="2.3"/><circle cx="169.2" cy="545.2" r="2.3"/><circle cx="157.3" cy="584.2" r="2.3"/><circle cx="184.0" cy="564.4" r="2.3"/><circle cx="177.4" cy="581.3" r="2.3"/><circle cx="197.3" cy="568.5" r="2.3"/><circle cx="144.9" cy="581.8" r="2.3"/><circle cx="151.6" cy="551.5" r="2.3"/><circle cx="149.9" cy="564.6" r="2.3"/><circle cx="175.8" cy="562.1" r="2.3"/><circle cx="169.3" cy="546.8" r="2.3"/><circle cx="183.6" cy="565.8" r="2.3"/><circle cx="159.9" cy="580.0" r="2.3"/><circle cx="129.7" cy="135.3" r="2.3"/><circle cx="107.4" cy="145.4" r="2.3"/><circle cx="141.9" cy="163.1" r="2.3"/><circle cx="241.9" cy="165.4" r="2.3"/><circle cx="108.8" cy="177.6" r="2.3"/><circle cx="104.2" cy="181.9" r="2.3"/><circle cx="110.9" cy="205.3" r="2.3"/><circle cx="135.7" cy="206.2" r="2.3"/><circle cx="108.5" cy="222.5" r="2.3"/><circle cx="119.8" cy="222.7" r="2.3"/><circle cx="109.5" cy="225.7" r="2.3"/><circle cx="101.4" cy="226.4" r="2.3"/><circle cx="124.2" cy="237.3" r="2.3"/><circle cx="101.4" cy="236.1" r="2.3"/><circle cx="101.4" cy="242.5" r="2.3"/><circle cx="101.4" cy="246.4" r="2.3"/><circle cx="101.4" cy="247.6" r="2.3"/><circle cx="102.8" cy="255.2" r="2.3"/><circle cx="140.5" cy="266.0" r="2.3"/><circle cx="101.4" cy="266.7" r="2.3"/><circle cx="104.6" cy="270.1" r="2.3"/><circle cx="113.1" cy="276.8" r="2.3"/><circle cx="116.6" cy="276.8" r="2.3"/><circle cx="164.0" cy="275.9" r="2.3"/><circle cx="142.4" cy="278.9" r="2.3"/><circle cx="137.8" cy="287.4" r="2.3"/><circle cx="180.3" cy="287.4" r="2.3"/><circle cx="247.2" cy="282.8" r="2.3"/><circle cx="118.4" cy="295.0" r="2.3"/><circle cx="101.4" cy="291.9" r="2.3"/><circle cx="104.7" cy="299.5" r="2.3"/><circle cx="194.1" cy="300.4" r="2.3"/><circle cx="106.2" cy="305.8" r="2.3"/><circle cx="151.6" cy="303.2" r="2.3"/><circle cx="156.4" cy="308.8" r="2.3"/><circle cx="107.0" cy="318.8" r="2.3"/><circle cx="105.3" cy="321.9" r="2.3"/><circle cx="103.0" cy="324.8" r="2.3"/><circle cx="194.5" cy="320.5" r="2.3"/><circle cx="166.2" cy="329.4" r="2.3"/><circle cx="164.0" cy="334.2" r="2.3"/><circle cx="105.4" cy="333.1" r="2.3"/><circle cx="114.5" cy="332.0" r="2.3"/><circle cx="140.5" cy="339.3" r="2.3"/><circle cx="159.6" cy="339.8" r="2.3"/><circle cx="159.6" cy="343.2" r="2.3"/><circle cx="106.7" cy="341.1" r="2.3"/><circle cx="162.3" cy="356.1" r="2.3"/><circle cx="125.4" cy="357.7" r="2.3"/><circle cx="213.2" cy="351.2" r="2.3"/><circle cx="268.5" cy="338.2" r="2.3"/><circle cx="183.5" cy="366.5" r="2.3"/><circle cx="159.4" cy="371.0" r="2.3"/><circle cx="141.0" cy="372.7" r="2.3"/><circle cx="131.6" cy="373.1" r="2.3"/><circle cx="113.9" cy="375.8" r="2.3"/><circle cx="165.4" cy="378.9" r="2.3"/><circle cx="156.4" cy="381.2" r="2.3"/><circle cx="125.1" cy="379.6" r="2.3"/><circle cx="121.0" cy="381.8" r="2.3"/><circle cx="116.2" cy="383.2" r="2.3"/><circle cx="141.9" cy="386.7" r="2.3"/><circle cx="202.6" cy="384.8" r="2.3"/><circle cx="174.6" cy="396.8" r="2.3"/><circle cx="197.7" cy="398.9" r="2.3"/><circle cx="225.1" cy="397.2" r="2.3"/><circle cx="253.8" cy="399.1" r="2.3"/><circle cx="123.3" cy="401.6" r="2.3"/><circle cx="105.3" cy="401.2" r="2.3"/><circle cx="138.0" cy="407.3" r="2.3"/><circle cx="152.9" cy="408.3" r="2.3"/><circle cx="157.8" cy="407.1" r="2.3"/><circle cx="143.7" cy="407.1" r="2.3"/><circle cx="160.5" cy="414.5" r="2.3"/><circle cx="173.4" cy="414.7" r="2.3"/><circle cx="128.6" cy="414.7" r="2.3"/><circle cx="134.3" cy="412.4" r="2.3"/><circle cx="133.9" cy="416.8" r="2.3"/><circle cx="104.2" cy="411.5" r="2.3"/><circle cx="105.6" cy="415.0" r="2.3"/><circle cx="154.3" cy="418.2" r="2.3"/><circle cx="216.4" cy="420.4" r="2.3"/><circle cx="175.5" cy="420.4" r="2.3"/><circle cx="101.4" cy="352.4" r="2.3"/><circle cx="101.4" cy="356.6" r="2.3"/><circle cx="101.4" cy="368.1" r="2.3"/><circle cx="101.4" cy="370.8" r="2.3"/><circle cx="101.4" cy="373.5" r="2.3"/><circle cx="103.0" cy="375.8" r="2.3"/><circle cx="103.0" cy="381.4" r="2.3"/><circle cx="102.1" cy="391.5" r="2.3"/><circle cx="175.7" cy="422.1" r="2.3"/><circle cx="216.6" cy="421.8" r="2.3"/><circle cx="177.5" cy="432.4" r="2.3"/><circle cx="163.1" cy="444.4" r="2.3"/><circle cx="172.3" cy="446.9" r="2.3"/><circle cx="216.4" cy="441.8" r="2.3"/><circle cx="208.5" cy="445.1" r="2.3"/><circle cx="244.2" cy="442.7" r="2.3"/><circle cx="249.2" cy="447.1" r="2.3"/><circle cx="242.1" cy="448.8" r="2.3"/><circle cx="232.9" cy="448.8" r="2.3"/><circle cx="260.1" cy="446.5" r="2.3"/><circle cx="196.8" cy="453.1" r="2.3"/><circle cx="211.8" cy="457.2" r="2.3"/><circle cx="198.7" cy="462.5" r="2.3"/><circle cx="172.3" cy="461.8" r="2.3"/><circle cx="251.6" cy="461.1" r="2.3"/><circle cx="164.0" cy="472.2" r="2.3"/><circle cx="179.4" cy="475.6" r="2.3"/><circle cx="232.2" cy="475.9" r="2.3"/><circle cx="208.3" cy="475.6" r="2.3"/><circle cx="195.9" cy="479.3" r="2.3"/><circle cx="190.6" cy="481.1" r="2.3"/><circle cx="201.4" cy="482.5" r="2.3"/><circle cx="246.0" cy="481.9" r="2.3"/><circle cx="246.0" cy="487.8" r="2.3"/><circle cx="266.3" cy="491.5" r="2.3"/><circle cx="209.5" cy="495.6" r="2.3"/><circle cx="236.2" cy="496.1" r="2.3"/><circle cx="192.9" cy="503.4" r="2.3"/><circle cx="188.3" cy="506.2" r="2.3"/><circle cx="218.0" cy="507.1" r="2.3"/><circle cx="231.3" cy="507.1" r="2.3"/><circle cx="241.9" cy="506.2" r="2.3"/><circle cx="245.1" cy="507.4" r="2.3"/><circle cx="242.8" cy="513.1" r="2.3"/><circle cx="252.2" cy="501.4" r="2.3"/><circle cx="183.5" cy="525.5" r="2.3"/><circle cx="217.1" cy="530.4" r="2.3"/><circle cx="181.4" cy="536.8" r="2.3"/><circle cx="264.9" cy="534.2" r="2.3"/><circle cx="274.6" cy="530.6" r="2.3"/><circle cx="234.8" cy="538.6" r="2.3"/><circle cx="206.5" cy="538.9" r="2.3"/><circle cx="261.4" cy="538.9" r="2.3"/><circle cx="166.7" cy="538.9" r="2.3"/><circle cx="161.4" cy="536.8" r="2.3"/><circle cx="133.6" cy="421.4" r="2.3"/><circle cx="143.1" cy="427.4" r="2.3"/><circle cx="149.0" cy="429.2" r="2.3"/><circle cx="150.4" cy="433.3" r="2.3"/><circle cx="136.6" cy="437.7" r="2.3"/><circle cx="140.1" cy="436.3" r="2.3"/><circle cx="147.2" cy="436.3" r="2.3"/><circle cx="148.1" cy="441.2" r="2.3"/><circle cx="139.2" cy="441.2" r="2.3"/><circle cx="149.3" cy="454.2" r="2.3"/><circle cx="154.3" cy="455.0" r="2.3"/><circle cx="140.1" cy="457.7" r="2.3"/><circle cx="152.0" cy="463.0" r="2.3"/><circle cx="143.7" cy="468.7" r="2.3"/><circle cx="145.4" cy="472.6" r="2.3"/><circle cx="141.4" cy="482.8" r="2.3"/><circle cx="154.3" cy="485.8" r="2.3"/><circle cx="156.9" cy="496.1" r="2.3"/><circle cx="156.1" cy="511.2" r="2.3"/><circle cx="146.3" cy="514.7" r="2.3"/><circle cx="211.8" cy="541.0" r="2.3"/><circle cx="206.1" cy="543.1" r="2.3"/><circle cx="247.5" cy="545.2" r="2.3"/><circle cx="248.9" cy="548.9" r="2.3"/><circle cx="258.5" cy="551.9" r="2.3"/><circle cx="257.7" cy="541.9" r="2.3"/><circle cx="226.2" cy="555.9" r="2.3"/><circle cx="223.9" cy="558.0" r="2.3"/><circle cx="214.8" cy="561.5" r="2.3"/><circle cx="220.1" cy="561.5" r="2.3"/><circle cx="203.8" cy="567.6" r="2.3"/><circle cx="208.7" cy="570.6" r="2.3"/><circle cx="231.4" cy="571.5" r="2.3"/><circle cx="245.4" cy="565.9" r="2.3"/><circle cx="259.4" cy="570.2" r="2.3"/><circle cx="254.5" cy="575.1" r="2.3"/><circle cx="265.5" cy="576.4" r="2.3"/><circle cx="269.4" cy="572.9" r="2.3"/><circle cx="270.4" cy="562.4" r="2.3"/><circle cx="226.7" cy="575.5" r="2.3"/><circle cx="224.4" cy="580.7" r="2.3"/><circle cx="221.8" cy="581.6" r="2.3"/><circle cx="213.6" cy="581.6" r="2.3"/><circle cx="229.3" cy="586.0" r="2.3"/><circle cx="268.2" cy="582.0" r="2.3"/><circle cx="248.9" cy="586.8" r="2.3"/><circle cx="261.2" cy="586.8" r="2.3"/><circle cx="224.8" cy="587.4" r="2.3"/><circle cx="219.5" cy="587.7" r="2.3"/><circle cx="295.5" cy="299.7" r="2.3"/><circle cx="388.5" cy="377.0" r="2.3"/><circle cx="383.1" cy="383.0" r="2.3"/><circle cx="289.9" cy="407.3" r="2.3"/><circle cx="424.7" cy="415.4" r="2.3"/><circle cx="289.2" cy="423.2" r="2.3"/><circle cx="290.2" cy="425.7" r="2.3"/><circle cx="303.7" cy="449.6" r="2.3"/><circle cx="447.6" cy="456.6" r="2.3"/><circle cx="277.5" cy="471.0" r="2.3"/><circle cx="284.2" cy="472.6" r="2.3"/><circle cx="404.4" cy="478.8" r="2.3"/><circle cx="353.4" cy="480.2" r="2.3"/><circle cx="336.2" cy="487.4" r="2.3"/><circle cx="304.0" cy="487.4" r="2.3"/><circle cx="286.5" cy="491.0" r="2.3"/><circle cx="324.9" cy="492.2" r="2.3"/><circle cx="385.1" cy="491.0" r="2.3"/><circle cx="451.6" cy="492.0" r="2.3"/><circle cx="303.3" cy="495.9" r="2.3"/><circle cx="406.2" cy="499.8" r="2.3"/><circle cx="330.6" cy="506.2" r="2.3"/><circle cx="358.4" cy="508.7" r="2.3"/><circle cx="297.5" cy="511.0" r="2.3"/><circle cx="275.0" cy="507.6" r="2.3"/><circle cx="333.8" cy="525.3" r="2.3"/><circle cx="386.0" cy="522.8" r="2.3"/><circle cx="390.4" cy="523.9" r="2.3"/><circle cx="402.1" cy="527.3" r="2.3"/><circle cx="406.5" cy="528.7" r="2.3"/><circle cx="438.2" cy="532.4" r="2.3"/><circle cx="317.5" cy="534.7" r="2.3"/><circle cx="320.3" cy="537.2" r="2.3"/><circle cx="299.4" cy="538.9" r="2.3"/><circle cx="390.9" cy="539.5" r="2.3"/><circle cx="300.9" cy="544.3" r="2.3"/><circle cx="306.5" cy="547.0" r="2.3"/><circle cx="292.1" cy="548.5" r="2.3"/><circle cx="293.5" cy="554.1" r="2.3"/><circle cx="351.8" cy="543.5" r="2.3"/><circle cx="403.6" cy="547.8" r="2.3"/><circle cx="333.6" cy="556.6" r="2.3"/><circle cx="370.2" cy="557.1" r="2.3"/><circle cx="413.9" cy="559.4" r="2.3"/><circle cx="275.9" cy="559.2" r="2.3"/><circle cx="312.1" cy="560.6" r="2.3"/><circle cx="342.2" cy="563.8" r="2.3"/><circle cx="297.0" cy="565.5" r="2.3"/><circle cx="308.6" cy="566.2" r="2.3"/><circle cx="415.1" cy="571.3" r="2.3"/><circle cx="419.5" cy="571.6" r="2.3"/><circle cx="415.1" cy="575.5" r="2.3"/><circle cx="319.3" cy="575.0" r="2.3"/><circle cx="325.6" cy="575.0" r="2.3"/><circle cx="287.6" cy="576.2" r="2.3"/><circle cx="378.4" cy="575.8" r="2.3"/><circle cx="387.3" cy="578.6" r="2.3"/><circle cx="437.8" cy="577.8" r="2.3"/><circle cx="278.5" cy="579.5" r="2.3"/><circle cx="288.5" cy="582.0" r="2.3"/><circle cx="303.0" cy="581.3" r="2.3"/><circle cx="318.7" cy="582.0" r="2.3"/><circle cx="335.7" cy="580.9" r="2.3"/><circle cx="349.9" cy="583.9" r="2.3"/><circle cx="410.6" cy="582.0" r="2.3"/><circle cx="428.4" cy="586.7" r="2.3"/><circle cx="385.5" cy="586.3" r="2.3"/><circle cx="390.4" cy="586.3" r="2.3"/><circle cx="367.4" cy="587.4" r="2.3"/><circle cx="301.6" cy="586.8" r="2.3"/><circle cx="305.1" cy="586.8" r="2.3"/><circle cx="543.3" cy="355.4" r="2.3"/><circle cx="537.5" cy="385.8" r="2.3"/><circle cx="588.3" cy="392.4" r="2.3"/><circle cx="537.8" cy="463.7" r="2.3"/><circle cx="467.4" cy="479.6" r="2.3"/><circle cx="501.5" cy="475.9" r="2.3"/><circle cx="504.6" cy="478.9" r="2.3"/><circle cx="503.3" cy="480.9" r="2.3"/><circle cx="478.5" cy="483.9" r="2.3"/><circle cx="489.3" cy="491.5" r="2.3"/><circle cx="516.4" cy="491.5" r="2.3"/><circle cx="479.4" cy="513.3" r="2.3"/><circle cx="456.8" cy="511.7" r="2.3"/><circle cx="525.4" cy="527.1" r="2.3"/><circle cx="585.3" cy="528.0" r="2.3"/><circle cx="599.1" cy="535.9" r="2.3"/><circle cx="505.6" cy="540.0" r="2.3"/><circle cx="611.6" cy="516.5" r="2.3"/><circle cx="523.7" cy="541.4" r="2.3"/><circle cx="527.4" cy="542.2" r="2.3"/><circle cx="551.7" cy="543.5" r="2.3"/><circle cx="527.4" cy="555.2" r="2.3"/><circle cx="507.3" cy="557.1" r="2.3"/><circle cx="511.0" cy="561.5" r="2.3"/><circle cx="549.5" cy="564.5" r="2.3"/><circle cx="579.5" cy="563.2" r="2.3"/><circle cx="503.3" cy="573.4" r="2.3"/><circle cx="486.5" cy="577.2" r="2.3"/><circle cx="492.4" cy="577.8" r="2.3"/><circle cx="554.4" cy="575.8" r="2.3"/><circle cx="570.6" cy="574.8" r="2.3"/><circle cx="612.1" cy="570.8" r="2.3"/><circle cx="620.5" cy="571.8" r="2.3"/><circle cx="477.4" cy="581.6" r="2.3"/><circle cx="483.5" cy="583.7" r="2.3"/><circle cx="492.1" cy="583.0" r="2.3"/><circle cx="519.5" cy="583.3" r="2.3"/><circle cx="522.2" cy="582.3" r="2.3"/><circle cx="539.3" cy="581.3" r="2.3"/><circle cx="558.7" cy="581.6" r="2.3"/><circle cx="561.5" cy="585.3" r="2.3"/><circle cx="606.1" cy="583.5" r="2.3"/><circle cx="622.6" cy="586.0" r="2.3"/><circle cx="532.0" cy="588.6" r="2.3"/><circle cx="691.3" cy="464.2" r="2.3"/><circle cx="793.4" cy="521.8" r="2.3"/><circle cx="798.7" cy="526.4" r="2.3"/><circle cx="790.2" cy="537.0" r="2.3"/><circle cx="642.5" cy="543.1" r="2.3"/><circle cx="674.4" cy="554.1" r="2.3"/><circle cx="756.6" cy="543.8" r="2.3"/><circle cx="767.1" cy="545.9" r="2.3"/><circle cx="712.0" cy="571.1" r="2.3"/><circle cx="701.5" cy="575.3" r="2.3"/><circle cx="682.2" cy="581.1" r="2.3"/><circle cx="681.5" cy="584.0" r="2.3"/><circle cx="693.2" cy="582.6" r="2.3"/><circle cx="696.6" cy="583.3" r="2.3"/><circle cx="772.3" cy="582.3" r="2.3"/><circle cx="783.9" cy="579.3" r="2.3"/><circle cx="640.1" cy="583.7" r="2.3"/></g>
<path d="M113.9 492.4C123.3 505.2 132.8 530.8 142.2 530.8C151.7 530.8 161.2 529.9 170.6 529.9C180.1 529.9 189.5 531.6 199.0 531.6C208.4 531.6 217.9 527.7 227.3 526.6C236.8 525.5 246.2 526.0 255.7 525.2C265.2 524.4 274.6 522.6 284.1 521.7C293.5 520.8 303.0 521.5 312.4 519.6C321.9 517.7 331.3 509.8 340.8 509.8C350.2 509.8 359.7 514.2 369.2 514.2C378.6 514.2 388.1 514.2 397.5 513.4C407.0 512.6 416.4 510.1 425.9 508.9C435.3 507.7 444.8 508.4 454.2 506.3C463.7 504.2 473.2 496.2 482.6 496.2C492.1 496.2 501.5 504.9 511.0 505.0C520.4 505.1 529.9 505.1 539.3 505.1C548.8 505.1 558.3 507.1 567.7 507.1C577.2 507.1 586.6 490.3 596.1 490.3C605.5 490.3 615.0 501.5 624.4 501.5C633.9 501.5 643.3 499.7 652.8 499.7C662.3 499.7 671.7 504.0 681.2 504.0C690.6 504.0 700.1 497.4 709.5 495.5C719.0 493.6 728.4 492.6 737.9 492.6C747.3 492.6 756.8 493.0 766.3 494.7C775.7 496.4 785.2 500.0 794.6 502.7" fill="none" stroke="rgb(0,210,152)" stroke-width="3.4" stroke-linejoin="round"/><g fill="rgba(0,0,0,0.1)" stroke="rgb(0,210,152)" stroke-width="1.4"><circle cx="113.9" cy="492.4" r="4.3"/><circle cx="142.2" cy="530.8" r="4.3"/><circle cx="170.6" cy="529.9" r="4.3"/><circle cx="199.0" cy="531.6" r="4.3"/><circle cx="227.3" cy="526.6" r="4.3"/><circle cx="255.7" cy="525.2" r="4.3"/><circle cx="284.1" cy="521.7" r="4.3"/><circle cx="312.4" cy="519.6" r="4.3"/><circle cx="340.8" cy="509.8" r="4.3"/><circle cx="369.2" cy="514.2" r="4.3"/><circle cx="397.5" cy="513.4" r="4.3"/><circle cx="425.9" cy="508.9" r="4.3"/><circle cx="454.2" cy="506.3" r="4.3"/><circle cx="482.6" cy="496.2" r="4.3"/><circle cx="511.0" cy="505.0" r="4.3"/><circle cx="539.3" cy="505.1" r="4.3"/><circle cx="567.7" cy="507.1" r="4.3"/><circle cx="596.1" cy="490.3" r="4.3"/><circle cx="624.4" cy="501.5" r="4.3"/><circle cx="652.8" cy="499.7" r="4.3"/><circle cx="681.2" cy="504.0" r="4.3"/><circle cx="709.5" cy="495.5" r="4.3"/><circle cx="737.9" cy="492.6" r="4.3"/><circle cx="766.3" cy="494.7" r="4.3"/><circle cx="794.6" cy="502.7" r="4.3"/></g>
<g fill="rgba(0,210,152,0.25)" stroke="rgba(0,210,152,0.5)" stroke-width="1.2"><circle cx="104.4" cy="584.5" r="2.3"/><circle cx="109.8" cy="565.0" r="2.3"/><circle cx="102.9" cy="497.4" r="2.3"/><circle cx="100.1" cy="586.1" r="2.3"/><circle cx="103.8" cy="548.3" r="2.3"/><circle cx="104.2" cy="574.2" r="2.3"/><circle cx="102.1" cy="579.7" r="2.3"/><circle cx="101.7" cy="573.9" r="2.3"/><circle cx="102.8" cy="572.8" r="2.3"/><circle cx="100.8" cy="541.7" r="2.3"/><circle cx="100.0" cy="514.6" r="2.3"/><circle cx="102.1" cy="577.2" r="2.3"/><circle cx="100.1" cy="556.4" r="2.3"/><circle cx="102.2" cy="530.5" r="2.3"/><circle cx="101.3" cy="564.7" r="2.3"/><circle cx="107.5" cy="574.4" r="2.3"/><circle cx="113.6" cy="486.2" r="2.3"/><circle cx="115.9" cy="456.8" r="2.3"/><circle cx="100.7" cy="511.5" r="2.3"/><circle cx="103.0" cy="578.7" r="2.3"/><circle cx="120.7" cy="541.1" r="2.3"/><circle cx="105.5" cy="551.5" r="2.3"/><circle cx="100.0" cy="497.4" r="2.3"/><circle cx="100.4" cy="575.4" r="2.3"/><circle cx="103.1" cy="579.2" r="2.3"/><circle cx="101.9" cy="531.5" r="2.3"/><circle cx="100.1" cy="539.3" r="2.3"/><circle cx="100.1" cy="559.4" r="2.3"/><circle cx="103.4" cy="535.5" r="2.3"/><circle cx="99.9" cy="579.4" r="2.3"/><circle cx="111.0" cy="566.3" r="2.3"/><circle cx="101.6" cy="567.5" r="2.3"/><circle cx="103.9" cy="527.0" r="2.3"/><circle cx="103.4" cy="565.4" r="2.3"/><circle cx="102.7" cy="555.8" r="2.3"/><circle cx="100.4" cy="451.5" r="2.3"/><circle cx="111.4" cy="519.9" r="2.3"/><circle cx="116.9" cy="560.3" r="2.3"/><circle cx="106.1" cy="576.5" r="2.3"/><circle cx="104.5" cy="531.3" r="2.3"/><circle cx="109.5" cy="506.5" r="2.3"/><circle cx="107.1" cy="574.8" r="2.3"/><circle cx="105.1" cy="559.4" r="2.3"/><circle cx="101.0" cy="568.0" r="2.3"/><circle cx="105.3" cy="503.8" r="2.3"/><circle cx="106.2" cy="538.1" r="2.3"/><circle cx="100.4" cy="581.4" r="2.3"/><circle cx="102.6" cy="578.2" r="2.3"/><circle cx="101.1" cy="584.2" r="2.3"/><circle cx="100.3" cy="530.9" r="2.3"/><circle cx="100.6" cy="502.3" r="2.3"/><circle cx="101.1" cy="502.0" r="2.3"/><circle cx="101.0" cy="574.8" r="2.3"/><circle cx="101.5" cy="588.6" r="2.3"/><circle cx="101.7" cy="567.1" r="2.3"/><circle cx="99.7" cy="498.0" r="2.3"/><circle cx="101.3" cy="589.2" r="2.3"/><circle cx="111.0" cy="577.2" r="2.3"/><circle cx="100.7" cy="588.1" r="2.3"/><circle cx="100.1" cy="532.1" r="2.3"/><circle cx="102.8" cy="556.8" r="2.3"/><circle cx="100.7" cy="573.6" r="2.3"/><circle cx="112.0" cy="567.7" r="2.3"/><circle cx="115.6" cy="488.7" r="2.3"/><circle cx="100.2" cy="502.2" r="2.3"/><circle cx="99.8" cy="531.9" r="2.3"/><circle cx="105.5" cy="534.3" r="2.3"/><circle cx="102.5" cy="511.9" r="2.3"/><circle cx="100.3" cy="553.4" r="2.3"/><circle cx="100.8" cy="565.7" r="2.3"/><circle cx="100.4" cy="532.3" r="2.3"/><circle cx="102.7" cy="519.5" r="2.3"/><circle cx="103.2" cy="547.0" r="2.3"/><circle cx="108.6" cy="512.0" r="2.3"/><circle cx="102.6" cy="571.0" r="2.3"/><circle cx="108.9" cy="567.8" r="2.3"/><circle cx="100.1" cy="570.5" r="2.3"/><circle cx="104.0" cy="465.6" r="2.3"/><circle cx="103.3" cy="539.1" r="2.3"/><circle cx="109.4" cy="519.8" r="2.3"/><circle cx="101.8" cy="560.6" r="2.3"/><circle cx="104.7" cy="571.6" r="2.3"/><circle cx="100.1" cy="544.6" r="2.3"/><circle cx="105.5" cy="576.0" r="2.3"/><circle cx="103.7" cy="486.2" r="2.3"/><circle cx="100.2" cy="582.5" r="2.3"/><circle cx="102.1" cy="570.4" r="2.3"/><circle cx="101.8" cy="516.5" r="2.3"/><circle cx="103.2" cy="580.4" r="2.3"/><circle cx="112.2" cy="580.4" r="2.3"/><circle cx="100.0" cy="561.4" r="2.3"/><circle cx="99.8" cy="559.0" r="2.3"/><circle cx="101.6" cy="446.8" r="2.3"/><circle cx="101.6" cy="501.7" r="2.3"/><circle cx="105.0" cy="548.5" r="2.3"/><circle cx="100.7" cy="572.4" r="2.3"/><circle cx="102.1" cy="566.0" r="2.3"/><circle cx="103.3" cy="556.7" r="2.3"/><circle cx="101.1" cy="546.1" r="2.3"/><circle cx="119.5" cy="578.8" r="2.3"/><circle cx="101.1" cy="588.6" r="2.3"/><circle cx="100.0" cy="586.6" r="2.3"/><circle cx="101.6" cy="505.6" r="2.3"/><circle cx="103.9" cy="433.0" r="2.3"/><circle cx="106.0" cy="548.5" r="2.3"/><circle cx="102.7" cy="588.6" r="2.3"/><circle cx="101.4" cy="575.2" r="2.3"/><circle cx="103.1" cy="586.1" r="2.3"/><circle cx="102.4" cy="567.5" r="2.3"/><circle cx="102.1" cy="565.3" r="2.3"/><circle cx="100.1" cy="528.5" r="2.3"/><circle cx="105.3" cy="547.1" r="2.3"/><circle cx="100.1" cy="547.0" r="2.3"/><circle cx="104.7" cy="587.0" r="2.3"/><circle cx="107.1" cy="538.7" r="2.3"/><circle cx="100.8" cy="472.6" r="2.3"/><circle cx="105.8" cy="485.1" r="2.3"/><circle cx="100.7" cy="549.5" r="2.3"/><circle cx="101.4" cy="573.0" r="2.3"/><circle cx="104.7" cy="545.0" r="2.3"/><circle cx="101.1" cy="553.1" r="2.3"/><circle cx="108.9" cy="550.6" r="2.3"/><circle cx="108.3" cy="550.7" r="2.3"/><circle cx="116.7" cy="587.8" r="2.3"/><circle cx="101.9" cy="552.1" r="2.3"/><circle cx="104.2" cy="429.3" r="2.3"/><circle cx="103.1" cy="559.2" r="2.3"/><circle cx="103.2" cy="554.0" r="2.3"/><circle cx="104.0" cy="453.7" r="2.3"/><circle cx="99.7" cy="571.4" r="2.3"/><circle cx="107.0" cy="586.4" r="2.3"/><circle cx="105.2" cy="587.8" r="2.3"/><circle cx="103.4" cy="514.8" r="2.3"/><circle cx="100.7" cy="567.0" r="2.3"/><circle cx="100.6" cy="532.9" r="2.3"/><circle cx="102.3" cy="546.3" r="2.3"/><circle cx="101.1" cy="548.4" r="2.3"/><circle cx="110.5" cy="519.5" r="2.3"/><circle cx="110.3" cy="576.1" r="2.3"/><circle cx="102.2" cy="566.7" r="2.3"/><circle cx="101.2" cy="514.1" r="2.3"/><circle cx="100.4" cy="551.5" r="2.3"/><circle cx="104.9" cy="462.7" r="2.3"/><circle cx="99.8" cy="574.6" r="2.3"/><circle cx="102.1" cy="462.1" r="2.3"/><circle cx="100.3" cy="504.4" r="2.3"/><circle cx="101.5" cy="552.6" r="2.3"/><circle cx="108.9" cy="586.1" r="2.3"/><circle cx="101.1" cy="581.4" r="2.3"/><circle cx="100.2" cy="572.5" r="2.3"/><circle cx="103.9" cy="549.1" r="2.3"/><circle cx="100.2" cy="514.6" r="2.3"/><circle cx="102.2" cy="582.1" r="2.3"/><circle cx="105.7" cy="509.9" r="2.3"/><circle cx="100.6" cy="459.7" r="2.3"/><circle cx="105.5" cy="577.2" r="2.3"/><circle cx="99.7" cy="496.0" r="2.3"/><circle cx="105.8" cy="584.5" r="2.3"/><circle cx="104.8" cy="520.7" r="2.3"/><circle cx="103.2" cy="506.7" r="2.3"/><circle cx="114.4" cy="570.9" r="2.3"/><circle cx="106.0" cy="472.1" r="2.3"/><circle cx="101.0" cy="536.1" r="2.3"/><circle cx="103.7" cy="502.0" r="2.3"/><circle cx="102.6" cy="574.3" r="2.3"/><circle cx="100.7" cy="553.1" r="2.3"/><circle cx="100.2" cy="498.6" r="2.3"/><circle cx="107.4" cy="576.4" r="2.3"/><circle cx="103.9" cy="537.6" r="2.3"/><circle cx="100.2" cy="519.7" r="2.3"/><circle cx="104.8" cy="572.3" r="2.3"/><circle cx="100.1" cy="573.9" r="2.3"/><circle cx="104.9" cy="560.2" r="2.3"/><circle cx="105.6" cy="581.2" r="2.3"/><circle cx="100.1" cy="569.4" r="2.3"/><circle cx="107.1" cy="581.1" r="2.3"/><circle cx="100.0" cy="524.7" r="2.3"/><circle cx="100.0" cy="538.3" r="2.3"/><circle cx="100.0" cy="576.1" r="2.3"/><circle cx="103.5" cy="493.8" r="2.3"/><circle cx="101.5" cy="561.6" r="2.3"/><circle cx="99.8" cy="570.0" r="2.3"/><circle cx="100.7" cy="517.5" r="2.3"/><circle cx="104.1" cy="518.4" r="2.3"/><circle cx="102.4" cy="533.7" r="2.3"/><circle cx="100.2" cy="566.8" r="2.3"/><circle cx="100.9" cy="573.9" r="2.3"/><circle cx="104.4" cy="578.1" r="2.3"/><circle cx="101.1" cy="573.9" r="2.3"/><circle cx="106.7" cy="542.2" r="2.3"/><circle cx="102.0" cy="567.1" r="2.3"/><circle cx="108.6" cy="459.8" r="2.3"/><circle cx="101.8" cy="550.6" r="2.3"/><circle cx="106.6" cy="575.5" r="2.3"/><circle cx="100.7" cy="584.2" r="2.3"/><circle cx="102.1" cy="521.7" r="2.3"/><circle cx="100.3" cy="563.1" r="2.3"/><circle cx="116.0" cy="558.9" r="2.3"/><circle cx="101.4" cy="504.8" r="2.3"/><circle cx="107.5" cy="567.4" r="2.3"/><circle cx="100.2" cy="542.5" r="2.3"/><circle cx="104.4" cy="470.7" r="2.3"/><circle cx="103.5" cy="572.2" r="2.3"/><circle cx="102.2" cy="573.5" r="2.3"/><circle cx="101.8" cy="560.1" r="2.3"/><circle cx="108.2" cy="480.1" r="2.3"/><circle cx="108.8" cy="559.2" r="2.3"/><circle cx="111.4" cy="582.3" r="2.3"/><circle cx="108.6" cy="542.0" r="2.3"/><circle cx="106.9" cy="564.6" r="2.3"/><circle cx="116.1" cy="588.0" r="2.3"/><circle cx="106.3" cy="510.2" r="2.3"/><circle cx="101.3" cy="507.8" r="2.3"/><circle cx="100.5" cy="524.8" r="2.3"/><circle cx="101.9" cy="564.8" r="2.3"/><circle cx="100.5" cy="514.9" r="2.3"/><circle cx="104.3" cy="584.9" r="2.3"/><circle cx="113.1" cy="577.7" r="2.3"/><circle cx="101.3" cy="564.5" r="2.3"/><circle cx="102.7" cy="487.2" r="2.3"/><circle cx="109.9" cy="542.9" r="2.3"/><circle cx="101.3" cy="584.0" r="2.3"/><circle cx="99.9" cy="555.4" r="2.3"/><circle cx="102.8" cy="561.8" r="2.3"/><circle cx="113.9" cy="564.6" r="2.3"/><circle cx="101.2" cy="564.2" r="2.3"/><circle cx="100.4" cy="460.0" r="2.3"/><circle cx="102.8" cy="553.1" r="2.3"/><circle cx="101.6" cy="575.9" r="2.3"/><circle cx="101.0" cy="557.8" r="2.3"/><circle cx="101.8" cy="410.2" r="2.3"/><circle cx="102.6" cy="578.5" r="2.3"/><circle cx="99.9" cy="581.2" r="2.3"/><circle cx="101.2" cy="518.8" r="2.3"/><circle cx="107.4" cy="576.8" r="2.3"/><circle cx="105.0" cy="562.3" r="2.3"/><circle cx="102.4" cy="554.1" r="2.3"/><circle cx="99.9" cy="586.0" r="2.3"/><circle cx="103.6" cy="535.3" r="2.3"/><circle cx="101.4" cy="473.2" r="2.3"/><circle cx="105.7" cy="572.6" r="2.3"/><circle cx="99.9" cy="552.0" r="2.3"/><circle cx="103.4" cy="577.5" r="2.3"/><circle cx="99.9" cy="558.4" r="2.3"/><circle cx="99.8" cy="527.6" r="2.3"/><circle cx="103.1" cy="574.1" r="2.3"/><circle cx="101.8" cy="577.0" r="2.3"/><circle cx="100.4" cy="580.0" r="2.3"/><circle cx="105.6" cy="561.3" r="2.3"/><circle cx="104.1" cy="569.5" r="2.3"/><circle cx="105.5" cy="547.4" r="2.3"/><circle cx="103.4" cy="566.2" r="2.3"/><circle cx="102.6" cy="579.4" r="2.3"/><circle cx="112.4" cy="537.7" r="2.3"/><circle cx="102.4" cy="542.2" r="2.3"/><circle cx="100.1" cy="570.4" r="2.3"/><circle cx="100.6" cy="503.7" r="2.3"/><circle cx="99.7" cy="562.1" r="2.3"/><circle cx="106.8" cy="518.8" r="2.3"/><circle cx="104.1" cy="572.6" r="2.3"/><circle cx="100.6" cy="533.0" r="2.3"/><circle cx="100.9" cy="529.9" r="2.3"/><circle cx="101.2" cy="523.2" r="2.3"/><circle cx="102.7" cy="511.2" r="2.3"/><circle cx="114.6" cy="567.2" r="2.3"/><circle cx="114.8" cy="588.7" r="2.3"/><circle cx="107.0" cy="587.8" r="2.3"/><circle cx="102.5" cy="566.5" r="2.3"/><circle cx="104.8" cy="571.7" r="2.3"/><circle cx="100.5" cy="518.5" r="2.3"/><circle cx="102.5" cy="524.2" r="2.3"/><circle cx="102.1" cy="587.5" r="2.3"/><circle cx="104.9" cy="577.8" r="2.3"/><circle cx="101.9" cy="589.2" r="2.3"/><circle cx="100.7" cy="538.6" r="2.3"/><circle cx="104.8" cy="542.5" r="2.3"/><circle cx="101.7" cy="528.3" r="2.3"/><circle cx="103.6" cy="578.6" r="2.3"/><circle cx="102.4" cy="547.2" r="2.3"/><circle cx="104.3" cy="579.0" r="2.3"/><circle cx="101.0" cy="569.8" r="2.3"/><circle cx="100.1" cy="569.4" r="2.3"/><circle cx="104.3" cy="549.4" r="2.3"/><circle cx="100.4" cy="528.5" r="2.3"/><circle cx="100.1" cy="525.0" r="2.3"/><circle cx="100.3" cy="584.5" r="2.3"/><circle cx="100.7" cy="555.8" r="2.3"/><circle cx="100.8" cy="489.8" r="2.3"/><circle cx="109.5" cy="573.8" r="2.3"/><circle cx="104.6" cy="534.3" r="2.3"/><circle cx="102.6" cy="575.6" r="2.3"/><circle cx="110.2" cy="444.5" r="2.3"/><circle cx="99.7" cy="570.7" r="2.3"/><circle cx="101.1" cy="579.0" r="2.3"/><circle cx="101.7" cy="483.8" r="2.3"/><circle cx="99.8" cy="505.8" r="2.3"/><circle cx="101.0" cy="588.6" r="2.3"/><circle cx="107.7" cy="574.5" r="2.3"/><circle cx="100.5" cy="583.5" r="2.3"/><circle cx="101.3" cy="583.3" r="2.3"/><circle cx="100.4" cy="575.9" r="2.3"/><circle cx="102.7" cy="561.9" r="2.3"/><circle cx="101.0" cy="554.8" r="2.3"/><circle cx="104.9" cy="529.8" r="2.3"/><circle cx="101.2" cy="473.8" r="2.3"/><circle cx="105.2" cy="551.1" r="2.3"/><circle cx="102.0" cy="570.7" r="2.3"/><circle cx="100.2" cy="489.2" r="2.3"/><circle cx="103.0" cy="584.4" r="2.3"/><circle cx="108.8" cy="488.5" r="2.3"/><circle cx="99.8" cy="533.5" r="2.3"/><circle cx="100.7" cy="553.8" r="2.3"/><circle cx="106.0" cy="569.3" r="2.3"/><circle cx="102.1" cy="538.7" r="2.3"/><circle cx="100.4" cy="543.8" r="2.3"/><circle cx="101.6" cy="402.5" r="2.3"/><circle cx="100.4" cy="531.9" r="2.3"/><circle cx="99.8" cy="574.4" r="2.3"/><circle cx="100.1" cy="581.8" r="2.3"/><circle cx="102.3" cy="580.4" r="2.3"/><circle cx="105.2" cy="584.5" r="2.3"/><circle cx="103.1" cy="498.1" r="2.3"/><circle cx="100.2" cy="577.9" r="2.3"/><circle cx="104.8" cy="559.9" r="2.3"/><circle cx="109.1" cy="570.2" r="2.3"/><circle cx="101.5" cy="443.4" r="2.3"/><circle cx="101.2" cy="432.7" r="2.3"/><circle cx="107.5" cy="578.9" r="2.3"/><circle cx="102.5" cy="458.4" r="2.3"/><circle cx="100.1" cy="502.0" r="2.3"/><circle cx="104.9" cy="525.3" r="2.3"/><circle cx="102.9" cy="584.3" r="2.3"/><circle cx="110.8" cy="584.2" r="2.3"/><circle cx="105.1" cy="529.9" r="2.3"/><circle cx="101.0" cy="535.9" r="2.3"/><circle cx="101.6" cy="525.1" r="2.3"/><circle cx="99.9" cy="464.1" r="2.3"/><circle cx="101.4" cy="514.2" r="2.3"/><circle cx="101.9" cy="512.0" r="2.3"/><circle cx="101.0" cy="552.8" r="2.3"/><circle cx="99.8" cy="558.2" r="2.3"/><circle cx="100.0" cy="498.7" r="2.3"/><circle cx="103.7" cy="563.7" r="2.3"/><circle cx="112.5" cy="453.8" r="2.3"/><circle cx="110.7" cy="585.2" r="2.3"/><circle cx="104.0" cy="529.2" r="2.3"/><circle cx="103.0" cy="588.5" r="2.3"/><circle cx="108.7" cy="562.6" r="2.3"/><circle cx="102.9" cy="511.4" r="2.3"/><circle cx="100.8" cy="587.8" r="2.3"/><circle cx="130.5" cy="576.3" r="2.3"/><circle cx="100.2" cy="583.2" r="2.3"/><circle cx="102.5" cy="582.7" r="2.3"/><circle cx="127.1" cy="544.4" r="2.3"/><circle cx="110.2" cy="583.4" r="2.3"/><circle cx="106.1" cy="469.1" r="2.3"/><circle cx="99.7" cy="566.9" r="2.3"/><circle cx="101.0" cy="463.1" r="2.3"/><circle cx="121.8" cy="535.2" r="2.3"/><circle cx="100.2" cy="540.4" r="2.3"/><circle cx="107.9" cy="561.5" r="2.3"/><circle cx="101.6" cy="559.7" r="2.3"/><circle cx="119.1" cy="583.4" r="2.3"/><circle cx="124.8" cy="566.9" r="2.3"/><circle cx="103.4" cy="578.0" r="2.3"/><circle cx="107.1" cy="546.4" r="2.3"/><circle cx="109.8" cy="498.6" r="2.3"/><circle cx="108.3" cy="559.7" r="2.3"/><circle cx="153.7" cy="579.3" r="2.3"/><circle cx="99.9" cy="572.9" r="2.3"/><circle cx="104.2" cy="583.8" r="2.3"/><circle cx="106.2" cy="587.8" r="2.3"/><circle cx="130.1" cy="562.0" r="2.3"/><circle cx="125.0" cy="540.1" r="2.3"/><circle cx="115.4" cy="530.9" r="2.3"/><circle cx="104.0" cy="535.6" r="2.3"/><circle cx="102.5" cy="556.0" r="2.3"/><circle cx="110.6" cy="527.9" r="2.3"/><circle cx="101.9" cy="571.9" r="2.3"/><circle cx="120.6" cy="522.2" r="2.3"/><circle cx="145.5" cy="584.0" r="2.3"/><circle cx="102.5" cy="584.6" r="2.3"/><circle cx="115.1" cy="533.1" r="2.3"/><circle cx="112.2" cy="527.2" r="2.3"/><circle cx="108.4" cy="555.3" r="2.3"/><circle cx="130.2" cy="546.3" r="2.3"/><circle cx="112.5" cy="552.7" r="2.3"/><circle cx="107.9" cy="531.2" r="2.3"/><circle cx="109.9" cy="583.5" r="2.3"/><circle cx="106.4" cy="566.8" r="2.3"/><circle cx="106.5" cy="555.4" r="2.3"/><circle cx="105.1" cy="568.8" r="2.3"/><circle cx="106.4" cy="570.2" r="2.3"/><circle cx="142.6" cy="585.3" r="2.3"/><circle cx="99.9" cy="536.8" r="2.3"/><circle cx="105.7" cy="564.8" r="2.3"/><circle cx="110.5" cy="570.4" r="2.3"/><circle cx="103.0" cy="588.6" r="2.3"/><circle cx="124.5" cy="474.5" r="2.3"/><circle cx="103.7" cy="563.5" r="2.3"/><circle cx="104.4" cy="586.7" r="2.3"/><circle cx="126.5" cy="514.9" r="2.3"/><circle cx="103.0" cy="577.1" r="2.3"/><circle cx="114.1" cy="523.8" r="2.3"/><circle cx="107.3" cy="569.1" r="2.3"/><circle cx="102.9" cy="523.5" r="2.3"/><circle cx="123.6" cy="509.1" r="2.3"/><circle cx="101.2" cy="552.2" r="2.3"/><circle cx="150.3" cy="537.7" r="2.3"/><circle cx="107.1" cy="582.8" r="2.3"/><circle cx="100.4" cy="535.2" r="2.3"/><circle cx="100.6" cy="521.3" r="2.3"/><circle cx="112.8" cy="562.9" r="2.3"/><circle cx="126.4" cy="478.5" r="2.3"/><circle cx="111.2" cy="584.9" r="2.3"/><circle cx="110.4" cy="566.8" r="2.3"/><circle cx="103.1" cy="480.9" r="2.3"/><circle cx="115.4" cy="583.9" r="2.3"/><circle cx="102.8" cy="572.0" r="2.3"/><circle cx="109.9" cy="573.1" r="2.3"/><circle cx="106.6" cy="520.3" r="2.3"/><circle cx="102.1" cy="537.0" r="2.3"/><circle cx="104.5" cy="470.5" r="2.3"/><circle cx="136.1" cy="572.9" r="2.3"/><circle cx="110.9" cy="584.4" r="2.3"/><circle cx="106.0" cy="549.1" r="2.3"/><circle cx="111.9" cy="572.0" r="2.3"/><circle cx="100.1" cy="583.8" r="2.3"/><circle cx="109.6" cy="581.5" r="2.3"/><circle cx="104.1" cy="549.7" r="2.3"/><circle cx="127.4" cy="559.5" r="2.3"/><circle cx="103.2" cy="553.0" r="2.3"/><circle cx="103.6" cy="526.7" r="2.3"/><circle cx="101.7" cy="576.7" r="2.3"/><circle cx="106.6" cy="491.3" r="2.3"/><circle cx="101.9" cy="580.4" r="2.3"/><circle cx="101.4" cy="579.3" r="2.3"/><circle cx="104.5" cy="568.6" r="2.3"/><circle cx="116.8" cy="568.0" r="2.3"/><circle cx="107.4" cy="568.5" r="2.3"/><circle cx="117.6" cy="493.4" r="2.3"/><circle cx="106.4" cy="484.9" r="2.3"/><circle cx="103.2" cy="433.0" r="2.3"/><circle cx="108.6" cy="542.2" r="2.3"/><circle cx="105.5" cy="576.2" r="2.3"/><circle cx="101.4" cy="500.4" r="2.3"/><circle cx="105.0" cy="540.0" r="2.3"/><circle cx="107.1" cy="558.5" r="2.3"/><circle cx="102.5" cy="581.2" r="2.3"/><circle cx="104.6" cy="542.3" r="2.3"/><circle cx="109.1" cy="589.1" r="2.3"/><circle cx="114.6" cy="565.9" r="2.3"/><circle cx="100.6" cy="576.9" r="2.3"/><circle cx="102.6" cy="518.2" r="2.3"/><circle cx="109.3" cy="573.0" r="2.3"/><circle cx="103.1" cy="575.1" r="2.3"/><circle cx="103.6" cy="571.8" r="2.3"/><circle cx="118.5" cy="525.5" r="2.3"/><circle cx="114.1" cy="500.5" r="2.3"/><circle cx="112.4" cy="584.3" r="2.3"/><circle cx="100.2" cy="581.8" r="2.3"/><circle cx="103.3" cy="558.4" r="2.3"/><circle cx="120.4" cy="553.0" r="2.3"/><circle cx="106.4" cy="577.8" r="2.3"/><circle cx="147.7" cy="531.8" r="2.3"/><circle cx="104.7" cy="587.3" r="2.3"/><circle cx="147.8" cy="577.1" r="2.3"/><circle cx="122.3" cy="584.1" r="2.3"/><circle cx="112.4" cy="571.1" r="2.3"/><circle cx="126.1" cy="574.7" r="2.3"/><circle cx="101.0" cy="580.1" r="2.3"/><circle cx="119.4" cy="431.5" r="2.3"/><circle cx="112.1" cy="542.2" r="2.3"/><circle cx="103.7" cy="576.2" r="2.3"/><circle cx="100.8" cy="417.5" r="2.3"/><circle cx="100.2" cy="550.3" r="2.3"/><circle cx="104.9" cy="580.7" r="2.3"/><circle cx="106.6" cy="479.7" r="2.3"/><circle cx="103.1" cy="581.8" r="2.3"/><circle cx="111.6" cy="545.3" r="2.3"/><circle cx="108.3" cy="581.1" r="2.3"/><circle cx="124.6" cy="584.4" r="2.3"/><circle cx="102.0" cy="577.8" r="2.3"/><circle cx="108.4" cy="562.7" r="2.3"/><circle cx="109.4" cy="535.9" r="2.3"/><circle cx="126.6" cy="563.3" r="2.3"/><circle cx="100.2" cy="516.3" r="2.3"/><circle cx="99.9" cy="573.5" r="2.3"/><circle cx="101.6" cy="551.4" r="2.3"/><circle cx="118.0" cy="583.5" r="2.3"/><circle cx="103.9" cy="511.1" r="2.3"/><circle cx="113.7" cy="584.5" r="2.3"/><circle cx="113.6" cy="524.4" r="2.3"/><circle cx="106.0" cy="582.3" r="2.3"/><circle cx="112.6" cy="573.4" r="2.3"/><circle cx="101.4" cy="581.8" r="2.3"/><circle cx="105.9" cy="583.6" r="2.3"/><circle cx="105.5" cy="556.3" r="2.3"/><circle cx="109.3" cy="568.0" r="2.3"/><circle cx="119.0" cy="585.4" r="2.3"/><circle cx="104.5" cy="478.1" r="2.3"/><circle cx="123.7" cy="485.2" r="2.3"/><circle cx="117.1" cy="557.7" r="2.3"/><circle cx="118.3" cy="554.3" r="2.3"/><circle cx="101.2" cy="577.1" r="2.3"/><circle cx="100.9" cy="503.9" r="2.3"/><circle cx="104.4" cy="567.7" r="2.3"/><circle cx="109.0" cy="584.8" r="2.3"/><circle cx="114.4" cy="524.1" r="2.3"/><circle cx="118.8" cy="501.9" r="2.3"/><circle cx="104.3" cy="582.8" r="2.3"/><circle cx="116.9" cy="540.7" r="2.3"/><circle cx="105.3" cy="571.9" r="2.3"/><circle cx="101.7" cy="516.1" r="2.3"/><circle cx="107.1" cy="520.6" r="2.3"/><circle cx="104.7" cy="573.3" r="2.3"/><circle cx="108.3" cy="533.0" r="2.3"/><circle cx="125.4" cy="571.3" r="2.3"/><circle cx="113.9" cy="568.0" r="2.3"/><circle cx="123.4" cy="530.6" r="2.3"/><circle cx="109.4" cy="570.7" r="2.3"/><circle cx="103.5" cy="500.5" r="2.3"/><circle cx="119.1" cy="574.3" r="2.3"/><circle cx="100.8" cy="580.3" r="2.3"/><circle cx="139.7" cy="587.6" r="2.3"/><circle cx="119.6" cy="558.3" r="2.3"/><circle cx="109.4" cy="557.4" r="2.3"/><circle cx="106.0" cy="555.8" r="2.3"/><circle cx="100.8" cy="485.7" r="2.3"/><circle cx="101.0" cy="583.1" r="2.3"/><circle cx="113.1" cy="547.2" r="2.3"/><circle cx="119.4" cy="540.8" r="2.3"/><circle cx="131.7" cy="587.0" r="2.3"/><circle cx="99.8" cy="578.1" r="2.3"/><circle cx="117.8" cy="582.4" r="2.3"/><circle cx="108.8" cy="528.8" r="2.3"/><circle cx="101.7" cy="558.4" r="2.3"/><circle cx="127.4" cy="532.7" r="2.3"/><circle cx="105.8" cy="562.5" r="2.3"/><circle cx="103.6" cy="456.6" r="2.3"/><circle cx="118.0" cy="542.4" r="2.3"/><circle cx="104.1" cy="535.2" r="2.3"/><circle cx="107.7" cy="523.5" r="2.3"/><circle cx="105.1" cy="501.7" r="2.3"/><circle cx="113.5" cy="564.6" r="2.3"/><circle cx="109.6" cy="522.2" r="2.3"/><circle cx="108.7" cy="456.9" r="2.3"/><circle cx="99.8" cy="495.8" r="2.3"/><circle cx="114.7" cy="561.6" r="2.3"/><circle cx="122.5" cy="582.6" r="2.3"/><circle cx="104.6" cy="537.9" r="2.3"/><circle cx="120.5" cy="570.1" r="2.3"/><circle cx="161.4" cy="546.3" r="2.3"/><circle cx="100.3" cy="583.8" r="2.3"/><circle cx="100.7" cy="554.6" r="2.3"/><circle cx="104.4" cy="576.8" r="2.3"/><circle cx="106.8" cy="585.9" r="2.3"/><circle cx="128.4" cy="514.5" r="2.3"/><circle cx="109.5" cy="565.1" r="2.3"/><circle cx="104.1" cy="551.3" r="2.3"/><circle cx="104.8" cy="437.1" r="2.3"/><circle cx="137.2" cy="536.0" r="2.3"/><circle cx="120.7" cy="586.0" r="2.3"/><circle cx="101.3" cy="571.8" r="2.3"/><circle cx="101.3" cy="566.7" r="2.3"/><circle cx="151.0" cy="515.4" r="2.3"/><circle cx="138.0" cy="578.9" r="2.3"/><circle cx="102.7" cy="588.2" r="2.3"/><circle cx="103.5" cy="586.8" r="2.3"/><circle cx="108.7" cy="574.5" r="2.3"/><circle cx="113.1" cy="555.4" r="2.3"/><circle cx="110.6" cy="574.6" r="2.3"/><circle cx="115.6" cy="541.3" r="2.3"/><circle cx="114.7" cy="563.1" r="2.3"/><circle cx="107.2" cy="575.4" r="2.3"/><circle cx="100.2" cy="563.5" r="2.3"/><circle cx="111.2" cy="580.8" r="2.3"/><circle cx="123.3" cy="502.6" r="2.3"/><circle cx="122.8" cy="519.7" r="2.3"/><circle cx="107.7" cy="581.3" r="2.3"/><circle cx="103.5" cy="534.3" r="2.3"/><circle cx="149.8" cy="584.4" r="2.3"/><circle cx="99.8" cy="571.3" r="2.3"/><circle cx="104.9" cy="551.8" r="2.3"/><circle cx="101.1" cy="513.0" r="2.3"/><circle cx="104.7" cy="491.1" r="2.3"/><circle cx="104.5" cy="574.3" r="2.3"/><circle cx="102.0" cy="450.9" r="2.3"/><circle cx="110.4" cy="517.6" r="2.3"/><circle cx="100.5" cy="557.1" r="2.3"/><circle cx="132.8" cy="584.7" r="2.3"/><circle cx="108.9" cy="460.2" r="2.3"/><circle cx="103.2" cy="588.1" r="2.3"/><circle cx="134.8" cy="576.6" r="2.3"/><circle cx="109.6" cy="570.9" r="2.3"/><circle cx="110.0" cy="477.8" r="2.3"/><circle cx="134.9" cy="503.2" r="2.3"/><circle cx="103.3" cy="518.6" r="2.3"/><circle cx="99.9" cy="567.1" r="2.3"/><circle cx="134.3" cy="577.1" r="2.3"/><circle cx="105.2" cy="553.4" r="2.3"/><circle cx="102.9" cy="538.6" r="2.3"/><circle cx="112.4" cy="585.1" r="2.3"/><circle cx="130.0" cy="586.2" r="2.3"/><circle cx="114.0" cy="571.6" r="2.3"/><circle cx="101.6" cy="585.9" r="2.3"/><circle cx="107.1" cy="524.3" r="2.3"/><circle cx="141.7" cy="482.2" r="2.3"/><circle cx="108.8" cy="576.0" r="2.3"/><circle cx="108.5" cy="425.9" r="2.3"/><circle cx="115.4" cy="543.7" r="2.3"/><circle cx="121.9" cy="567.6" r="2.3"/><circle cx="109.5" cy="511.7" r="2.3"/><circle cx="102.4" cy="508.9" r="2.3"/><circle cx="100.0" cy="557.6" r="2.3"/><circle cx="110.0" cy="582.7" r="2.3"/><circle cx="130.3" cy="565.5" r="2.3"/><circle cx="102.2" cy="567.4" r="2.3"/><circle cx="110.4" cy="566.2" r="2.3"/><circle cx="99.7" cy="585.2" r="2.3"/><circle cx="114.7" cy="583.4" r="2.3"/><circle cx="103.2" cy="521.6" r="2.3"/><circle cx="123.4" cy="501.7" r="2.3"/><circle cx="102.0" cy="589.0" r="2.3"/><circle cx="116.5" cy="551.7" r="2.3"/><circle cx="105.1" cy="588.4" r="2.3"/><circle cx="106.5" cy="578.1" r="2.3"/><circle cx="110.3" cy="427.4" r="2.3"/><circle cx="102.5" cy="586.0" r="2.3"/><circle cx="113.9" cy="584.5" r="2.3"/><circle cx="102.7" cy="565.5" r="2.3"/><circle cx="151.0" cy="573.1" r="2.3"/><circle cx="104.3" cy="562.8" r="2.3"/><circle cx="101.8" cy="568.1" r="2.3"/><circle cx="114.2" cy="573.1" r="2.3"/><circle cx="118.8" cy="580.8" r="2.3"/><circle cx="101.0" cy="548.7" r="2.3"/><circle cx="106.9" cy="486.5" r="2.3"/><circle cx="101.0" cy="532.9" r="2.3"/><circle cx="113.0" cy="570.2" r="2.3"/><circle cx="101.3" cy="550.4" r="2.3"/><circle cx="116.7" cy="563.0" r="2.3"/><circle cx="107.4" cy="541.7" r="2.3"/><circle cx="111.0" cy="566.6" r="2.3"/><circle cx="102.2" cy="563.6" r="2.3"/><circle cx="109.3" cy="496.2" r="2.3"/><circle cx="162.9" cy="555.8" r="2.3"/><circle cx="104.5" cy="578.9" r="2.3"/><circle cx="111.6" cy="534.2" r="2.3"/><circle cx="103.1" cy="541.1" r="2.3"/><circle cx="197.5" cy="565.7" r="2.3"/><circle cx="136.7" cy="506.6" r="2.3"/><circle cx="107.7" cy="571.8" r="2.3"/><circle cx="112.5" cy="562.6" r="2.3"/><circle cx="147.5" cy="548.3" r="2.3"/><circle cx="192.7" cy="543.8" r="2.3"/><circle cx="99.8" cy="586.2" r="2.3"/><circle cx="101.0" cy="566.0" r="2.3"/><circle cx="100.7" cy="558.6" r="2.3"/><circle cx="134.7" cy="579.9" r="2.3"/><circle cx="167.6" cy="567.3" r="2.3"/><circle cx="133.6" cy="557.2" r="2.3"/><circle cx="110.4" cy="527.1" r="2.3"/><circle cx="99.8" cy="577.4" r="2.3"/><circle cx="113.2" cy="501.5" r="2.3"/><circle cx="124.0" cy="587.7" r="2.3"/><circle cx="112.1" cy="550.6" r="2.3"/><circle cx="157.6" cy="584.5" r="2.3"/><circle cx="152.6" cy="568.9" r="2.3"/><circle cx="125.7" cy="566.8" r="2.3"/><circle cx="146.3" cy="539.8" r="2.3"/><circle cx="105.0" cy="587.7" r="2.3"/><circle cx="161.9" cy="543.3" r="2.3"/><circle cx="134.6" cy="573.8" r="2.3"/><circle cx="110.6" cy="485.1" r="2.3"/><circle cx="126.3" cy="588.4" r="2.3"/><circle cx="114.3" cy="571.6" r="2.3"/><circle cx="102.2" cy="432.5" r="2.3"/><circle cx="99.8" cy="567.0" r="2.3"/><circle cx="103.8" cy="536.1" r="2.3"/><circle cx="157.7" cy="525.3" r="2.3"/><circle cx="154.6" cy="583.9" r="2.3"/><circle cx="100.2" cy="585.2" r="2.3"/><circle cx="125.1" cy="578.2" r="2.3"/><circle cx="167.8" cy="583.9" r="2.3"/><circle cx="113.5" cy="589.1" r="2.3"/><circle cx="151.3" cy="522.9" r="2.3"/><circle cx="151.8" cy="481.8" r="2.3"/><circle cx="148.3" cy="578.7" r="2.3"/><circle cx="113.4" cy="572.1" r="2.3"/><circle cx="119.7" cy="583.6" r="2.3"/><circle cx="142.1" cy="559.1" r="2.3"/><circle cx="150.7" cy="572.4" r="2.3"/><circle cx="118.4" cy="533.2" r="2.3"/><circle cx="142.1" cy="499.5" r="2.3"/><circle cx="112.7" cy="511.8" r="2.3"/><circle cx="146.5" cy="554.3" r="2.3"/><circle cx="118.1" cy="554.9" r="2.3"/><circle cx="102.5" cy="585.0" r="2.3"/><circle cx="112.8" cy="583.8" r="2.3"/><circle cx="101.4" cy="537.4" r="2.3"/><circle cx="145.7" cy="550.0" r="2.3"/><circle cx="107.8" cy="536.7" r="2.3"/><circle cx="160.9" cy="549.6" r="2.3"/><circle cx="108.7" cy="555.1" r="2.3"/><circle cx="117.3" cy="576.3" r="2.3"/><circle cx="105.3" cy="507.1" r="2.3"/><circle cx="134.7" cy="478.5" r="2.3"/><circle cx="106.3" cy="576.6" r="2.3"/><circle cx="124.6" cy="586.7" r="2.3"/><circle cx="112.3" cy="557.3" r="2.3"/><circle cx="122.7" cy="490.6" r="2.3"/><circle cx="129.8" cy="547.6" r="2.3"/><circle cx="130.5" cy="526.1" r="2.3"/><circle cx="115.7" cy="589.2" r="2.3"/><circle cx="104.4" cy="584.3" r="2.3"/><circle cx="108.5" cy="545.2" r="2.3"/><circle cx="104.6" cy="588.4" r="2.3"/><circle cx="123.6" cy="588.9" r="2.3"/><circle cx="110.2" cy="569.4" r="2.3"/><circle cx="107.7" cy="589.1" r="2.3"/><circle cx="110.2" cy="577.7" r="2.3"/><circle cx="113.4" cy="567.2" r="2.3"/><circle cx="115.3" cy="573.1" r="2.3"/><circle cx="100.4" cy="514.7" r="2.3"/><circle cx="146.6" cy="561.3" r="2.3"/><circle cx="99.8" cy="578.3" r="2.3"/><circle cx="180.5" cy="564.1" r="2.3"/><circle cx="107.7" cy="518.9" r="2.3"/><circle cx="177.4" cy="583.9" r="2.3"/><circle cx="124.0" cy="555.4" r="2.3"/><circle cx="104.1" cy="573.4" r="2.3"/><circle cx="133.4" cy="543.3" r="2.3"/><circle cx="134.4" cy="549.5" r="2.3"/><circle cx="116.3" cy="586.3" r="2.3"/><circle cx="100.3" cy="514.6" r="2.3"/><circle cx="102.5" cy="529.0" r="2.3"/><circle cx="106.3" cy="571.8" r="2.3"/><circle cx="107.5" cy="508.6" r="2.3"/><circle cx="159.5" cy="515.9" r="2.3"/><circle cx="116.5" cy="476.4" r="2.3"/><circle cx="110.2" cy="554.2" r="2.3"/><circle cx="138.9" cy="578.3" r="2.3"/><circle cx="116.5" cy="584.9" r="2.3"/><circle cx="155.4" cy="580.8" r="2.3"/><circle cx="104.8" cy="575.8" r="2.3"/><circle cx="135.5" cy="547.6" r="2.3"/><circle cx="125.7" cy="510.4" r="2.3"/><circle cx="148.6" cy="579.5" r="2.3"/><circle cx="126.5" cy="581.6" r="2.3"/><circle cx="109.4" cy="582.7" r="2.3"/><circle cx="102.5" cy="571.5" r="2.3"/><circle cx="175.8" cy="545.4" r="2.3"/><circle cx="102.9" cy="579.1" r="2.3"/><circle cx="131.0" cy="558.2" r="2.3"/><circle cx="100.6" cy="585.2" r="2.3"/><circle cx="128.9" cy="551.5" r="2.3"/><circle cx="102.6" cy="528.4" r="2.3"/><circle cx="109.3" cy="552.7" r="2.3"/><circle cx="126.1" cy="572.2" r="2.3"/><circle cx="119.0" cy="557.3" r="2.3"/><circle cx="151.1" cy="557.5" r="2.3"/><circle cx="143.9" cy="547.5" r="2.3"/><circle cx="149.6" cy="579.2" r="2.3"/><circle cx="129.1" cy="565.4" r="2.3"/><circle cx="108.9" cy="526.8" r="2.3"/><circle cx="108.4" cy="538.5" r="2.3"/><circle cx="123.2" cy="566.4" r="2.3"/><circle cx="142.6" cy="536.3" r="2.3"/><circle cx="156.0" cy="576.6" r="2.3"/><circle cx="138.4" cy="561.1" r="2.3"/><circle cx="198.4" cy="564.9" r="2.3"/><circle cx="115.2" cy="588.1" r="2.3"/><circle cx="121.9" cy="558.0" r="2.3"/><circle cx="112.6" cy="584.6" r="2.3"/><circle cx="122.9" cy="586.2" r="2.3"/><circle cx="106.3" cy="565.1" r="2.3"/><circle cx="114.7" cy="560.8" r="2.3"/><circle cx="126.1" cy="569.0" r="2.3"/><circle cx="104.7" cy="588.4" r="2.3"/><circle cx="128.4" cy="445.2" r="2.3"/><circle cx="111.3" cy="571.4" r="2.3"/><circle cx="113.2" cy="533.5" r="2.3"/><circle cx="123.5" cy="524.0" r="2.3"/><circle cx="99.9" cy="583.4" r="2.3"/><circle cx="107.8" cy="570.3" r="2.3"/><circle cx="117.5" cy="569.2" r="2.3"/><circle cx="129.7" cy="453.5" r="2.3"/><circle cx="135.6" cy="552.2" r="2.3"/><circle cx="161.4" cy="572.5" r="2.3"/><circle cx="101.0" cy="459.5" r="2.3"/><circle cx="126.5" cy="553.4" r="2.3"/><circle cx="102.1" cy="533.1" r="2.3"/><circle cx="116.1" cy="546.9" r="2.3"/><circle cx="111.4" cy="486.5" r="2.3"/><circle cx="115.8" cy="576.0" r="2.3"/><circle cx="178.2" cy="578.9" r="2.3"/><circle cx="110.8" cy="561.8" r="2.3"/><circle cx="108.0" cy="524.0" r="2.3"/><circle cx="102.4" cy="567.3" r="2.3"/><circle cx="195.7" cy="550.7" r="2.3"/><circle cx="192.9" cy="550.9" r="2.3"/><circle cx="144.8" cy="544.1" r="2.3"/><circle cx="146.4" cy="558.7" r="2.3"/><circle cx="198.4" cy="557.0" r="2.3"/><circle cx="183.6" cy="541.6" r="2.3"/><circle cx="171.9" cy="565.9" r="2.3"/><circle cx="147.7" cy="567.8" r="2.3"/><circle cx="167.9" cy="555.7" r="2.3"/><circle cx="190.2" cy="573.2" r="2.3"/><circle cx="100.0" cy="113.7" r="2.3"/><circle cx="101.4" cy="236.1" r="2.3"/><circle cx="122.8" cy="266.0" r="2.3"/><circle cx="223.7" cy="263.0" r="2.3"/><circle cx="114.5" cy="282.7" r="2.3"/><circle cx="147.2" cy="286.2" r="2.3"/><circle cx="122.4" cy="305.3" r="2.3"/><circle cx="119.1" cy="311.0" r="2.3"/><circle cx="111.3" cy="319.1" r="2.3"/><circle cx="185.8" cy="323.5" r="2.3"/><circle cx="104.2" cy="328.3" r="2.3"/><circle cx="112.2" cy="331.9" r="2.3"/><circle cx="111.5" cy="339.3" r="2.3"/><circle cx="183.0" cy="340.0" r="2.3"/><circle cx="104.2" cy="346.0" r="2.3"/><circle cx="134.3" cy="349.9" r="2.3"/><circle cx="126.0" cy="361.6" r="2.3"/><circle cx="125.4" cy="366.5" r="2.3"/><circle cx="128.3" cy="376.1" r="2.3"/><circle cx="256.9" cy="377.2" r="2.3"/><circle cx="114.5" cy="386.7" r="2.3"/><circle cx="119.4" cy="395.9" r="2.3"/><circle cx="140.7" cy="397.7" r="2.3"/><circle cx="152.5" cy="397.2" r="2.3"/><circle cx="103.8" cy="395.6" r="2.3"/><circle cx="252.9" cy="406.9" r="2.3"/><circle cx="111.8" cy="405.7" r="2.3"/><circle cx="145.1" cy="405.5" r="2.3"/><circle cx="146.9" cy="411.2" r="2.3"/><circle cx="181.0" cy="412.9" r="2.3"/><circle cx="141.9" cy="414.7" r="2.3"/><circle cx="121.9" cy="417.3" r="2.3"/><circle cx="146.9" cy="418.6" r="2.3"/><circle cx="187.0" cy="432.7" r="2.3"/><circle cx="194.5" cy="435.9" r="2.3"/><circle cx="254.8" cy="426.5" r="2.3"/><circle cx="269.3" cy="450.4" r="2.3"/><circle cx="175.5" cy="469.7" r="2.3"/><circle cx="208.6" cy="466.4" r="2.3"/><circle cx="217.7" cy="469.9" r="2.3"/><circle cx="168.1" cy="483.9" r="2.3"/><circle cx="208.3" cy="485.7" r="2.3"/><circle cx="190.0" cy="491.7" r="2.3"/><circle cx="228.1" cy="492.6" r="2.3"/><circle cx="228.1" cy="496.5" r="2.3"/><circle cx="221.5" cy="501.8" r="2.3"/><circle cx="179.4" cy="501.1" r="2.3"/><circle cx="175.5" cy="503.7" r="2.3"/><circle cx="204.2" cy="505.7" r="2.3"/><circle cx="192.9" cy="510.4" r="2.3"/><circle cx="260.5" cy="505.8" r="2.3"/><circle cx="213.2" cy="518.4" r="2.3"/><circle cx="176.1" cy="519.1" r="2.3"/><circle cx="245.1" cy="520.4" r="2.3"/><circle cx="238.7" cy="530.8" r="2.3"/><circle cx="215.9" cy="536.3" r="2.3"/><circle cx="270.8" cy="518.2" r="2.3"/><circle cx="115.7" cy="422.1" r="2.3"/><circle cx="150.8" cy="421.4" r="2.3"/><circle cx="115.4" cy="428.8" r="2.3"/><circle cx="153.9" cy="440.9" r="2.3"/><circle cx="130.4" cy="458.1" r="2.3"/><circle cx="152.0" cy="461.6" r="2.3"/><circle cx="134.8" cy="476.6" r="2.3"/><circle cx="137.5" cy="484.6" r="2.3"/><circle cx="149.5" cy="490.4" r="2.3"/><circle cx="146.3" cy="494.3" r="2.3"/><circle cx="135.7" cy="503.2" r="2.3"/><circle cx="153.4" cy="517.3" r="2.3"/><circle cx="195.6" cy="541.9" r="2.3"/><circle cx="214.8" cy="569.4" r="2.3"/><circle cx="211.8" cy="572.9" r="2.3"/><circle cx="236.7" cy="572.5" r="2.3"/><circle cx="243.2" cy="565.5" r="2.3"/><circle cx="242.5" cy="572.5" r="2.3"/><circle cx="229.2" cy="580.7" r="2.3"/><circle cx="240.2" cy="582.0" r="2.3"/><circle cx="242.5" cy="579.9" r="2.3"/><circle cx="271.7" cy="555.4" r="2.3"/><circle cx="214.5" cy="586.0" r="2.3"/><circle cx="272.5" cy="586.0" r="2.3"/><circle cx="295.5" cy="260.8" r="2.3"/><circle cx="356.1" cy="356.8" r="2.3"/><circle cx="351.1" cy="406.2" r="2.3"/><circle cx="306.7" cy="411.7" r="2.3"/><circle cx="423.1" cy="427.4" r="2.3"/><circle cx="446.3" cy="433.8" r="2.3"/><circle cx="292.0" cy="438.1" r="2.3"/><circle cx="395.7" cy="452.2" r="2.3"/><circle cx="283.8" cy="471.9" r="2.3"/><circle cx="419.4" cy="485.5" r="2.3"/><circle cx="399.8" cy="492.2" r="2.3"/><circle cx="291.8" cy="512.6" r="2.3"/><circle cx="298.4" cy="512.0" r="2.3"/><circle cx="283.8" cy="528.0" r="2.3"/><circle cx="279.4" cy="524.8" r="2.3"/><circle cx="316.6" cy="533.3" r="2.3"/><circle cx="395.4" cy="530.6" r="2.3"/><circle cx="359.6" cy="538.9" r="2.3"/><circle cx="308.8" cy="550.8" r="2.3"/><circle cx="330.4" cy="550.3" r="2.3"/><circle cx="377.3" cy="552.2" r="2.3"/><circle cx="382.4" cy="549.2" r="2.3"/><circle cx="392.4" cy="553.3" r="2.3"/><circle cx="385.2" cy="556.6" r="2.3"/><circle cx="390.1" cy="558.5" r="2.3"/><circle cx="299.0" cy="572.3" r="2.3"/><circle cx="353.9" cy="572.7" r="2.3"/><circle cx="392.7" cy="572.0" r="2.3"/><circle cx="449.9" cy="569.5" r="2.3"/><circle cx="306.5" cy="581.4" r="2.3"/><circle cx="278.8" cy="582.0" r="2.3"/><circle cx="315.6" cy="582.1" r="2.3"/><circle cx="346.4" cy="580.9" r="2.3"/><circle cx="346.4" cy="583.0" r="2.3"/><circle cx="341.5" cy="586.3" r="2.3"/><circle cx="368.4" cy="582.8" r="2.3"/><circle cx="363.5" cy="583.9" r="2.3"/><circle cx="408.8" cy="577.6" r="2.3"/><circle cx="426.1" cy="582.1" r="2.3"/><circle cx="412.3" cy="587.7" r="2.3"/><circle cx="415.5" cy="588.1" r="2.3"/><circle cx="570.6" cy="390.1" r="2.3"/><circle cx="508.6" cy="418.2" r="2.3"/><circle cx="604.2" cy="427.1" r="2.3"/><circle cx="521.5" cy="461.9" r="2.3"/><circle cx="594.3" cy="461.9" r="2.3"/><circle cx="593.9" cy="485.0" r="2.3"/><circle cx="624.2" cy="487.4" r="2.3"/><circle cx="492.5" cy="511.2" r="2.3"/><circle cx="629.0" cy="508.5" r="2.3"/><circle cx="457.5" cy="532.9" r="2.3"/><circle cx="633.2" cy="526.2" r="2.3"/><circle cx="525.8" cy="537.3" r="2.3"/><circle cx="464.3" cy="552.2" r="2.3"/><circle cx="501.4" cy="576.7" r="2.3"/><circle cx="464.1" cy="579.5" r="2.3"/><circle cx="458.8" cy="581.3" r="2.3"/><circle cx="503.5" cy="587.0" r="2.3"/><circle cx="552.4" cy="583.0" r="2.3"/><circle cx="558.6" cy="584.7" r="2.3"/><circle cx="574.3" cy="588.1" r="2.3"/><circle cx="602.3" cy="586.7" r="2.3"/><circle cx="809.3" cy="352.7" r="2.3"/><circle cx="700.1" cy="471.0" r="2.3"/><circle cx="788.6" cy="522.1" r="2.3"/><circle cx="805.8" cy="532.9" r="2.3"/><circle cx="654.5" cy="527.3" r="2.3"/><circle cx="676.5" cy="546.4" r="2.3"/><circle cx="757.6" cy="562.7" r="2.3"/><circle cx="656.3" cy="577.6" r="2.3"/></g>
</g>
<g font-size="13.5" letter-spacing="0.13"><rect x="819.9" y="92.85" width="44.4" height="13.4" fill="rgba(0,210,152,0.25)" stroke="rgba(0,210,152,0.5)" stroke-width="1.1"/><text x="871.2" y="102.95">Kalshi Markets</text><rect x="819.9" y="117.20" width="44.4" height="13.4" fill="rgba(0,0,0,0.1)" stroke="rgb(0,210,152)" stroke-width="3.4"/><text x="871.2" y="127.30">Kalshi Accuracy</text><rect x="819.9" y="141.55" width="44.4" height="13.4" fill="rgba(67,55,201,0.25)" stroke="rgba(67,55,201,0.5)" stroke-width="1.1"/><text x="871.2" y="151.65">Manifold Markets</text><rect x="819.9" y="165.90" width="44.4" height="13.4" fill="rgba(0,0,0,0.1)" stroke="rgb(67,55,201)" stroke-width="3.4"/><text x="871.2" y="176.00">Manifold Accuracy</text><rect x="819.9" y="190.25" width="44.4" height="13.4" fill="rgba(36,48,64,0.25)" stroke="rgba(36,48,64,0.5)" stroke-width="1.1"/><text x="871.2" y="200.35">Metaculus Markets</text><rect x="819.9" y="214.60" width="44.4" height="13.4" fill="rgba(0,0,0,0.1)" stroke="rgb(36,48,64)" stroke-width="3.4"/><text x="871.2" y="224.70">Metaculus Accuracy</text><rect x="819.9" y="238.95" width="44.4" height="13.4" fill="rgba(0,114,249,0.25)" stroke="rgba(0,114,249,0.5)" stroke-width="1.1"/><text x="871.2" y="249.05">Polymarket Markets</text><rect x="819.9" y="263.30" width="44.4" height="13.4" fill="rgba(0,0,0,0.1)" stroke="rgb(0,114,249)" stroke-width="3.4"/><text x="871.2" y="273.40">Polymarket Accuracy</text></g>
</svg></body></html>
